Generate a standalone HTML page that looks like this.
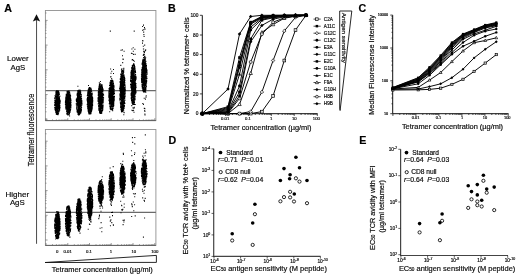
<!DOCTYPE html>
<html><head><meta charset="utf-8"><title>Figure</title>
<style>html,body{margin:0;padding:0;background:#fff;overflow:hidden}svg{display:block}text{font-family:"Liberation Sans",Arial,sans-serif;stroke:#000;stroke-width:0.18px}</style>
</head><body>
<svg width="520" height="278" viewBox="0 0 520 278">
<rect width="520" height="278" fill="#fff"/>
<text x="4.3" y="11.8" font-size="10.7" text-anchor="start" fill="#000" font-weight="bold" >A</text>
<text x="168.0" y="11.7" font-size="10.7" text-anchor="start" fill="#000" font-weight="bold" >B</text>
<text x="358.6" y="11.8" font-size="10.7" text-anchor="start" fill="#000" font-weight="bold" >C</text>
<text x="168.6" y="143.7" font-size="10.7" text-anchor="start" fill="#000" font-weight="bold" >D</text>
<text x="359.2" y="143.8" font-size="10.7" text-anchor="start" fill="#000" font-weight="bold" >E</text>
<rect x="45.4" y="10.5" width="110.5" height="110.1" fill="none" stroke="#909090" stroke-width="0.9"/>
<path d="M45.4 119.2h2.2M45.4 111.8h1.1M45.4 107.5h1.1M45.4 104.4h1.1M45.4 102.0h1.1M45.4 100.1h1.1M45.4 98.4h1.1M45.4 97.0h1.1M45.4 95.7h1.1M45.4 94.5h2.2M45.4 87.1h1.1M45.4 82.8h1.1M45.4 79.7h1.1M45.4 77.3h1.1M45.4 75.4h1.1M45.4 73.7h1.1M45.4 72.3h1.1M45.4 71.0h1.1M45.4 69.8h2.2M45.4 62.4h1.1M45.4 58.1h1.1M45.4 55.0h1.1M45.4 52.6h1.1M45.4 50.7h1.1M45.4 49.0h1.1M45.4 47.6h1.1M45.4 46.3h1.1M45.4 45.1h2.2M45.4 37.7h1.1M45.4 33.4h1.1M45.4 30.3h1.1M45.4 27.9h1.1M45.4 26.0h1.1M45.4 24.3h1.1M45.4 22.9h1.1M45.4 21.6h1.1M45.4 20.4h2.2M45.4 13.0h1.1M46.0 120.6v-2.4M52.5 120.6v-1.2M56.4 120.6v-1.2M59.1 120.6v-1.2M61.2 120.6v-1.2M62.9 120.6v-1.2M64.4 120.6v-1.2M65.6 120.6v-1.2M66.8 120.6v-1.2M67.8 120.6v-2.4M74.3 120.6v-1.2M78.1 120.6v-1.2M80.8 120.6v-1.2M83.0 120.6v-1.2M84.7 120.6v-1.2M86.1 120.6v-1.2M87.4 120.6v-1.2M88.5 120.6v-1.2M89.5 120.6v-2.4M96.0 120.6v-1.2M99.9 120.6v-1.2M102.6 120.6v-1.2M104.7 120.6v-1.2M106.4 120.6v-1.2M107.9 120.6v-1.2M109.1 120.6v-1.2M110.3 120.6v-1.2M111.2 120.6v-2.4M117.8 120.6v-1.2M121.6 120.6v-1.2M124.3 120.6v-1.2M126.5 120.6v-1.2M128.2 120.6v-1.2M129.6 120.6v-1.2M130.9 120.6v-1.2M132.0 120.6v-1.2M133.0 120.6v-2.4M139.5 120.6v-1.2M143.4 120.6v-1.2M146.1 120.6v-1.2M148.2 120.6v-1.2M149.9 120.6v-1.2M151.4 120.6v-1.2M152.6 120.6v-1.2M153.8 120.6v-1.2M154.8 120.6v-2.4" stroke="#555" stroke-width="0.6" fill="none"/>
<path d="M45.4 120.6H155.9" stroke="#5a5a5a" stroke-width="0.9"/>
<path d="M45.4 90.7H155.9" stroke="#6a6a6a" stroke-width="1.2"/>
<ellipse cx="57.4" cy="102.7" rx="1.6" ry="9.6" fill="#000"/>
<ellipse cx="68.2" cy="103.0" rx="1.6" ry="9.6" fill="#000"/>
<ellipse cx="79.1" cy="102.5" rx="1.6" ry="10.0" fill="#000"/>
<ellipse cx="89.9" cy="100.8" rx="1.6" ry="10.6" fill="#000"/>
<ellipse cx="100.8" cy="98.5" rx="1.6" ry="12.0" fill="#000"/>
<ellipse cx="111.7" cy="95.0" rx="1.6" ry="12.0" fill="#000"/>
<ellipse cx="122.5" cy="91.2" rx="1.6" ry="16.6" fill="#000"/>
<ellipse cx="133.3" cy="84.5" rx="1.6" ry="16.0" fill="#000"/>
<ellipse cx="144.2" cy="75.2" rx="1.6" ry="13.4" fill="#000"/>
<path d="M56.3 99.0h1.1M57.8 92.7h1.1M54.2 104.2h1.1M56.2 91.7h1.1M55.3 97.0h1.1M56.5 110.0h1.1M55.1 105.2h1.1M55.6 104.0h1.1M58.1 92.0h1.1M58.5 101.2h1.1M54.8 103.7h1.1M58.8 104.1h1.1M55.4 93.3h1.1M58.4 104.9h1.1M58.1 108.7h1.1M56.0 99.9h1.1M57.7 106.8h1.1M59.4 103.0h1.1M54.2 98.2h1.1M57.5 102.8h1.1M55.7 94.8h1.1M57.0 113.6h1.1M58.0 99.4h1.1M55.4 104.1h1.1M56.0 113.1h1.1M58.0 92.4h1.1M58.0 98.1h1.1M56.3 91.3h1.1M55.3 104.8h1.1M56.4 108.5h1.1M59.5 100.7h1.1M57.7 92.9h1.1M58.5 111.5h1.1M59.5 107.0h1.1M56.6 113.4h1.1M55.3 94.8h1.1M58.7 102.4h1.1M57.4 98.0h1.1M55.8 104.7h1.1M55.3 106.6h1.1M59.4 101.9h1.1M58.1 100.7h1.1M56.6 105.3h1.1M56.3 114.2h1.1M56.6 99.4h1.1M58.5 103.8h1.1M56.6 104.8h1.1M57.4 104.8h1.1M57.8 113.4h1.1M58.6 94.0h1.1M55.8 102.4h1.1M57.6 93.5h1.1M54.8 102.3h1.1M59.2 96.1h1.1M55.6 94.6h1.1M55.9 108.2h1.1M57.7 106.7h1.1M56.1 112.1h1.1M59.2 103.2h1.1M55.0 105.3h1.1M54.8 109.4h1.1M55.5 96.0h1.1M57.6 114.3h1.1M58.7 97.5h1.1M59.5 101.7h1.1M56.2 113.4h1.1M57.9 93.5h1.1M55.2 96.1h1.1M54.9 102.3h1.1M57.2 110.2h1.1M58.8 108.8h1.1M57.8 111.6h1.1M58.6 93.1h1.1M54.6 102.1h1.1M56.3 107.4h1.1M57.6 91.5h1.1M57.3 109.5h1.1M55.7 105.8h1.1M55.9 91.3h1.1M59.5 103.1h1.1M56.6 114.2h1.1M56.5 91.5h1.1M57.8 108.4h1.1M57.1 110.2h1.1M58.2 111.8h1.1M54.8 110.0h1.1M55.2 103.2h1.1M55.2 111.2h1.1M56.4 108.7h1.1M54.7 102.2h1.1M58.4 99.1h1.1M56.5 108.9h1.1M56.0 97.2h1.1M55.1 102.7h1.1M55.0 101.7h1.1M58.2 106.6h1.1M57.7 102.7h1.1M55.3 112.5h1.1M56.4 110.3h1.1M55.8 100.6h1.1M57.6 101.4h1.1M54.6 108.9h1.1M57.9 113.0h1.1M58.8 94.5h1.1M59.2 96.5h1.1M56.4 111.5h1.1M57.9 95.0h1.1M57.5 99.4h1.1M57.6 93.2h1.1M55.4 103.6h1.1M58.5 100.4h1.1M56.6 102.8h1.1M57.0 113.8h1.1M54.4 97.8h1.1M57.3 97.8h1.1M58.4 110.6h1.1M58.5 100.9h1.1M56.5 106.8h1.1M56.3 109.3h1.1M56.8 97.7h1.1M56.6 109.3h1.1M58.3 92.5h1.1M57.8 91.0h1.1M56.3 112.6h1.1M55.8 91.9h1.1M56.4 113.8h1.1M57.7 96.1h1.1M57.6 103.1h1.1M57.5 102.7h1.1M54.5 109.4h1.1M56.0 91.1h1.1M57.7 102.8h1.1M58.5 93.6h1.1M58.5 105.8h1.1M56.4 113.8h1.1M56.4 114.1h1.1M55.7 100.9h1.1M56.9 110.2h1.1M57.1 101.4h1.1M58.3 111.1h1.1M54.8 104.5h1.1M57.4 102.0h1.1M57.2 90.8h1.1M56.1 113.9h1.1M55.7 91.6h1.1M56.9 99.8h1.1M56.2 93.0h1.1M54.8 97.2h1.1M57.2 97.6h1.1M58.1 104.2h1.1M56.1 98.6h1.1M58.9 105.8h1.1M58.8 108.4h1.1M55.2 94.7h1.1M58.1 91.9h1.1M54.7 107.6h1.1M55.4 112.2h1.1M55.4 110.0h1.1M57.0 93.0h1.1M57.5 113.5h1.1M54.9 103.7h1.1M56.8 102.5h1.1M55.4 108.0h1.1M57.1 105.9h1.1M57.1 97.3h1.1M54.9 96.9h1.1M59.4 107.8h1.1M57.1 110.5h1.1M55.2 108.5h1.1M57.2 92.8h1.1M54.8 105.7h1.1M56.9 91.0h1.1M56.7 113.8h1.1M57.8 106.2h1.1M55.4 102.1h1.1M57.4 114.4h1.1M55.8 114.0h1.1M57.1 98.2h1.1M56.4 114.4h1.1M57.1 92.7h1.1M57.1 113.3h1.1M55.4 111.5h1.1M59.4 102.6h1.1M56.9 91.4h1.1M55.6 106.4h1.1M55.6 101.1h1.1M56.9 110.3h1.1M56.5 110.3h1.1M59.3 107.1h1.1M57.1 97.3h1.1M57.4 114.6h1.1M55.5 112.6h1.1M57.1 98.0h1.1M57.4 105.3h1.1M57.9 101.5h1.1M55.7 108.9h1.1M55.3 109.6h1.1M57.1 107.3h1.1M59.1 101.8h1.1M54.2 102.4h1.1M57.9 95.3h1.1M58.9 98.4h1.1M57.7 100.9h1.1M55.6 103.6h1.1M57.2 105.5h1.1M58.3 103.5h1.1M56.4 114.5h1.1M56.0 103.5h1.1M56.5 99.5h1.1M54.5 100.1h1.1M58.4 111.6h1.1M54.7 100.4h1.1M55.7 100.3h1.1M58.6 102.6h1.1M55.7 94.1h1.1M58.5 93.2h1.1M58.3 100.8h1.1M54.9 110.5h1.1M57.8 94.1h1.1M56.2 113.7h1.1M59.5 100.6h1.1M56.5 113.8h1.1M56.3 96.6h1.1M58.0 113.0h1.1M55.4 93.0h1.1M56.1 108.8h1.1M55.8 105.5h1.1M58.5 105.1h1.1M56.4 106.8h1.1M54.3 98.5h1.1M56.1 100.5h1.1M57.2 91.0h1.1M55.9 98.0h1.1M56.0 102.3h1.1M57.4 91.5h1.1M57.2 92.2h1.1M57.4 92.9h1.1M56.4 112.6h1.1M58.9 106.7h1.1M57.5 106.4h1.1M55.4 107.8h1.1M56.1 102.6h1.1M57.5 96.8h1.1M55.5 93.6h1.1M55.8 111.8h1.1M57.1 113.2h1.1M56.8 92.2h1.1M54.7 101.1h1.1M59.4 100.6h1.1M54.2 107.6h1.1M57.5 99.2h1.1M57.8 91.6h1.1M59.1 110.3h1.1M56.9 95.2h1.1M56.0 92.9h1.1M59.1 103.7h1.1M59.2 99.8h1.1M55.5 93.1h1.1M54.2 100.2h1.1M59.0 99.0h1.1M57.4 91.5h1.1M56.8 91.8h1.1M56.6 109.4h1.1M59.2 108.0h1.1M55.8 100.0h1.1M58.8 97.6h1.1M56.2 112.5h1.1M57.2 91.4h1.1M58.2 107.2h1.1M59.1 109.0h1.1M55.7 94.3h1.1M55.0 109.4h1.1M57.9 104.7h1.1M54.5 102.0h1.1M55.6 102.8h1.1M56.6 97.2h1.1M55.2 102.4h1.1M55.8 114.1h1.1M56.5 97.6h1.1M59.7 101.2h1.1M57.3 95.3h1.1M54.8 105.0h1.1M57.7 108.8h1.1M58.1 103.8h1.1M56.1 96.0h1.1M56.0 96.9h1.1M55.6 99.1h1.1M56.0 102.7h1.1M54.1 105.7h1.1M56.0 90.8h1.1M54.8 110.3h1.1M56.3 111.3h1.1M54.5 95.7h1.1M56.1 112.7h1.1M55.9 101.8h1.1M58.1 93.6h1.1M55.8 96.5h1.1M55.4 91.9h1.1M54.9 104.5h1.1M58.8 109.7h1.1M57.5 106.3h1.1M56.9 92.8h1.1M56.6 103.5h1.1M55.1 109.2h1.1M56.5 105.4h1.1M57.8 100.7h1.1M55.5 106.1h1.1M58.5 98.8h1.1M56.9 101.1h1.1M58.1 105.5h1.1M56.8 96.1h1.1M59.2 101.3h1.1M55.6 104.1h1.1M56.7 94.2h1.1M54.3 105.4h1.1M54.2 104.0h1.1M56.1 94.6h1.1M57.1 112.6h1.1M54.8 108.1h1.1M54.5 98.5h1.1M56.2 113.9h1.1M54.9 104.7h1.1M55.6 112.0h1.1M59.3 105.4h1.1M57.6 104.8h1.1M57.5 95.6h1.1M57.2 112.9h1.1M56.2 94.0h1.1M56.0 91.8h1.1M57.9 106.1h1.1M69.4 104.9h1.1M66.7 106.0h1.1M69.7 101.7h1.1M67.0 103.0h1.1M66.2 105.3h1.1M69.6 102.1h1.1M69.6 110.6h1.1M68.0 93.9h1.1M65.4 100.3h1.1M67.9 92.1h1.1M66.3 109.1h1.1M65.4 108.5h1.1M67.6 91.7h1.1M70.0 96.2h1.1M65.5 98.5h1.1M65.6 106.9h1.1M68.4 92.8h1.1M69.7 95.3h1.1M68.7 112.4h1.1M65.0 103.0h1.1M65.8 104.7h1.1M67.5 99.3h1.1M69.6 101.2h1.1M65.2 106.7h1.1M66.9 109.5h1.1M68.9 105.7h1.1M65.9 104.0h1.1M69.2 97.6h1.1M68.8 108.1h1.1M68.3 114.7h1.1M67.4 99.5h1.1M65.9 95.7h1.1M69.2 98.7h1.1M70.4 105.8h1.1M65.7 108.0h1.1M69.1 95.0h1.1M66.5 101.5h1.1M67.1 94.6h1.1M67.7 91.6h1.1M66.1 98.9h1.1M66.7 101.4h1.1M69.3 96.4h1.1M67.6 95.3h1.1M66.3 107.4h1.1M70.2 105.7h1.1M66.8 101.2h1.1M69.0 92.5h1.1M69.5 104.8h1.1M65.3 97.6h1.1M67.6 92.7h1.1M67.5 97.3h1.1M67.1 91.3h1.1M68.2 94.8h1.1M68.2 110.0h1.1M68.8 92.7h1.1M67.7 107.6h1.1M69.0 108.3h1.1M70.0 95.7h1.1M67.9 97.1h1.1M69.5 112.1h1.1M68.6 107.5h1.1M70.2 106.8h1.1M65.2 98.7h1.1M66.7 93.3h1.1M66.9 97.8h1.1M68.9 113.5h1.1M66.6 96.1h1.1M70.1 100.7h1.1M66.0 102.6h1.1M66.6 111.2h1.1M66.7 104.3h1.1M65.9 100.9h1.1M67.6 94.9h1.1M67.1 105.4h1.1M67.6 107.2h1.1M65.9 107.0h1.1M68.0 108.1h1.1M65.4 96.3h1.1M69.3 111.7h1.1M67.2 93.9h1.1M66.5 91.9h1.1M69.3 110.3h1.1M67.2 102.7h1.1M68.8 98.7h1.1M68.1 91.6h1.1M68.9 92.3h1.1M69.3 108.9h1.1M66.2 111.0h1.1M67.6 109.4h1.1M65.6 99.9h1.1M70.0 107.5h1.1M67.7 95.6h1.1M65.6 98.5h1.1M68.2 91.1h1.1M70.0 107.1h1.1M70.4 104.7h1.1M67.1 104.4h1.1M67.2 113.3h1.1M66.4 94.0h1.1M64.9 102.9h1.1M68.9 105.5h1.1M66.2 113.0h1.1M69.7 101.6h1.1M66.9 96.5h1.1M65.2 100.7h1.1M67.4 113.5h1.1M66.6 100.0h1.1M68.8 111.4h1.1M68.8 95.5h1.1M68.2 104.4h1.1M65.7 105.8h1.1M65.6 98.0h1.1M70.3 107.7h1.1M66.6 104.9h1.1M67.0 99.5h1.1M66.1 95.4h1.1M70.5 100.8h1.1M66.4 108.0h1.1M69.5 94.0h1.1M66.6 96.5h1.1M68.6 91.3h1.1M69.2 107.0h1.1M68.2 102.4h1.1M68.0 91.2h1.1M69.4 107.2h1.1M66.1 110.9h1.1M69.6 106.7h1.1M66.8 101.8h1.1M68.3 112.1h1.1M69.5 107.5h1.1M66.5 110.9h1.1M66.4 105.4h1.1M66.9 112.1h1.1M66.2 100.9h1.1M66.9 92.0h1.1M65.2 107.6h1.1M68.1 103.3h1.1M65.6 103.7h1.1M70.1 105.8h1.1M65.0 101.3h1.1M67.5 114.7h1.1M66.0 107.9h1.1M66.6 97.7h1.1M68.2 91.4h1.1M69.7 105.5h1.1M68.4 94.0h1.1M66.8 113.4h1.1M68.6 114.8h1.1M67.3 96.6h1.1M69.3 109.9h1.1M65.6 105.8h1.1M69.6 100.1h1.1M66.7 102.5h1.1M66.4 109.2h1.1M68.8 98.0h1.1M68.5 114.5h1.1M68.4 91.1h1.1M69.6 100.2h1.1M66.3 102.7h1.1M68.9 106.2h1.1M67.9 111.1h1.1M68.2 109.3h1.1M67.6 105.6h1.1M68.0 96.6h1.1M67.3 97.6h1.1M68.2 111.1h1.1M68.3 99.9h1.1M67.2 109.5h1.1M70.2 106.4h1.1M65.9 96.3h1.1M66.4 108.2h1.1M66.8 103.9h1.1M66.5 110.4h1.1M70.3 102.8h1.1M67.1 97.5h1.1M68.6 95.3h1.1M70.1 106.4h1.1M64.9 101.7h1.1M66.7 95.8h1.1M67.8 91.6h1.1M68.0 109.9h1.1M65.1 102.8h1.1M66.5 96.7h1.1M70.1 99.7h1.1M65.5 99.8h1.1M68.8 98.4h1.1M70.1 103.9h1.1M69.2 100.1h1.1M68.6 103.0h1.1M66.9 114.3h1.1M68.7 99.6h1.1M65.7 94.4h1.1M67.9 109.3h1.1M67.9 103.8h1.1M67.8 93.9h1.1M69.7 105.1h1.1M65.8 105.3h1.1M69.4 96.6h1.1M67.1 105.4h1.1M66.7 111.5h1.1M69.0 112.7h1.1M68.1 111.5h1.1M68.6 104.1h1.1M67.6 95.9h1.1M65.8 101.8h1.1M66.1 103.0h1.1M68.9 109.0h1.1M67.8 102.1h1.1M64.9 104.8h1.1M66.4 102.6h1.1M66.8 93.3h1.1M66.3 105.5h1.1M67.2 106.8h1.1M68.1 96.8h1.1M66.9 91.5h1.1M65.5 102.2h1.1M65.5 100.4h1.1M68.0 107.9h1.1M70.4 102.4h1.1M67.6 112.6h1.1M67.7 91.3h1.1M66.7 100.9h1.1M66.5 113.8h1.1M70.3 99.2h1.1M67.1 102.5h1.1M69.6 100.3h1.1M70.0 102.7h1.1M68.9 113.5h1.1M67.9 98.6h1.1M66.1 111.5h1.1M69.2 110.5h1.1M64.9 104.6h1.1M65.7 100.6h1.1M66.9 109.9h1.1M66.8 99.3h1.1M65.3 104.6h1.1M67.2 98.5h1.1M70.0 98.2h1.1M68.0 99.9h1.1M67.1 109.6h1.1M67.9 99.0h1.1M68.4 102.4h1.1M67.8 104.6h1.1M68.1 102.3h1.1M68.4 109.0h1.1M68.8 111.9h1.1M67.0 103.1h1.1M68.3 96.1h1.1M69.4 100.3h1.1M65.5 109.2h1.1M69.1 92.2h1.1M68.6 111.4h1.1M67.2 109.3h1.1M66.1 99.9h1.1M68.2 93.6h1.1M68.5 104.6h1.1M65.0 101.7h1.1M67.5 97.7h1.1M67.3 114.9h1.1M68.6 92.4h1.1M65.2 102.8h1.1M66.2 111.3h1.1M68.0 107.3h1.1M69.6 104.1h1.1M69.7 95.9h1.1M66.4 114.1h1.1M69.9 95.6h1.1M66.8 92.6h1.1M67.9 110.6h1.1M67.4 92.5h1.1M68.8 113.3h1.1M66.3 104.7h1.1M68.9 102.5h1.1M66.6 94.4h1.1M65.3 102.0h1.1M65.1 102.5h1.1M65.8 95.2h1.1M66.3 113.2h1.1M70.1 109.1h1.1M69.2 110.8h1.1M67.2 114.2h1.1M65.8 102.7h1.1M65.6 99.6h1.1M66.1 107.5h1.1M68.3 101.9h1.1M68.3 101.4h1.1M66.7 104.3h1.1M68.1 97.9h1.1M67.4 112.4h1.1M65.4 105.6h1.1M65.3 104.0h1.1M68.4 97.8h1.1M66.8 101.8h1.1M67.9 113.0h1.1M68.3 101.4h1.1M69.2 94.9h1.1M66.7 109.8h1.1M70.0 102.0h1.1M68.9 96.0h1.1M66.2 96.8h1.1M66.4 110.8h1.1M67.0 107.5h1.1M69.8 110.4h1.1M67.1 108.7h1.1M65.6 105.2h1.1M67.0 104.5h1.1M66.2 107.0h1.1M68.9 103.3h1.1M69.7 110.8h1.1M68.6 93.5h1.1M66.2 94.6h1.1M69.7 96.0h1.1M66.7 92.0h1.1M65.1 100.1h1.1M69.2 94.3h1.1M65.5 109.1h1.1M68.1 98.6h1.1M67.6 102.1h1.1M66.6 91.6h1.1M68.3 105.3h1.1M65.5 97.6h1.1M66.7 91.5h1.1M69.9 97.9h1.1M65.6 103.3h1.1M67.3 100.0h1.1M67.9 92.2h1.1M65.5 104.6h1.1M66.8 94.3h1.1M66.9 103.7h1.1M69.1 95.0h1.1M69.1 116.0h1M79.3 113.2h1.1M76.7 104.4h1.1M81.2 100.4h1.1M79.4 99.1h1.1M80.8 107.2h1.1M76.5 109.8h1.1M79.1 98.8h1.1M77.3 96.8h1.1M76.9 99.7h1.1M77.9 98.7h1.1M79.7 96.2h1.1M76.2 108.8h1.1M76.4 109.7h1.1M79.4 91.0h1.1M77.4 112.7h1.1M77.7 105.0h1.1M81.3 101.3h1.1M77.7 93.2h1.1M79.9 93.4h1.1M77.4 92.4h1.1M80.2 101.4h1.1M79.7 112.6h1.1M78.9 96.7h1.1M77.1 110.5h1.1M79.3 105.6h1.1M80.3 101.8h1.1M77.5 102.0h1.1M79.2 99.0h1.1M79.1 114.1h1.1M80.7 94.5h1.1M80.1 103.5h1.1M78.0 111.6h1.1M78.0 108.7h1.1M77.4 104.6h1.1M81.0 102.8h1.1M78.2 107.8h1.1M77.9 114.7h1.1M76.5 100.9h1.1M80.4 106.2h1.1M79.9 110.0h1.1M76.8 97.3h1.1M79.0 100.8h1.1M80.2 108.5h1.1M75.8 100.5h1.1M76.3 100.9h1.1M80.0 100.1h1.1M79.6 97.8h1.1M80.3 100.3h1.1M78.6 105.6h1.1M79.6 100.1h1.1M79.7 109.5h1.1M78.9 104.1h1.1M76.2 98.7h1.1M78.9 113.8h1.1M76.7 111.9h1.1M79.4 91.4h1.1M80.1 98.1h1.1M81.4 103.2h1.1M79.7 100.3h1.1M78.5 101.7h1.1M78.9 102.9h1.1M76.6 102.5h1.1M80.5 111.6h1.1M80.8 100.6h1.1M76.4 106.6h1.1M77.7 94.8h1.1M77.2 110.1h1.1M79.5 105.8h1.1M80.9 110.0h1.1M76.9 105.2h1.1M77.9 102.6h1.1M77.6 91.7h1.1M75.8 99.4h1.1M78.5 106.7h1.1M76.6 98.3h1.1M77.7 112.6h1.1M76.5 104.2h1.1M80.4 94.9h1.1M76.7 111.4h1.1M77.2 103.9h1.1M77.3 94.1h1.1M78.7 90.8h1.1M77.0 110.1h1.1M80.6 105.6h1.1M79.2 94.0h1.1M77.8 94.7h1.1M76.5 111.0h1.1M80.0 99.3h1.1M78.9 90.6h1.1M81.3 104.1h1.1M78.1 91.6h1.1M77.2 91.3h1.1M81.0 98.5h1.1M80.3 98.2h1.1M78.7 114.4h1.1M80.3 106.2h1.1M81.0 98.4h1.1M77.5 90.6h1.1M77.6 94.8h1.1M79.4 90.2h1.1M79.0 103.6h1.1M76.6 99.0h1.1M75.9 101.0h1.1M80.0 100.2h1.1M78.4 96.5h1.1M78.0 99.2h1.1M77.9 92.6h1.1M77.1 103.5h1.1M79.5 94.5h1.1M75.9 100.0h1.1M77.1 98.1h1.1M77.3 96.3h1.1M80.1 113.3h1.1M77.3 104.2h1.1M77.0 100.6h1.1M78.2 111.4h1.1M79.5 103.2h1.1M77.6 90.8h1.1M77.3 98.4h1.1M76.4 106.7h1.1M76.6 98.7h1.1M80.1 91.9h1.1M76.8 95.4h1.1M79.0 96.3h1.1M79.8 97.7h1.1M76.3 108.8h1.1M78.9 113.2h1.1M80.5 106.4h1.1M78.6 112.1h1.1M80.8 96.8h1.1M78.8 112.3h1.1M76.7 93.3h1.1M78.4 107.2h1.1M79.9 104.7h1.1M80.3 94.4h1.1M75.9 105.1h1.1M80.7 103.8h1.1M79.8 112.9h1.1M78.8 113.2h1.1M76.9 112.2h1.1M77.7 114.3h1.1M79.2 109.2h1.1M78.9 108.1h1.1M78.0 114.9h1.1M78.9 97.7h1.1M79.7 101.5h1.1M76.5 102.6h1.1M76.9 101.2h1.1M79.2 102.4h1.1M78.1 94.9h1.1M77.7 103.3h1.1M77.6 94.7h1.1M77.7 95.6h1.1M80.0 106.5h1.1M79.3 96.6h1.1M80.0 93.7h1.1M77.0 93.8h1.1M80.9 99.0h1.1M78.0 108.4h1.1M80.0 104.4h1.1M78.9 110.3h1.1M78.0 90.4h1.1M78.0 91.7h1.1M77.8 93.1h1.1M79.7 94.5h1.1M76.9 97.9h1.1M79.5 90.3h1.1M79.9 92.4h1.1M79.6 93.1h1.1M80.9 102.3h1.1M79.4 90.2h1.1M81.2 105.1h1.1M78.2 105.7h1.1M78.0 90.7h1.1M77.9 98.0h1.1M80.0 92.9h1.1M77.6 107.9h1.1M77.4 105.6h1.1M80.2 99.8h1.1M77.8 110.5h1.1M79.4 91.2h1.1M80.3 112.3h1.1M80.7 101.0h1.1M76.7 104.5h1.1M79.1 106.6h1.1M77.3 105.3h1.1M77.4 110.8h1.1M78.6 107.4h1.1M78.3 94.0h1.1M79.9 102.7h1.1M78.5 91.8h1.1M79.0 112.3h1.1M79.3 90.1h1.1M80.0 103.7h1.1M77.2 102.8h1.1M77.4 114.3h1.1M78.8 109.7h1.1M79.6 104.7h1.1M77.8 113.7h1.1M77.5 98.1h1.1M79.2 110.7h1.1M79.1 106.6h1.1M81.3 103.5h1.1M80.3 103.0h1.1M77.8 97.2h1.1M79.0 103.3h1.1M79.2 105.6h1.1M79.3 107.1h1.1M77.0 96.3h1.1M76.1 107.8h1.1M80.1 110.8h1.1M77.4 93.8h1.1M75.9 105.1h1.1M76.5 101.8h1.1M78.9 114.1h1.1M78.1 108.8h1.1M78.3 100.6h1.1M77.9 90.4h1.1M78.1 101.8h1.1M76.0 101.1h1.1M81.2 103.7h1.1M80.3 94.7h1.1M76.7 109.6h1.1M78.9 110.1h1.1M80.2 102.7h1.1M78.7 107.4h1.1M77.4 92.8h1.1M77.3 91.0h1.1M79.2 97.0h1.1M79.7 90.6h1.1M78.5 93.2h1.1M78.0 92.1h1.1M79.5 103.5h1.1M80.0 110.4h1.1M80.6 103.2h1.1M78.6 113.5h1.1M79.0 114.8h1.1M76.8 111.4h1.1M79.7 92.1h1.1M80.7 110.6h1.1M76.0 100.4h1.1M80.2 99.6h1.1M77.3 112.0h1.1M80.6 95.9h1.1M80.0 98.9h1.1M79.6 98.5h1.1M78.7 99.0h1.1M77.2 111.5h1.1M79.1 107.5h1.1M80.0 97.5h1.1M76.8 99.5h1.1M78.5 114.8h1.1M76.9 111.4h1.1M77.6 99.7h1.1M76.6 111.4h1.1M80.7 98.2h1.1M80.5 102.6h1.1M80.1 111.4h1.1M79.2 91.7h1.1M80.2 111.7h1.1M80.2 112.0h1.1M79.1 94.2h1.1M79.8 100.6h1.1M77.5 113.0h1.1M79.5 98.2h1.1M78.1 92.1h1.1M79.6 104.1h1.1M79.0 114.6h1.1M81.0 107.4h1.1M79.2 98.6h1.1M80.8 103.3h1.1M78.5 96.5h1.1M79.3 100.5h1.1M77.1 111.2h1.1M78.3 96.7h1.1M78.9 104.5h1.1M78.6 107.3h1.1M81.1 103.1h1.1M79.0 112.8h1.1M78.6 111.3h1.1M80.6 100.7h1.1M76.5 94.9h1.1M79.7 92.5h1.1M79.0 114.7h1.1M78.6 111.4h1.1M75.7 103.7h1.1M80.7 100.9h1.1M78.5 94.4h1.1M76.8 94.0h1.1M79.7 99.6h1.1M76.7 103.2h1.1M80.3 105.8h1.1M80.2 96.3h1.1M80.6 108.5h1.1M80.2 105.7h1.1M79.7 103.6h1.1M78.6 93.7h1.1M80.1 92.8h1.1M80.0 94.2h1.1M78.2 108.3h1.1M78.1 105.0h1.1M79.2 103.5h1.1M76.2 107.8h1.1M77.4 103.0h1.1M76.1 101.4h1.1M79.7 105.3h1.1M77.5 101.8h1.1M77.1 93.0h1.1M80.8 109.6h1.1M79.5 91.7h1.1M77.7 112.4h1.1M78.6 90.9h1.1M79.6 96.7h1.1M80.3 108.4h1.1M77.4 111.6h1.1M81.2 102.1h1.1M78.8 113.7h1.1M79.6 97.7h1.1M79.2 111.4h1.1M80.3 106.4h1.1M78.4 95.9h1.1M76.9 110.8h1.1M76.4 108.9h1.1M79.1 101.3h1.1M76.3 106.5h1.1M78.6 114.3h1.1M76.9 94.2h1.1M79.9 108.2h1.1M79.3 92.6h1.1M76.6 111.7h1.1M77.4 86.3h1M89.3 103.5h1.1M90.2 100.8h1.1M87.3 105.3h1.1M89.0 113.7h1.1M88.3 91.1h1.1M89.4 101.2h1.1M88.9 105.0h1.1M86.9 101.3h1.1M88.7 97.4h1.1M88.5 106.2h1.1M89.1 88.0h1.1M89.6 93.3h1.1M88.4 95.2h1.1M91.0 104.1h1.1M92.1 105.1h1.1M90.5 98.7h1.1M90.0 98.3h1.1M87.7 110.5h1.1M90.8 94.5h1.1M87.3 105.2h1.1M87.8 108.8h1.1M87.6 109.3h1.1M91.1 98.8h1.1M88.3 101.7h1.1M91.4 100.3h1.1M91.2 100.9h1.1M91.1 94.3h1.1M89.7 97.6h1.1M91.4 103.1h1.1M88.0 89.7h1.1M90.8 111.7h1.1M90.4 111.3h1.1M87.9 101.1h1.1M89.5 114.0h1.1M91.1 101.2h1.1M90.0 94.5h1.1M87.2 92.8h1.1M90.5 96.7h1.1M89.8 91.2h1.1M90.6 98.1h1.1M89.8 99.9h1.1M88.1 95.9h1.1M87.9 99.8h1.1M88.9 107.0h1.1M87.8 97.9h1.1M91.0 103.4h1.1M87.8 94.9h1.1M89.1 102.1h1.1M91.0 96.3h1.1M90.2 94.9h1.1M88.1 90.2h1.1M90.6 93.4h1.1M88.2 103.3h1.1M88.2 105.8h1.1M90.3 105.7h1.1M91.3 99.4h1.1M88.2 97.5h1.1M89.8 111.7h1.1M89.0 89.4h1.1M90.3 89.9h1.1M87.8 101.2h1.1M90.6 90.7h1.1M90.7 105.4h1.1M89.6 92.7h1.1M87.8 100.6h1.1M91.5 104.6h1.1M92.1 101.5h1.1M91.7 101.8h1.1M88.8 91.0h1.1M89.5 102.2h1.1M90.8 90.2h1.1M90.5 89.2h1.1M89.6 100.5h1.1M89.8 109.4h1.1M87.3 108.6h1.1M88.7 96.7h1.1M90.8 93.0h1.1M90.2 90.1h1.1M91.0 101.8h1.1M88.4 104.9h1.1M91.1 110.0h1.1M88.9 96.3h1.1M90.6 101.4h1.1M87.3 104.2h1.1M87.1 97.8h1.1M87.3 99.9h1.1M89.4 106.2h1.1M91.1 98.9h1.1M89.8 88.6h1.1M91.4 95.9h1.1M87.2 98.8h1.1M89.6 110.4h1.1M89.0 109.8h1.1M89.6 109.9h1.1M87.2 92.8h1.1M91.4 100.7h1.1M88.0 108.2h1.1M87.4 91.8h1.1M87.9 101.0h1.1M91.8 107.7h1.1M91.5 94.1h1.1M88.8 105.0h1.1M89.1 111.7h1.1M88.6 109.1h1.1M87.7 110.3h1.1M88.5 96.4h1.1M87.6 92.0h1.1M89.6 98.5h1.1M88.6 92.1h1.1M88.9 93.3h1.1M87.4 99.4h1.1M88.8 88.7h1.1M88.5 113.9h1.1M90.5 95.9h1.1M87.6 110.7h1.1M86.9 100.5h1.1M88.1 93.4h1.1M88.4 102.3h1.1M88.9 113.0h1.1M89.6 104.2h1.1M90.9 97.4h1.1M90.0 106.5h1.1M91.2 108.4h1.1M88.3 90.4h1.1M87.9 102.7h1.1M90.3 88.7h1.1M89.9 104.0h1.1M88.1 89.8h1.1M87.4 97.7h1.1M91.8 97.0h1.1M88.5 96.2h1.1M89.7 110.4h1.1M91.0 95.3h1.1M88.8 100.2h1.1M88.2 100.8h1.1M87.8 95.7h1.1M88.0 111.2h1.1M89.3 110.7h1.1M87.1 100.6h1.1M88.6 105.1h1.1M88.7 92.1h1.1M87.5 99.2h1.1M87.0 95.9h1.1M88.6 104.4h1.1M87.1 102.7h1.1M89.7 108.7h1.1M89.3 113.5h1.1M90.3 108.5h1.1M90.1 102.6h1.1M90.1 112.2h1.1M88.4 88.5h1.1M87.5 106.3h1.1M87.5 108.0h1.1M90.1 93.3h1.1M89.1 105.6h1.1M90.7 107.9h1.1M88.3 101.2h1.1M87.7 106.8h1.1M89.6 110.0h1.1M89.7 107.7h1.1M91.7 102.4h1.1M87.3 104.7h1.1M91.3 95.0h1.1M87.9 111.1h1.1M91.8 99.5h1.1M87.7 106.7h1.1M90.7 89.6h1.1M87.2 106.7h1.1M88.2 93.3h1.1M88.1 110.3h1.1M91.7 98.5h1.1M88.3 108.8h1.1M91.2 94.2h1.1M91.9 104.4h1.1M89.4 107.9h1.1M92.1 102.9h1.1M91.2 99.1h1.1M88.1 91.8h1.1M87.0 97.5h1.1M89.7 95.9h1.1M91.5 93.0h1.1M87.1 104.3h1.1M91.1 93.8h1.1M89.9 108.8h1.1M88.9 97.0h1.1M91.7 94.1h1.1M88.4 96.4h1.1M91.5 109.7h1.1M89.4 101.2h1.1M90.0 90.6h1.1M91.3 106.4h1.1M91.1 91.5h1.1M89.7 104.5h1.1M92.1 99.7h1.1M91.4 96.3h1.1M88.1 112.1h1.1M90.4 111.2h1.1M89.3 105.1h1.1M88.0 101.8h1.1M87.3 106.1h1.1M88.6 112.4h1.1M88.1 112.6h1.1M87.2 93.0h1.1M89.6 113.9h1.1M88.6 103.5h1.1M86.6 99.2h1.1M91.1 108.3h1.1M92.2 100.7h1.1M88.5 105.1h1.1M88.2 109.1h1.1M88.4 107.9h1.1M87.4 93.4h1.1M87.7 92.3h1.1M91.9 104.9h1.1M90.4 113.1h1.1M89.7 112.9h1.1M90.4 110.7h1.1M90.2 111.8h1.1M90.5 97.7h1.1M90.1 95.2h1.1M88.1 100.8h1.1M88.5 107.5h1.1M91.0 95.6h1.1M90.3 106.8h1.1M90.6 105.8h1.1M89.8 109.6h1.1M89.6 107.3h1.1M92.0 97.5h1.1M88.4 113.4h1.1M91.2 106.8h1.1M91.1 109.1h1.1M88.9 92.4h1.1M90.5 107.4h1.1M91.0 98.7h1.1M88.7 97.4h1.1M91.0 101.3h1.1M88.6 91.5h1.1M89.2 111.7h1.1M90.9 109.6h1.1M91.2 98.8h1.1M87.6 107.7h1.1M87.8 92.0h1.1M86.8 100.8h1.1M91.6 106.5h1.1M89.8 110.4h1.1M88.5 103.1h1.1M91.0 107.3h1.1M92.0 103.0h1.1M88.1 90.3h1.1M87.4 97.7h1.1M87.4 91.1h1.1M88.8 87.6h1.1M91.0 99.7h1.1M87.6 102.6h1.1M88.2 88.7h1.1M90.4 100.5h1.1M88.6 112.9h1.1M87.4 93.9h1.1M86.8 95.6h1.1M90.0 94.0h1.1M89.7 99.2h1.1M91.1 106.0h1.1M92.1 98.4h1.1M87.2 94.1h1.1M91.7 108.2h1.1M90.3 104.3h1.1M90.8 102.3h1.1M87.8 93.1h1.1M88.4 98.7h1.1M87.8 89.8h1.1M88.7 99.6h1.1M90.0 107.4h1.1M86.9 106.7h1.1M89.0 89.4h1.1M90.9 109.1h1.1M91.3 101.9h1.1M89.1 113.7h1.1M91.3 106.4h1.1M91.0 111.0h1.1M88.4 107.3h1.1M91.9 97.8h1.1M90.3 113.7h1.1M87.0 100.4h1.1M90.7 109.5h1.1M90.2 100.9h1.1M86.8 104.2h1.1M91.9 105.6h1.1M87.5 107.4h1.1M87.4 108.4h1.1M89.7 91.6h1.1M88.4 88.3h1.1M89.2 100.1h1.1M90.3 109.8h1.1M87.5 100.5h1.1M89.6 87.7h1.1M89.0 98.2h1.1M90.2 112.3h1.1M87.8 107.0h1.1M88.9 109.9h1.1M90.8 105.8h1.1M89.9 103.0h1.1M89.1 102.8h1.1M87.2 108.1h1.1M87.1 98.5h1.1M87.2 103.7h1.1M87.1 94.6h1.1M89.3 108.2h1.1M86.7 98.7h1.1M89.6 107.4h1.1M88.9 95.1h1.1M86.7 100.4h1.1M87.4 93.0h1.1M90.5 103.2h1.1M89.4 111.5h1.1M87.0 101.8h1.1M91.3 105.5h1.1M87.4 100.0h1.1M90.4 88.2h1.1M87.6 93.6h1.1M86.7 104.6h1.1M88.2 101.6h1.1M88.9 90.1h1.1M90.0 90.2h1.1M89.9 107.1h1.1M89.4 107.2h1.1M88.4 88.8h1.1M90.9 101.1h1.1M88.3 111.7h1.1M88.0 111.5h1.1M87.8 111.4h1.1M88.0 85.5h1M98.7 110.5h1.1M102.5 89.5h1.1M100.7 91.9h1.1M100.4 108.3h1.1M101.2 86.7h1.1M102.4 105.6h1.1M101.1 92.5h1.1M101.4 99.3h1.1M99.6 110.8h1.1M98.6 109.8h1.1M101.9 87.1h1.1M99.1 96.8h1.1M97.5 99.3h1.1M100.0 90.5h1.1M99.5 111.4h1.1M99.5 102.2h1.1M99.0 104.2h1.1M100.5 113.1h1.1M100.9 101.2h1.1M101.0 105.4h1.1M100.1 112.1h1.1M98.4 102.0h1.1M102.0 102.4h1.1M100.0 93.4h1.1M99.9 99.2h1.1M100.6 88.3h1.1M101.8 102.2h1.1M99.4 110.8h1.1M99.1 91.9h1.1M98.1 97.3h1.1M101.4 108.8h1.1M100.1 107.9h1.1M100.8 87.1h1.1M99.3 102.9h1.1M100.0 108.3h1.1M101.8 88.8h1.1M99.6 102.6h1.1M97.8 98.2h1.1M98.3 95.7h1.1M100.8 85.6h1.1M100.6 108.5h1.1M98.1 95.1h1.1M102.4 95.3h1.1M98.6 95.2h1.1M98.3 109.2h1.1M99.1 92.8h1.1M99.6 90.9h1.1M98.0 105.7h1.1M98.8 102.0h1.1M101.3 85.2h1.1M100.4 91.3h1.1M100.7 98.3h1.1M100.6 86.7h1.1M101.8 110.9h1.1M99.8 97.2h1.1M98.9 92.2h1.1M99.3 111.3h1.1M98.7 98.7h1.1M102.8 99.9h1.1M98.4 87.2h1.1M100.8 91.4h1.1M100.5 90.6h1.1M97.5 97.9h1.1M101.1 86.0h1.1M100.9 86.8h1.1M101.5 85.8h1.1M99.6 98.2h1.1M97.9 101.6h1.1M98.2 102.1h1.1M101.1 99.3h1.1M100.8 102.7h1.1M102.0 88.4h1.1M102.5 105.0h1.1M98.3 102.4h1.1M99.7 84.0h1.1M102.7 97.4h1.1M99.7 97.2h1.1M99.2 93.4h1.1M99.5 111.4h1.1M99.3 83.9h1.1M101.0 85.7h1.1M99.5 102.9h1.1M101.5 89.9h1.1M99.8 113.5h1.1M99.3 112.6h1.1M99.1 96.3h1.1M98.0 100.0h1.1M100.3 107.7h1.1M101.7 101.0h1.1M99.6 88.1h1.1M99.0 92.5h1.1M100.4 113.4h1.1M100.1 109.7h1.1M100.6 96.8h1.1M99.5 106.5h1.1M102.3 108.8h1.1M99.3 112.4h1.1M98.9 85.3h1.1M99.1 112.4h1.1M97.7 92.9h1.1M101.9 96.7h1.1M98.6 107.1h1.1M101.8 97.3h1.1M98.4 110.1h1.1M102.1 97.1h1.1M100.9 100.1h1.1M101.6 102.1h1.1M100.0 103.1h1.1M101.7 101.5h1.1M100.3 106.8h1.1M98.1 94.5h1.1M99.2 97.8h1.1M100.1 112.8h1.1M98.9 99.4h1.1M100.8 110.1h1.1M101.8 95.6h1.1M99.7 87.8h1.1M99.9 109.4h1.1M98.9 109.6h1.1M101.7 97.9h1.1M101.4 100.2h1.1M98.0 93.7h1.1M102.5 103.0h1.1M103.0 95.3h1.1M98.7 108.0h1.1M97.7 103.9h1.1M102.7 95.3h1.1M100.5 89.0h1.1M98.3 108.4h1.1M100.3 90.1h1.1M99.4 104.5h1.1M98.2 106.8h1.1M100.2 103.6h1.1M98.1 89.3h1.1M100.1 84.2h1.1M100.5 112.5h1.1M100.9 86.0h1.1M101.8 96.6h1.1M102.8 94.3h1.1M100.0 89.0h1.1M101.1 103.6h1.1M98.7 94.5h1.1M97.5 101.0h1.1M102.5 105.3h1.1M98.1 95.7h1.1M100.5 93.6h1.1M99.1 86.7h1.1M101.5 106.6h1.1M99.5 106.6h1.1M101.5 107.6h1.1M99.7 88.2h1.1M98.9 87.2h1.1M101.7 105.3h1.1M100.1 104.5h1.1M101.1 90.8h1.1M97.7 101.3h1.1M101.3 113.0h1.1M100.4 87.9h1.1M102.4 105.9h1.1M101.9 96.0h1.1M99.2 85.4h1.1M99.2 93.1h1.1M98.2 88.6h1.1M99.5 97.7h1.1M102.1 106.4h1.1M101.7 103.3h1.1M99.9 106.1h1.1M98.9 101.5h1.1M98.4 91.8h1.1M102.7 97.4h1.1M101.3 105.9h1.1M102.1 106.2h1.1M100.7 101.4h1.1M98.6 86.5h1.1M98.9 84.8h1.1M99.1 85.7h1.1M100.5 93.3h1.1M100.6 97.1h1.1M98.2 103.7h1.1M99.1 84.6h1.1M102.4 99.1h1.1M101.6 89.0h1.1M100.8 89.2h1.1M99.1 104.0h1.1M98.5 97.6h1.1M102.3 92.0h1.1M103.0 98.0h1.1M99.1 105.5h1.1M99.8 104.8h1.1M101.2 110.6h1.1M100.4 106.9h1.1M102.0 107.3h1.1M102.3 93.7h1.1M98.3 103.2h1.1M102.3 107.5h1.1M99.5 83.9h1.1M102.1 110.1h1.1M101.2 91.0h1.1M100.8 111.8h1.1M99.3 96.0h1.1M99.5 83.9h1.1M98.6 107.4h1.1M99.5 113.2h1.1M101.0 107.3h1.1M97.8 95.6h1.1M98.3 91.4h1.1M102.6 94.6h1.1M99.9 109.4h1.1M102.4 106.6h1.1M101.1 111.7h1.1M98.1 106.3h1.1M99.1 104.6h1.1M99.5 86.9h1.1M100.3 110.2h1.1M100.1 85.9h1.1M101.5 90.1h1.1M101.7 93.6h1.1M102.1 93.6h1.1M101.3 93.8h1.1M99.2 104.9h1.1M97.4 100.9h1.1M98.9 98.2h1.1M101.3 90.4h1.1M99.1 111.0h1.1M102.0 102.4h1.1M98.9 100.6h1.1M100.6 96.9h1.1M102.2 107.5h1.1M98.7 86.9h1.1M102.5 90.8h1.1M98.7 88.8h1.1M100.7 111.1h1.1M99.7 113.2h1.1M98.0 98.4h1.1M100.8 102.8h1.1M99.7 113.5h1.1M98.1 89.6h1.1M99.4 109.1h1.1M100.1 90.4h1.1M97.6 98.7h1.1M98.8 88.3h1.1M102.1 96.8h1.1M99.4 101.0h1.1M98.8 98.7h1.1M98.2 106.0h1.1M101.0 105.2h1.1M98.1 91.2h1.1M97.7 100.9h1.1M99.4 112.7h1.1M98.3 105.2h1.1M98.0 92.4h1.1M100.2 98.3h1.1M102.2 109.1h1.1M99.1 88.3h1.1M99.9 113.4h1.1M100.5 113.4h1.1M101.6 94.9h1.1M99.6 88.9h1.1M98.9 88.3h1.1M100.9 98.6h1.1M102.0 108.1h1.1M99.3 98.0h1.1M98.6 98.0h1.1M101.3 91.2h1.1M100.8 112.4h1.1M101.3 104.8h1.1M98.8 102.1h1.1M101.4 84.9h1.1M102.1 94.9h1.1M99.3 111.9h1.1M98.2 99.7h1.1M100.5 111.8h1.1M101.5 103.1h1.1M102.3 100.6h1.1M100.7 106.9h1.1M99.3 102.3h1.1M98.7 110.0h1.1M102.6 101.3h1.1M99.0 98.4h1.1M101.9 94.7h1.1M101.7 101.9h1.1M101.9 91.9h1.1M99.4 84.1h1.1M97.7 95.1h1.1M101.3 92.5h1.1M98.6 88.9h1.1M99.8 86.1h1.1M99.6 88.4h1.1M99.8 97.1h1.1M99.3 111.7h1.1M99.8 106.0h1.1M101.0 84.9h1.1M98.3 96.7h1.1M97.5 100.8h1.1M99.9 86.4h1.1M99.4 84.2h1.1M99.8 87.3h1.1M99.2 90.1h1.1M103.0 95.0h1.1M101.5 94.0h1.1M97.8 91.2h1.1M102.3 89.1h1.1M102.2 101.6h1.1M98.2 99.1h1.1M98.8 106.3h1.1M102.8 97.5h1.1M98.7 102.6h1.1M98.3 108.8h1.1M98.2 98.5h1.1M100.2 103.5h1.1M99.3 108.3h1.1M102.4 100.1h1.1M98.8 94.3h1.1M101.4 93.8h1.1M100.0 113.3h1.1M100.9 113.2h1.1M101.9 102.0h1.1M102.2 88.8h1.1M99.0 111.9h1.1M97.8 98.4h1.1M102.0 88.5h1.1M101.4 110.3h1.1M100.2 103.9h1.1M99.6 87.0h1.1M101.6 101.0h1.1M101.1 86.3h1.1M101.3 86.8h1.1M102.0 90.6h1.1M100.9 106.3h1.1M102.1 105.8h1.1M102.8 97.6h1.1M98.3 103.2h1.1M101.5 85.1h1.1M98.7 85.3h1.1M97.8 94.8h1.1M101.7 92.0h1.1M99.9 98.1h1.1M98.7 90.7h1.1M99.2 104.6h1.1M99.3 112.0h1.1M102.6 102.1h1.1M99.7 94.3h1.1M102.6 98.0h1.1M100.0 92.0h1.1M99.0 110.3h1.1M101.9 101.7h1.1M101.4 90.6h1.1M102.0 107.0h1.1M98.9 91.2h1.1M99.9 110.9h1.1M99.9 81.5h1M98.8 82.8h1M112.7 94.4h1.1M111.5 96.4h1.1M109.5 102.1h1.1M111.5 91.0h1.1M109.7 108.6h1.1M112.1 95.0h1.1M112.8 92.2h1.1M112.0 102.4h1.1M111.8 84.2h1.1M113.8 96.4h1.1M108.4 94.6h1.1M108.6 95.9h1.1M112.9 91.5h1.1M109.1 89.6h1.1M110.3 93.2h1.1M109.7 86.8h1.1M110.3 101.9h1.1M108.6 99.8h1.1M109.1 99.6h1.1M108.5 88.8h1.1M110.6 108.9h1.1M109.9 95.3h1.1M110.8 80.4h1.1M110.6 106.8h1.1M111.6 107.7h1.1M109.9 99.5h1.1M112.5 82.3h1.1M112.6 83.7h1.1M109.7 95.3h1.1M112.5 108.4h1.1M109.2 98.0h1.1M109.9 91.9h1.1M113.6 91.5h1.1M110.5 95.9h1.1M109.7 85.0h1.1M109.9 85.4h1.1M109.8 96.3h1.1M110.3 101.1h1.1M109.1 87.8h1.1M110.3 106.5h1.1M112.5 104.5h1.1M108.9 90.8h1.1M109.9 109.2h1.1M109.5 94.0h1.1M110.4 97.5h1.1M109.0 88.5h1.1M111.4 90.9h1.1M112.5 82.5h1.1M111.6 88.1h1.1M108.4 93.5h1.1M109.8 100.4h1.1M109.5 97.0h1.1M113.0 103.9h1.1M110.0 95.1h1.1M108.9 95.4h1.1M110.5 95.2h1.1M109.1 93.5h1.1M109.8 87.9h1.1M111.5 99.1h1.1M112.4 83.0h1.1M112.0 90.8h1.1M112.2 87.4h1.1M110.9 82.4h1.1M108.3 95.9h1.1M113.1 92.2h1.1M112.8 86.5h1.1M109.7 96.4h1.1M112.5 107.7h1.1M111.3 84.3h1.1M109.6 84.3h1.1M108.3 96.8h1.1M109.1 103.0h1.1M110.3 83.8h1.1M113.5 87.3h1.1M113.1 91.2h1.1M108.7 92.8h1.1M110.5 109.2h1.1M112.3 84.5h1.1M109.7 105.4h1.1M110.2 99.0h1.1M110.2 83.9h1.1M111.2 80.1h1.1M111.8 82.9h1.1M112.8 104.8h1.1M110.2 108.9h1.1M111.8 90.1h1.1M110.2 84.3h1.1M109.1 97.9h1.1M109.7 95.1h1.1M110.6 81.5h1.1M113.0 102.4h1.1M112.0 95.3h1.1M110.1 95.9h1.1M109.8 103.9h1.1M113.4 101.1h1.1M111.5 94.1h1.1M110.4 101.2h1.1M111.6 109.4h1.1M113.1 98.3h1.1M112.2 96.0h1.1M112.3 81.1h1.1M111.8 103.5h1.1M108.9 94.5h1.1M112.3 94.8h1.1M111.0 106.5h1.1M112.8 106.5h1.1M110.6 89.4h1.1M110.8 109.1h1.1M110.8 91.3h1.1M108.7 90.7h1.1M111.8 93.4h1.1M111.5 95.2h1.1M112.4 93.7h1.1M110.6 109.5h1.1M111.2 92.1h1.1M110.3 83.9h1.1M109.3 99.6h1.1M109.6 86.9h1.1M110.4 89.6h1.1M112.7 87.7h1.1M109.8 84.1h1.1M110.6 95.2h1.1M113.9 93.7h1.1M111.4 80.5h1.1M111.4 109.5h1.1M112.7 88.0h1.1M112.7 98.3h1.1M113.2 88.8h1.1M111.2 94.4h1.1M109.3 94.2h1.1M113.2 102.6h1.1M113.3 85.4h1.1M109.1 102.0h1.1M108.7 90.1h1.1M109.6 82.3h1.1M112.5 91.8h1.1M113.1 89.4h1.1M111.3 109.4h1.1M110.4 83.9h1.1M112.2 87.3h1.1M112.8 97.4h1.1M111.4 89.3h1.1M112.0 104.7h1.1M109.6 84.6h1.1M112.4 90.9h1.1M111.1 87.4h1.1M112.5 99.2h1.1M111.7 88.5h1.1M109.0 85.5h1.1M111.4 81.0h1.1M113.0 99.7h1.1M108.7 96.0h1.1M110.7 82.3h1.1M109.3 88.5h1.1M113.2 100.3h1.1M112.7 89.5h1.1M111.5 101.2h1.1M109.2 90.0h1.1M113.2 99.4h1.1M113.3 96.5h1.1M109.4 94.9h1.1M109.5 104.0h1.1M109.9 82.8h1.1M108.8 88.8h1.1M109.3 106.8h1.1M112.1 80.5h1.1M112.6 83.0h1.1M108.6 95.7h1.1M109.3 90.2h1.1M110.2 84.4h1.1M110.2 80.8h1.1M111.9 85.4h1.1M109.0 89.8h1.1M113.2 105.6h1.1M108.4 97.4h1.1M109.3 103.7h1.1M113.7 90.0h1.1M108.6 97.7h1.1M112.8 92.1h1.1M109.8 102.9h1.1M111.5 107.9h1.1M108.9 101.6h1.1M110.3 84.5h1.1M111.8 87.4h1.1M112.3 94.2h1.1M112.1 80.9h1.1M111.7 92.7h1.1M112.9 101.2h1.1M112.9 85.3h1.1M110.2 107.2h1.1M110.5 102.9h1.1M108.8 91.3h1.1M110.0 88.7h1.1M109.9 94.7h1.1M113.4 90.2h1.1M108.9 88.4h1.1M110.5 100.3h1.1M112.9 102.9h1.1M113.1 93.6h1.1M111.4 86.3h1.1M113.2 85.8h1.1M113.3 87.3h1.1M110.7 89.1h1.1M109.7 85.4h1.1M109.5 93.7h1.1M110.1 80.6h1.1M108.5 93.8h1.1M111.9 95.8h1.1M109.3 98.2h1.1M112.3 98.7h1.1M108.8 103.6h1.1M110.6 100.0h1.1M110.1 82.0h1.1M111.7 86.6h1.1M111.4 88.3h1.1M111.1 86.1h1.1M111.8 87.4h1.1M110.5 83.9h1.1M112.7 83.9h1.1M108.9 100.1h1.1M111.2 87.0h1.1M113.8 93.0h1.1M112.3 87.4h1.1M112.8 99.5h1.1M113.3 89.0h1.1M110.9 87.0h1.1M109.3 94.2h1.1M110.6 109.8h1.1M111.8 82.7h1.1M111.1 109.3h1.1M113.5 98.2h1.1M113.2 103.9h1.1M109.1 100.6h1.1M110.1 84.8h1.1M111.2 99.0h1.1M109.6 100.8h1.1M110.6 90.9h1.1M113.3 89.4h1.1M109.3 103.2h1.1M109.6 83.9h1.1M111.4 109.8h1.1M112.9 100.4h1.1M111.4 106.4h1.1M113.7 89.8h1.1M112.9 83.6h1.1M111.6 108.9h1.1M113.3 92.5h1.1M112.5 104.4h1.1M108.7 88.6h1.1M113.4 93.7h1.1M109.3 91.6h1.1M108.4 93.3h1.1M111.0 84.2h1.1M111.8 81.2h1.1M110.2 107.0h1.1M112.7 83.5h1.1M109.1 89.8h1.1M112.1 103.7h1.1M111.0 83.0h1.1M108.8 98.4h1.1M111.4 97.5h1.1M112.2 104.0h1.1M110.0 97.0h1.1M113.9 96.4h1.1M110.9 89.9h1.1M110.9 83.4h1.1M113.2 97.0h1.1M112.0 99.6h1.1M111.7 80.7h1.1M110.2 89.7h1.1M112.2 83.2h1.1M111.5 87.6h1.1M112.2 100.8h1.1M110.1 107.1h1.1M112.0 109.7h1.1M109.8 108.2h1.1M109.8 84.6h1.1M109.7 103.6h1.1M113.0 88.5h1.1M109.4 88.5h1.1M110.5 92.6h1.1M108.9 89.8h1.1M113.1 94.5h1.1M111.4 81.5h1.1M112.5 92.4h1.1M112.8 99.2h1.1M112.8 92.7h1.1M113.4 86.3h1.1M110.6 109.7h1.1M109.1 87.9h1.1M113.1 104.4h1.1M112.1 106.3h1.1M109.9 90.1h1.1M109.5 104.8h1.1M109.5 83.0h1.1M108.6 94.6h1.1M112.4 84.8h1.1M110.7 109.0h1.1M109.9 88.8h1.1M111.5 108.3h1.1M112.0 80.4h1.1M110.8 102.9h1.1M110.3 92.7h1.1M109.7 94.2h1.1M110.2 88.1h1.1M108.3 91.9h1.1M112.7 102.2h1.1M108.7 96.1h1.1M112.1 106.4h1.1M111.8 92.6h1.1M113.7 97.3h1.1M112.2 96.5h1.1M111.3 95.1h1.1M113.6 100.4h1.1M113.7 99.1h1.1M112.6 93.9h1.1M109.8 107.3h1.1M110.4 103.6h1.1M111.7 87.0h1.1M112.0 86.3h1.1M110.9 94.7h1.1M111.3 103.8h1.1M110.2 82.6h1.1M109.5 106.1h1.1M108.6 93.0h1.1M111.9 97.0h1.1M109.8 98.2h1.1M112.7 98.6h1.1M112.2 81.3h1.1M110.1 86.7h1.1M112.1 80.9h1.1M112.3 105.2h1.1M112.2 108.8h1.1M111.2 96.8h1.1M109.8 98.1h1.1M109.4 95.0h1.1M109.8 94.9h1.1M109.7 95.0h1.1M112.4 83.9h1.1M112.4 81.6h1.1M111.1 99.3h1.1M111.7 106.4h1.1M110.1 92.1h1.1M112.7 90.7h1.1M110.0 107.1h1.1M108.5 93.4h1.1M109.6 98.0h1.1M108.5 100.4h1.1M109.5 85.0h1.1M110.3 102.2h1.1M110.1 69.0h1M110.1 76.9h1M111.3 71.2h1M110.5 73.2h1M113.0 73.5h1M113.0 69.5h1M111.2 78.5h1M110.5 76.8h1M109.8 31.1h1M112.2 110.7h1M109.2 111.8h1M120.5 82.8h1.1M123.9 78.1h1.1M120.3 104.4h1.1M122.2 85.1h1.1M121.2 76.7h1.1M122.4 93.8h1.1M121.4 91.4h1.1M124.3 80.5h1.1M122.0 81.0h1.1M123.5 75.1h1.1M124.3 95.8h1.1M121.7 110.9h1.1M120.0 84.6h1.1M123.3 105.0h1.1M120.4 103.0h1.1M120.1 76.8h1.1M120.1 81.6h1.1M121.1 79.8h1.1M122.3 84.3h1.1M120.7 108.2h1.1M122.3 89.5h1.1M121.5 106.4h1.1M122.0 108.8h1.1M121.4 74.4h1.1M122.9 106.1h1.1M121.0 76.0h1.1M124.0 81.6h1.1M120.5 102.1h1.1M122.2 106.2h1.1M119.9 83.3h1.1M120.5 89.3h1.1M123.4 105.7h1.1M120.2 84.2h1.1M122.8 109.1h1.1M122.6 105.6h1.1M121.1 87.8h1.1M121.3 91.5h1.1M123.2 90.8h1.1M121.5 87.1h1.1M123.2 108.4h1.1M122.4 88.4h1.1M123.4 89.6h1.1M120.1 95.0h1.1M120.8 108.3h1.1M119.1 88.5h1.1M123.5 83.0h1.1M119.6 87.0h1.1M122.1 89.0h1.1M120.0 99.7h1.1M120.2 74.7h1.1M122.6 84.4h1.1M124.5 93.6h1.1M120.8 95.8h1.1M121.0 80.9h1.1M123.4 93.9h1.1M120.2 96.9h1.1M123.7 81.5h1.1M123.2 85.2h1.1M122.1 99.8h1.1M121.2 93.2h1.1M122.2 103.4h1.1M119.7 102.0h1.1M123.0 91.2h1.1M121.8 92.2h1.1M121.3 78.5h1.1M124.6 87.2h1.1M122.5 86.5h1.1M121.2 96.6h1.1M122.6 74.2h1.1M122.9 95.5h1.1M122.3 111.3h1.1M123.9 78.9h1.1M120.6 109.4h1.1M123.9 94.4h1.1M122.2 101.1h1.1M121.1 110.8h1.1M122.3 96.0h1.1M123.8 87.4h1.1M122.5 71.1h1.1M123.8 102.0h1.1M120.2 91.2h1.1M124.0 84.0h1.1M123.5 93.1h1.1M124.3 103.5h1.1M120.4 74.4h1.1M124.0 94.1h1.1M120.5 91.2h1.1M121.8 91.0h1.1M124.2 85.1h1.1M120.0 83.7h1.1M120.6 95.9h1.1M120.5 83.4h1.1M122.6 99.7h1.1M122.1 87.9h1.1M119.8 86.0h1.1M120.2 78.5h1.1M120.2 87.0h1.1M124.1 84.2h1.1M124.3 82.8h1.1M123.8 101.2h1.1M119.5 82.1h1.1M121.2 80.7h1.1M122.7 102.7h1.1M123.0 71.6h1.1M123.5 83.3h1.1M122.9 76.9h1.1M123.5 85.7h1.1M123.6 81.9h1.1M120.7 91.2h1.1M124.5 85.8h1.1M123.5 93.1h1.1M122.5 107.9h1.1M121.6 94.8h1.1M121.8 106.7h1.1M123.5 76.6h1.1M120.4 86.1h1.1M123.5 79.4h1.1M120.4 91.7h1.1M122.1 98.9h1.1M120.5 86.0h1.1M121.0 109.8h1.1M121.6 105.5h1.1M120.8 93.9h1.1M122.6 108.8h1.1M120.0 80.0h1.1M120.8 110.4h1.1M120.6 79.7h1.1M120.6 98.0h1.1M121.6 94.5h1.1M123.5 75.3h1.1M121.6 86.5h1.1M122.1 100.6h1.1M123.2 103.0h1.1M121.1 103.3h1.1M121.4 79.2h1.1M123.5 105.4h1.1M120.1 79.2h1.1M121.8 109.9h1.1M122.0 94.7h1.1M123.8 89.4h1.1M122.1 83.0h1.1M122.9 92.0h1.1M121.3 111.8h1.1M122.1 81.6h1.1M121.0 76.6h1.1M119.9 89.3h1.1M120.1 91.2h1.1M122.5 88.2h1.1M123.8 78.6h1.1M122.4 102.9h1.1M121.6 83.1h1.1M120.0 90.1h1.1M120.8 106.8h1.1M121.7 111.5h1.1M121.4 74.8h1.1M121.0 76.3h1.1M121.0 74.9h1.1M121.0 101.0h1.1M123.5 77.2h1.1M122.5 101.7h1.1M122.7 92.9h1.1M121.8 111.0h1.1M122.4 89.5h1.1M119.7 96.4h1.1M123.2 108.3h1.1M123.5 94.1h1.1M122.4 93.5h1.1M121.7 95.6h1.1M123.1 93.1h1.1M122.6 77.4h1.1M121.8 110.7h1.1M122.4 85.0h1.1M123.8 89.7h1.1M121.1 72.3h1.1M123.9 106.1h1.1M120.5 105.9h1.1M121.4 107.7h1.1M124.4 89.7h1.1M121.5 89.6h1.1M124.1 102.7h1.1M123.2 75.9h1.1M123.7 108.0h1.1M122.2 99.8h1.1M120.5 97.1h1.1M123.2 75.2h1.1M120.4 88.3h1.1M120.5 94.0h1.1M123.0 93.5h1.1M124.4 95.0h1.1M121.0 110.4h1.1M120.2 85.1h1.1M119.5 81.9h1.1M120.8 96.0h1.1M120.9 89.7h1.1M121.1 78.4h1.1M123.0 107.3h1.1M123.3 107.9h1.1M122.5 102.0h1.1M121.2 98.5h1.1M120.5 94.0h1.1M122.5 99.5h1.1M123.4 88.1h1.1M121.0 77.7h1.1M124.6 88.9h1.1M124.1 78.7h1.1M123.1 97.7h1.1M122.4 103.9h1.1M121.2 111.9h1.1M123.4 76.9h1.1M122.6 70.6h1.1M119.7 79.1h1.1M124.0 80.2h1.1M122.8 85.1h1.1M120.1 103.9h1.1M119.5 98.4h1.1M122.1 93.5h1.1M122.2 105.7h1.1M123.2 79.4h1.1M124.4 89.9h1.1M119.7 82.2h1.1M124.2 87.9h1.1M124.0 98.9h1.1M121.1 83.3h1.1M119.9 81.2h1.1M120.8 95.0h1.1M123.1 96.6h1.1M122.5 81.8h1.1M119.9 78.8h1.1M122.1 92.8h1.1M123.5 91.6h1.1M120.9 107.0h1.1M122.3 86.9h1.1M121.8 104.4h1.1M122.4 102.0h1.1M119.9 103.7h1.1M122.5 91.4h1.1M123.6 96.4h1.1M121.5 84.8h1.1M122.6 89.6h1.1M120.3 87.4h1.1M119.6 88.1h1.1M123.8 92.0h1.1M120.0 105.7h1.1M120.1 93.3h1.1M122.7 106.2h1.1M121.8 71.4h1.1M124.2 98.7h1.1M122.5 84.7h1.1M123.1 98.2h1.1M124.5 96.5h1.1M124.3 90.1h1.1M119.9 84.2h1.1M124.3 100.4h1.1M123.5 99.0h1.1M123.5 101.0h1.1M121.4 89.8h1.1M121.1 102.8h1.1M123.8 98.2h1.1M123.1 72.4h1.1M123.6 92.9h1.1M120.9 107.9h1.1M121.7 108.2h1.1M121.2 109.8h1.1M121.8 108.7h1.1M119.9 99.5h1.1M119.4 87.1h1.1M123.2 77.8h1.1M120.9 110.5h1.1M123.1 110.1h1.1M124.0 84.2h1.1M122.0 108.4h1.1M123.4 106.5h1.1M123.3 76.5h1.1M122.0 110.1h1.1M120.2 92.8h1.1M124.0 85.6h1.1M124.7 87.0h1.1M121.7 72.6h1.1M121.1 74.7h1.1M120.6 82.4h1.1M123.6 89.6h1.1M123.6 93.8h1.1M119.5 90.9h1.1M121.7 103.9h1.1M124.1 91.5h1.1M120.7 108.2h1.1M121.6 110.0h1.1M123.2 85.7h1.1M122.8 73.2h1.1M123.4 108.2h1.1M120.9 94.4h1.1M123.4 90.5h1.1M122.3 88.0h1.1M119.9 79.1h1.1M123.8 105.2h1.1M122.6 105.8h1.1M119.4 100.1h1.1M123.7 85.2h1.1M124.2 87.5h1.1M124.0 85.3h1.1M120.2 77.1h1.1M119.6 94.1h1.1M124.8 90.2h1.1M120.9 111.2h1.1M122.2 70.6h1.1M124.7 92.2h1.1M122.3 92.2h1.1M120.1 98.3h1.1M124.6 93.7h1.1M121.3 106.2h1.1M122.1 85.9h1.1M120.8 82.1h1.1M123.8 81.3h1.1M120.2 75.0h1.1M121.1 92.1h1.1M122.2 77.2h1.1M121.1 89.8h1.1M122.9 108.5h1.1M122.6 109.0h1.1M124.3 97.2h1.1M120.2 95.2h1.1M120.2 74.5h1.1M124.0 77.3h1.1M123.2 85.8h1.1M121.9 89.1h1.1M120.6 103.9h1.1M119.8 82.1h1.1M119.3 99.1h1.1M120.8 94.5h1.1M121.4 73.3h1.1M119.2 94.1h1.1M120.8 108.8h1.1M122.5 75.5h1.1M122.4 93.9h1.1M120.5 84.7h1.1M120.7 102.6h1.1M119.7 85.0h1.1M119.9 92.2h1.1M119.3 89.9h1.1M122.5 74.0h1.1M122.2 105.1h1.1M120.4 90.5h1.1M120.6 94.9h1.1M121.4 108.7h1.1M120.0 107.1h1.1M121.2 85.2h1.1M123.8 81.8h1.1M120.4 91.3h1.1M122.9 79.9h1.1M122.5 73.6h1.1M123.2 78.8h1.1M121.9 70.6h1.1M121.3 91.8h1.1M124.1 79.8h1.1M121.2 85.1h1.1M121.0 92.4h1.1M120.4 109.2h1.1M121.5 72.2h1.1M123.1 71.7h1.1M120.9 100.4h1.1M123.3 108.1h1.1M122.1 77.1h1.1M122.8 84.5h1.1M122.4 71.4h1.1M121.1 71.4h1.1M120.4 107.4h1.1M124.4 91.9h1.1M120.0 103.2h1.1M120.8 82.7h1.1M122.7 87.8h1.1M124.0 94.8h1.1M119.3 98.2h1.1M121.1 111.4h1.1M120.6 74.4h1.1M124.2 78.6h1.1M122.0 111.5h1.1M123.5 97.1h1.1M121.1 79.7h1.1M122.9 101.3h1.1M120.7 80.0h1.1M124.3 84.4h1.1M123.3 93.5h1.1M122.2 74.1h1.1M120.4 92.4h1.1M120.2 99.8h1.1M121.7 72.2h1.1M120.6 95.3h1.1M122.5 82.7h1.1M119.3 95.7h1.1M124.7 89.7h1.1M121.4 73.3h1.1M124.6 90.8h1.1M119.8 96.4h1.1M120.3 74.0h1.1M121.5 104.8h1.1M122.2 70.8h1.1M123.2 103.6h1.1M119.6 97.9h1.1M123.1 88.5h1.1M123.2 77.3h1.1M122.0 55.7h1M120.9 70.0h1M121.8 49.9h1M123.3 68.4h1M120.5 50.3h1M122.2 62.6h1M121.3 69.4h1M122.7 59.4h1M122.5 59.1h1M120.3 65.4h1M123.4 70.0h1M123.6 51.3h1M123.1 69.7h1M121.4 68.8h1M123.4 112.3h1M123.3 114.8h1M123.7 112.8h1M134.4 75.9h1.1M131.7 74.8h1.1M131.1 82.2h1.1M132.1 70.6h1.1M130.3 85.1h1.1M130.1 84.4h1.1M132.3 75.1h1.1M134.9 83.7h1.1M132.5 89.7h1.1M131.3 67.4h1.1M132.6 65.7h1.1M133.6 69.3h1.1M133.9 85.3h1.1M131.1 86.4h1.1M131.3 94.3h1.1M131.8 103.2h1.1M131.8 71.9h1.1M131.3 82.4h1.1M134.2 84.3h1.1M135.4 92.5h1.1M133.6 95.6h1.1M133.0 91.3h1.1M132.9 79.8h1.1M134.7 71.8h1.1M131.8 69.3h1.1M133.8 99.2h1.1M133.8 84.0h1.1M132.3 80.9h1.1M133.1 88.6h1.1M133.9 76.8h1.1M131.5 78.4h1.1M134.9 71.2h1.1M131.8 74.4h1.1M132.2 102.9h1.1M131.0 89.2h1.1M132.6 78.9h1.1M131.0 85.4h1.1M133.5 100.0h1.1M133.8 89.2h1.1M131.4 73.5h1.1M133.6 74.3h1.1M131.2 93.2h1.1M135.3 83.7h1.1M134.9 84.6h1.1M132.4 95.3h1.1M135.1 79.8h1.1M134.4 68.1h1.1M133.3 75.8h1.1M131.0 70.2h1.1M130.3 86.7h1.1M132.0 74.4h1.1M132.2 69.4h1.1M130.9 84.7h1.1M131.9 102.4h1.1M131.1 75.5h1.1M134.6 89.3h1.1M132.8 70.5h1.1M134.4 92.2h1.1M130.3 76.9h1.1M131.1 101.0h1.1M132.0 74.7h1.1M130.8 75.8h1.1M131.6 70.7h1.1M131.8 99.5h1.1M133.8 78.1h1.1M133.4 95.0h1.1M133.5 102.4h1.1M134.3 68.8h1.1M132.6 104.3h1.1M132.6 74.6h1.1M135.0 89.6h1.1M131.4 68.9h1.1M133.2 85.6h1.1M133.1 97.2h1.1M132.4 91.1h1.1M132.0 79.0h1.1M131.7 103.1h1.1M135.1 88.6h1.1M133.2 102.5h1.1M132.3 69.8h1.1M132.6 64.7h1.1M132.6 102.6h1.1M132.0 76.0h1.1M132.1 68.8h1.1M130.9 86.3h1.1M133.4 72.6h1.1M131.4 94.4h1.1M132.4 69.1h1.1M133.1 68.1h1.1M133.9 92.8h1.1M130.1 79.8h1.1M132.0 67.7h1.1M134.2 80.2h1.1M132.1 103.9h1.1M134.1 66.9h1.1M133.0 65.1h1.1M134.6 78.1h1.1M132.6 100.5h1.1M131.3 75.7h1.1M130.4 80.8h1.1M133.7 79.7h1.1M131.0 100.1h1.1M131.1 77.9h1.1M133.9 65.7h1.1M134.2 79.0h1.1M131.8 71.7h1.1M131.1 90.7h1.1M131.7 69.8h1.1M134.7 77.6h1.1M133.8 101.1h1.1M134.4 83.7h1.1M132.9 65.9h1.1M131.7 81.1h1.1M132.9 68.4h1.1M131.9 79.8h1.1M132.9 68.5h1.1M130.8 87.5h1.1M132.1 66.1h1.1M132.6 87.7h1.1M132.5 90.6h1.1M130.8 73.1h1.1M135.3 76.3h1.1M133.3 79.2h1.1M132.9 64.8h1.1M133.1 98.9h1.1M131.9 72.6h1.1M131.4 99.9h1.1M131.3 100.2h1.1M134.3 95.0h1.1M131.9 101.6h1.1M130.3 78.4h1.1M133.9 84.3h1.1M134.2 91.9h1.1M132.2 100.8h1.1M133.6 71.7h1.1M133.1 89.8h1.1M133.1 84.0h1.1M132.5 69.3h1.1M131.1 98.6h1.1M133.7 104.5h1.1M130.8 84.1h1.1M133.7 67.8h1.1M133.2 77.2h1.1M131.5 84.3h1.1M134.0 90.5h1.1M133.6 104.3h1.1M134.8 71.6h1.1M132.4 82.7h1.1M135.0 87.8h1.1M130.6 77.3h1.1M134.0 75.7h1.1M135.1 86.1h1.1M134.5 84.3h1.1M132.1 67.7h1.1M134.4 85.4h1.1M130.9 97.4h1.1M135.4 79.1h1.1M131.3 76.6h1.1M132.1 69.0h1.1M133.9 102.5h1.1M131.5 102.4h1.1M131.1 92.3h1.1M131.2 67.6h1.1M134.2 81.0h1.1M135.3 85.2h1.1M130.8 73.9h1.1M133.5 84.3h1.1M130.0 84.5h1.1M131.2 73.2h1.1M131.3 78.3h1.1M134.6 70.4h1.1M134.7 96.7h1.1M131.2 92.1h1.1M133.0 98.5h1.1M134.5 98.2h1.1M131.1 84.0h1.1M132.2 67.3h1.1M133.4 86.9h1.1M132.5 80.1h1.1M134.2 88.8h1.1M134.2 96.4h1.1M132.6 104.5h1.1M131.6 95.6h1.1M130.2 81.6h1.1M133.5 103.5h1.1M133.2 84.5h1.1M134.2 82.6h1.1M130.7 95.7h1.1M132.4 102.4h1.1M130.5 94.8h1.1M133.0 92.3h1.1M135.0 72.6h1.1M131.4 74.0h1.1M134.7 76.8h1.1M131.7 89.0h1.1M134.5 83.3h1.1M133.8 82.1h1.1M132.3 71.1h1.1M131.2 99.4h1.1M132.3 100.3h1.1M134.0 97.1h1.1M133.0 68.3h1.1M134.7 82.4h1.1M135.1 93.1h1.1M132.1 102.0h1.1M134.3 68.5h1.1M135.5 78.0h1.1M131.8 65.5h1.1M134.3 91.0h1.1M131.6 102.8h1.1M132.7 97.3h1.1M133.8 73.0h1.1M134.7 88.2h1.1M134.1 70.7h1.1M133.2 76.5h1.1M135.3 86.7h1.1M131.2 96.8h1.1M132.2 96.9h1.1M131.7 86.1h1.1M130.7 71.5h1.1M131.2 80.5h1.1M132.1 95.7h1.1M133.0 66.0h1.1M134.4 79.8h1.1M132.1 101.8h1.1M131.2 82.1h1.1M134.9 80.9h1.1M134.2 66.5h1.1M132.7 101.3h1.1M132.3 85.6h1.1M133.3 104.0h1.1M132.6 65.5h1.1M132.1 104.1h1.1M133.8 65.1h1.1M130.7 98.6h1.1M131.6 97.1h1.1M134.5 70.0h1.1M131.0 74.2h1.1M131.3 81.0h1.1M135.3 91.9h1.1M133.0 83.7h1.1M131.2 99.7h1.1M130.4 76.0h1.1M132.2 102.2h1.1M135.1 90.6h1.1M133.4 101.4h1.1M131.2 89.7h1.1M132.8 66.0h1.1M131.2 87.8h1.1M131.2 68.5h1.1M133.6 68.7h1.1M132.9 95.2h1.1M133.6 102.2h1.1M131.5 83.5h1.1M131.6 94.7h1.1M131.6 85.7h1.1M131.2 88.0h1.1M131.3 80.0h1.1M130.3 84.0h1.1M131.2 73.7h1.1M133.8 83.0h1.1M131.5 81.1h1.1M133.8 99.0h1.1M134.8 79.9h1.1M133.5 94.4h1.1M131.2 77.0h1.1M132.6 73.7h1.1M130.2 79.7h1.1M133.0 84.9h1.1M133.5 100.8h1.1M130.4 72.9h1.1M132.5 97.1h1.1M133.2 89.4h1.1M130.7 77.9h1.1M131.6 100.4h1.1M132.5 81.8h1.1M133.6 67.3h1.1M131.9 103.5h1.1M133.6 94.1h1.1M132.5 76.1h1.1M130.8 72.0h1.1M133.5 65.0h1.1M131.7 100.5h1.1M132.7 73.4h1.1M131.0 71.7h1.1M133.5 91.3h1.1M133.7 68.3h1.1M132.4 82.9h1.1M130.7 72.1h1.1M131.2 86.4h1.1M132.4 74.1h1.1M132.7 78.9h1.1M134.4 94.2h1.1M134.4 68.5h1.1M133.6 88.8h1.1M135.5 87.4h1.1M132.0 70.8h1.1M134.6 71.2h1.1M133.8 92.1h1.1M131.1 84.8h1.1M133.0 104.3h1.1M133.4 84.2h1.1M132.0 99.7h1.1M131.9 92.9h1.1M131.8 103.2h1.1M135.4 91.6h1.1M133.8 90.3h1.1M131.4 67.8h1.1M134.8 77.7h1.1M133.0 99.2h1.1M130.7 75.4h1.1M135.4 83.6h1.1M135.0 86.7h1.1M131.2 88.3h1.1M132.0 102.3h1.1M131.2 97.6h1.1M131.0 84.7h1.1M133.4 100.7h1.1M131.5 73.6h1.1M131.4 76.9h1.1M133.9 66.0h1.1M133.5 98.6h1.1M134.2 80.3h1.1M132.4 90.7h1.1M131.6 92.5h1.1M132.1 96.6h1.1M130.9 93.7h1.1M132.6 92.5h1.1M134.9 87.0h1.1M135.0 74.6h1.1M132.3 86.4h1.1M132.6 100.7h1.1M134.2 69.8h1.1M133.1 99.5h1.1M131.2 93.6h1.1M134.1 88.3h1.1M135.5 77.2h1.1M130.7 97.9h1.1M130.5 72.6h1.1M133.9 77.1h1.1M133.1 90.4h1.1M134.1 99.1h1.1M133.3 78.6h1.1M131.9 76.8h1.1M131.2 89.0h1.1M133.1 100.8h1.1M133.7 65.3h1.1M132.5 104.2h1.1M132.2 97.5h1.1M130.4 87.7h1.1M131.5 96.6h1.1M131.2 70.7h1.1M131.3 87.6h1.1M133.8 89.5h1.1M132.9 68.2h1.1M130.5 74.3h1.1M131.4 87.1h1.1M133.7 93.5h1.1M131.5 74.7h1.1M130.0 80.9h1.1M131.4 67.3h1.1M134.3 87.3h1.1M131.3 76.6h1.1M131.5 83.3h1.1M131.4 73.8h1.1M134.4 83.4h1.1M131.7 99.1h1.1M133.2 90.7h1.1M131.8 81.7h1.1M131.8 84.3h1.1M133.9 92.9h1.1M134.3 71.6h1.1M133.2 85.1h1.1M134.2 91.2h1.1M134.0 82.7h1.1M134.6 99.7h1.1M131.8 72.3h1.1M132.2 67.1h1.1M134.3 90.1h1.1M131.9 74.5h1.1M132.7 78.6h1.1M135.1 93.7h1.1M133.4 100.0h1.1M130.7 71.1h1.1M133.0 85.9h1.1M131.4 98.5h1.1M130.9 88.3h1.1M130.6 93.4h1.1M132.1 72.5h1.1M131.1 97.7h1.1M132.3 72.9h1.1M130.2 77.0h1.1M133.1 90.1h1.1M134.3 69.0h1.1M131.8 95.5h1.1M132.0 66.2h1.1M130.5 84.6h1.1M130.8 80.5h1.1M131.1 71.4h1.1M130.6 87.3h1.1M133.7 31.1h1M131.6 53.5h1M133.4 63.9h1M130.9 53.2h1M134.4 49.2h1M132.9 60.5h1M134.6 54.4h1M132.9 54.4h1M132.8 51.2h1M133.0 63.9h1M132.2 59.5h1M131.7 59.9h1M133.8 61.2h1M132.7 47.7h1M131.4 49.0h1M133.8 107.2h1M132.4 110.6h1M134.7 104.5h1M133.5 108.3h1M131.3 105.6h1M132.5 107.9h1M133.5 112.2h1M133.1 110.2h1M131.4 110.2h1M143.1 91.9h1.1M144.0 65.6h1.1M145.3 89.4h1.1M141.1 79.1h1.1M143.9 69.4h1.1M144.0 76.0h1.1M143.3 81.9h1.1M142.4 88.1h1.1M145.8 79.0h1.1M141.3 75.8h1.1M144.8 66.6h1.1M144.6 89.6h1.1M141.7 73.4h1.1M143.5 61.5h1.1M141.9 63.5h1.1M144.2 91.7h1.1M143.5 75.8h1.1M143.1 65.6h1.1M144.6 62.0h1.1M141.7 84.5h1.1M142.5 61.5h1.1M144.0 83.8h1.1M143.1 89.5h1.1M144.5 78.0h1.1M142.0 69.4h1.1M144.0 76.8h1.1M144.0 63.4h1.1M145.5 85.0h1.1M142.5 60.7h1.1M143.6 78.4h1.1M143.2 90.5h1.1M142.6 59.3h1.1M142.9 62.3h1.1M142.9 89.7h1.1M144.7 59.8h1.1M143.2 83.7h1.1M144.1 59.0h1.1M142.2 65.2h1.1M145.8 67.8h1.1M142.2 90.0h1.1M142.1 67.2h1.1M144.6 89.2h1.1M146.2 76.8h1.1M143.7 75.1h1.1M145.8 66.1h1.1M144.8 79.0h1.1M144.2 82.3h1.1M142.0 73.2h1.1M141.9 75.8h1.1M144.8 90.1h1.1M146.0 83.2h1.1M142.0 80.9h1.1M141.7 77.5h1.1M145.9 65.2h1.1M146.0 81.6h1.1M142.6 60.8h1.1M144.5 77.6h1.1M143.6 89.2h1.1M142.3 75.0h1.1M144.9 81.0h1.1M146.4 70.6h1.1M143.0 80.8h1.1M145.0 84.4h1.1M144.7 91.1h1.1M143.7 66.8h1.1M145.0 62.9h1.1M144.0 76.6h1.1M143.0 75.6h1.1M144.6 73.7h1.1M143.8 91.9h1.1M144.6 83.9h1.1M144.0 59.2h1.1M142.6 80.4h1.1M141.2 80.2h1.1M143.8 84.8h1.1M144.3 73.3h1.1M141.7 67.5h1.1M144.0 62.1h1.1M143.9 59.4h1.1M142.9 66.2h1.1M142.2 69.5h1.1M142.6 75.9h1.1M142.8 60.4h1.1M143.0 78.4h1.1M142.1 86.0h1.1M145.5 77.3h1.1M144.6 70.9h1.1M142.1 60.9h1.1M141.0 79.8h1.1M142.0 82.7h1.1M145.0 64.2h1.1M143.2 74.1h1.1M144.5 68.2h1.1M145.8 78.4h1.1M141.7 67.9h1.1M145.9 71.3h1.1M141.6 69.3h1.1M144.2 66.0h1.1M142.7 83.7h1.1M142.6 81.7h1.1M144.2 75.1h1.1M141.7 79.5h1.1M142.6 75.8h1.1M142.1 83.1h1.1M141.2 72.5h1.1M141.6 63.8h1.1M142.0 76.6h1.1M144.3 90.8h1.1M142.4 59.9h1.1M145.4 72.6h1.1M141.2 76.1h1.1M141.1 80.5h1.1M144.0 64.3h1.1M145.1 89.0h1.1M143.2 60.6h1.1M141.6 70.1h1.1M144.7 81.7h1.1M141.6 72.1h1.1M145.3 71.7h1.1M145.9 72.1h1.1M145.5 72.4h1.1M141.5 64.3h1.1M142.4 82.1h1.1M141.9 68.3h1.1M144.3 69.1h1.1M143.9 70.0h1.1M143.3 89.8h1.1M144.6 75.0h1.1M145.2 80.7h1.1M144.0 78.6h1.1M144.7 76.1h1.1M141.2 71.1h1.1M145.5 75.1h1.1M144.8 85.5h1.1M141.0 81.8h1.1M145.5 67.0h1.1M144.2 60.6h1.1M143.4 74.7h1.1M146.3 71.8h1.1M143.1 63.4h1.1M141.2 75.3h1.1M143.7 80.3h1.1M144.1 69.7h1.1M142.3 67.1h1.1M141.7 73.2h1.1M143.1 74.6h1.1M143.3 87.7h1.1M141.5 64.2h1.1M143.9 83.2h1.1M144.5 59.4h1.1M142.7 70.0h1.1M144.3 91.9h1.1M144.4 77.5h1.1M144.4 71.5h1.1M142.2 77.6h1.1M143.1 91.3h1.1M145.0 72.6h1.1M141.8 83.0h1.1M145.3 88.9h1.1M144.6 65.2h1.1M143.6 71.2h1.1M141.1 69.7h1.1M141.5 81.3h1.1M145.6 80.2h1.1M144.1 84.6h1.1M144.2 83.0h1.1M145.2 75.2h1.1M146.1 80.4h1.1M145.9 70.6h1.1M141.3 80.5h1.1M141.8 88.2h1.1M144.8 72.0h1.1M144.9 88.0h1.1M143.5 89.3h1.1M143.0 91.9h1.1M142.4 82.9h1.1M142.2 65.8h1.1M144.4 81.8h1.1M146.4 74.4h1.1M144.8 84.7h1.1M140.9 78.7h1.1M143.8 67.3h1.1M145.6 69.4h1.1M141.7 85.9h1.1M143.6 68.7h1.1M145.6 75.8h1.1M144.9 75.0h1.1M145.9 82.0h1.1M144.5 84.8h1.1M143.1 64.3h1.1M143.9 65.3h1.1M143.9 89.7h1.1M145.2 88.3h1.1M144.8 63.2h1.1M141.8 82.2h1.1M145.5 83.1h1.1M145.0 65.4h1.1M145.4 81.8h1.1M144.0 89.8h1.1M142.1 65.8h1.1M145.4 76.5h1.1M144.6 58.8h1.1M144.5 71.1h1.1M143.6 77.8h1.1M141.9 73.0h1.1M142.9 74.8h1.1M143.5 67.7h1.1M142.6 69.5h1.1M143.4 74.1h1.1M142.5 79.1h1.1M144.9 69.1h1.1M143.2 81.9h1.1M144.7 70.1h1.1M142.4 89.2h1.1M141.5 72.7h1.1M141.8 87.1h1.1M145.1 88.6h1.1M145.2 77.4h1.1M144.5 91.6h1.1M144.8 87.9h1.1M145.0 70.9h1.1M143.4 88.3h1.1M142.9 79.4h1.1M141.4 77.2h1.1M141.7 78.6h1.1M141.7 79.3h1.1M145.4 74.9h1.1M144.9 90.3h1.1M142.2 72.4h1.1M145.4 82.0h1.1M142.8 62.0h1.1M145.5 83.3h1.1M144.3 77.3h1.1M145.5 84.6h1.1M142.7 75.2h1.1M142.5 90.9h1.1M142.5 75.1h1.1M142.3 90.0h1.1M143.9 62.9h1.1M142.3 82.9h1.1M142.9 87.2h1.1M141.3 74.1h1.1M142.9 85.2h1.1M141.9 76.3h1.1M143.0 67.0h1.1M143.3 61.9h1.1M141.9 82.4h1.1M145.3 61.4h1.1M143.5 66.6h1.1M145.8 86.6h1.1M142.2 74.2h1.1M145.3 86.7h1.1M143.5 62.0h1.1M145.8 86.2h1.1M144.0 84.8h1.1M141.0 78.6h1.1M145.5 63.8h1.1M142.3 90.5h1.1M145.3 88.1h1.1M142.9 59.8h1.1M142.8 72.0h1.1M142.2 67.9h1.1M142.5 69.7h1.1M142.3 80.8h1.1M142.8 82.6h1.1M146.4 73.2h1.1M145.6 77.8h1.1M142.3 61.4h1.1M145.9 68.9h1.1M144.4 63.0h1.1M145.1 89.9h1.1M144.1 76.6h1.1M143.8 79.6h1.1M143.0 83.2h1.1M142.6 72.6h1.1M142.5 69.9h1.1M144.3 91.8h1.1M144.7 59.3h1.1M142.9 87.9h1.1M143.2 90.9h1.1M141.4 79.4h1.1M141.3 78.7h1.1M141.5 75.9h1.1M141.3 69.9h1.1M146.2 69.6h1.1M145.5 72.9h1.1M144.2 89.7h1.1M140.9 77.0h1.1M142.1 82.8h1.1M143.7 89.0h1.1M145.0 62.9h1.1M143.7 64.5h1.1M145.4 86.0h1.1M143.2 75.3h1.1M141.4 76.8h1.1M144.8 81.7h1.1M144.2 80.6h1.1M146.1 74.7h1.1M144.0 81.0h1.1M143.2 72.9h1.1M142.5 64.7h1.1M145.3 76.4h1.1M142.9 82.0h1.1M142.4 64.1h1.1M145.3 65.9h1.1M144.3 78.4h1.1M141.2 72.5h1.1M142.6 84.9h1.1M145.3 77.6h1.1M144.6 91.6h1.1M144.9 81.5h1.1M143.8 60.5h1.1M144.3 83.1h1.1M144.3 63.8h1.1M141.4 75.7h1.1M141.5 86.3h1.1M145.7 77.6h1.1M141.7 63.4h1.1M145.9 78.2h1.1M145.4 72.8h1.1M144.4 63.0h1.1M144.8 73.1h1.1M144.3 80.9h1.1M142.9 84.4h1.1M141.8 71.0h1.1M141.9 71.6h1.1M141.2 75.9h1.1M144.7 87.2h1.1M145.6 83.0h1.1M142.0 86.9h1.1M141.2 82.7h1.1M144.2 82.2h1.1M141.6 82.3h1.1M144.7 91.0h1.1M144.7 68.0h1.1M142.5 84.7h1.1M142.2 66.5h1.1M143.4 91.8h1.1M144.6 60.3h1.1M141.3 72.5h1.1M140.9 74.7h1.1M142.5 76.5h1.1M144.9 77.8h1.1M141.9 87.2h1.1M146.4 72.6h1.1M144.7 68.7h1.1M141.9 62.3h1.1M145.0 77.7h1.1M146.4 78.4h1.1M141.5 73.9h1.1M144.2 90.1h1.1M145.6 65.7h1.1M142.2 61.6h1.1M141.8 73.5h1.1M142.3 64.2h1.1M145.2 87.5h1.1M143.0 74.5h1.1M142.5 68.9h1.1M142.8 83.2h1.1M143.0 60.6h1.1M142.5 67.1h1.1M143.0 71.5h1.1M142.2 61.0h1.1M141.4 84.8h1.1M145.5 72.9h1.1M142.8 84.7h1.1M145.0 87.4h1.1M142.6 72.3h1.1M144.0 88.7h1.1M145.7 80.2h1.1M145.1 75.4h1.1M143.9 74.7h1.1M144.4 65.5h1.1M146.1 81.5h1.1M142.6 80.4h1.1M145.6 67.9h1.1M141.2 73.9h1.1M144.2 59.4h1.1M142.0 87.5h1.1M145.3 69.6h1.1M145.2 57.8h1M144.0 56.7h1M143.2 54.4h1M142.9 49.0h1M144.4 56.4h1M142.0 43.1h1M142.1 26.5h1M142.8 55.4h1M143.7 52.1h1M142.1 30.2h1M144.2 45.1h1M143.1 54.7h1M145.2 49.7h1M143.6 36.5h1M143.1 57.6h1M143.4 34.6h1M144.3 51.3h1M144.3 57.9h1M142.2 40.6h1M145.1 50.5h1M143.8 54.6h1M143.9 52.6h1M143.1 51.3h1M144.5 29.1h1M143.0 25.1h1M143.2 49.0h1M143.2 32.1h1M142.4 40.9h1M142.8 46.3h1M143.2 29.7h1M144.0 27.6h1M143.9 52.7h1M144.5 115.0h1M144.0 110.7h1M142.3 103.5h1M144.3 111.0h1M142.9 104.4h1M143.8 108.4h1M145.7 95.8h1M144.4 108.8h1M144.5 111.3h1M145.5 97.1h1M144.4 114.0h1M143.7 98.3h1M145.3 92.1h1M144.1 111.0h1M144.9 99.1h1M143.3 92.0h1" stroke="#000" stroke-width="1.1" fill="none"/>
<rect x="45.4" y="129.5" width="110.5" height="115.9" fill="none" stroke="#909090" stroke-width="0.9"/>
<path d="M45.4 240.0h2.2M45.4 232.6h1.1M45.4 228.3h1.1M45.4 225.2h1.1M45.4 222.8h1.1M45.4 220.9h1.1M45.4 219.2h1.1M45.4 217.8h1.1M45.4 216.5h1.1M45.4 215.3h2.2M45.4 207.9h1.1M45.4 203.6h1.1M45.4 200.5h1.1M45.4 198.1h1.1M45.4 196.2h1.1M45.4 194.5h1.1M45.4 193.1h1.1M45.4 191.8h1.1M45.4 190.6h2.2M45.4 183.2h1.1M45.4 178.9h1.1M45.4 175.8h1.1M45.4 173.4h1.1M45.4 171.5h1.1M45.4 169.8h1.1M45.4 168.4h1.1M45.4 167.1h1.1M45.4 165.9h2.2M45.4 158.5h1.1M45.4 154.2h1.1M45.4 151.1h1.1M45.4 148.7h1.1M45.4 146.8h1.1M45.4 145.1h1.1M45.4 143.7h1.1M45.4 142.4h1.1M45.4 141.2h2.2M45.4 133.8h1.1M46.0 245.4v-2.4M52.5 245.4v-1.2M56.4 245.4v-1.2M59.1 245.4v-1.2M61.2 245.4v-1.2M62.9 245.4v-1.2M64.4 245.4v-1.2M65.6 245.4v-1.2M66.8 245.4v-1.2M67.8 245.4v-2.4M74.3 245.4v-1.2M78.1 245.4v-1.2M80.8 245.4v-1.2M83.0 245.4v-1.2M84.7 245.4v-1.2M86.1 245.4v-1.2M87.4 245.4v-1.2M88.5 245.4v-1.2M89.5 245.4v-2.4M96.0 245.4v-1.2M99.9 245.4v-1.2M102.6 245.4v-1.2M104.7 245.4v-1.2M106.4 245.4v-1.2M107.9 245.4v-1.2M109.1 245.4v-1.2M110.3 245.4v-1.2M111.2 245.4v-2.4M117.8 245.4v-1.2M121.6 245.4v-1.2M124.3 245.4v-1.2M126.5 245.4v-1.2M128.2 245.4v-1.2M129.6 245.4v-1.2M130.9 245.4v-1.2M132.0 245.4v-1.2M133.0 245.4v-2.4M139.5 245.4v-1.2M143.4 245.4v-1.2M146.1 245.4v-1.2M148.2 245.4v-1.2M149.9 245.4v-1.2M151.4 245.4v-1.2M152.6 245.4v-1.2M153.8 245.4v-1.2M154.8 245.4v-2.4" stroke="#555" stroke-width="0.6" fill="none"/>
<path d="M45.4 245.4H155.9" stroke="#5a5a5a" stroke-width="0.9"/>
<path d="M45.4 212.4H155.9" stroke="#6a6a6a" stroke-width="1.2"/>
<ellipse cx="57.4" cy="225.1" rx="1.6" ry="10.8" fill="#000"/>
<ellipse cx="68.2" cy="220.8" rx="1.6" ry="12.1" fill="#000"/>
<ellipse cx="79.1" cy="214.4" rx="1.6" ry="12.6" fill="#000"/>
<ellipse cx="89.9" cy="202.8" rx="1.6" ry="12.6" fill="#000"/>
<ellipse cx="100.8" cy="192.0" rx="1.6" ry="9.2" fill="#000"/>
<ellipse cx="111.7" cy="185.7" rx="1.6" ry="11.3" fill="#000"/>
<ellipse cx="122.5" cy="180.1" rx="1.6" ry="11.3" fill="#000"/>
<ellipse cx="133.3" cy="175.0" rx="1.6" ry="9.4" fill="#000"/>
<ellipse cx="144.2" cy="172.5" rx="1.6" ry="9.8" fill="#000"/>
<path d="M58.5 219.0h1.1M58.8 220.2h1.1M56.4 223.2h1.1M58.4 224.0h1.1M54.3 220.1h1.1M59.1 224.7h1.1M55.4 220.9h1.1M55.9 231.0h1.1M57.0 238.1h1.1M55.6 231.0h1.1M57.0 217.9h1.1M54.8 219.7h1.1M56.7 232.5h1.1M58.3 234.1h1.1M56.6 214.8h1.1M58.4 221.7h1.1M54.3 227.1h1.1M55.3 233.6h1.1M57.9 216.8h1.1M58.0 215.5h1.1M56.8 221.1h1.1M58.3 216.5h1.1M56.4 230.4h1.1M54.6 231.1h1.1M55.6 234.3h1.1M58.8 229.8h1.1M55.0 233.3h1.1M54.7 224.5h1.1M55.7 230.7h1.1M57.2 215.9h1.1M55.6 218.7h1.1M54.9 229.8h1.1M56.7 215.6h1.1M57.5 215.8h1.1M55.5 236.5h1.1M56.6 220.1h1.1M59.5 224.2h1.1M58.0 212.9h1.1M56.3 238.2h1.1M57.5 228.4h1.1M57.4 236.8h1.1M57.2 237.7h1.1M58.8 223.4h1.1M57.7 230.5h1.1M59.6 221.9h1.1M59.0 233.3h1.1M56.9 216.3h1.1M54.1 225.5h1.1M57.7 229.3h1.1M59.2 218.6h1.1M55.9 231.2h1.1M56.4 238.4h1.1M55.9 227.3h1.1M58.0 232.9h1.1M57.3 231.4h1.1M56.7 238.0h1.1M57.9 228.4h1.1M59.3 223.4h1.1M58.5 230.5h1.1M57.7 217.3h1.1M56.9 221.0h1.1M55.3 225.5h1.1M56.6 213.6h1.1M58.2 230.6h1.1M58.0 237.6h1.1M58.5 223.4h1.1M55.5 231.7h1.1M58.3 231.1h1.1M57.3 237.0h1.1M55.2 236.6h1.1M55.0 230.5h1.1M57.6 231.5h1.1M55.3 219.8h1.1M56.5 212.2h1.1M54.6 220.6h1.1M56.3 230.9h1.1M58.8 216.8h1.1M59.1 223.0h1.1M57.5 229.5h1.1M54.9 227.4h1.1M56.1 231.7h1.1M57.6 237.7h1.1M58.7 217.9h1.1M55.1 214.7h1.1M59.0 230.2h1.1M59.5 223.7h1.1M55.2 224.9h1.1M56.3 224.9h1.1M57.8 212.4h1.1M58.2 227.5h1.1M55.5 219.2h1.1M57.2 215.8h1.1M57.8 222.1h1.1M55.2 222.2h1.1M58.2 213.7h1.1M54.7 233.1h1.1M57.5 217.3h1.1M58.5 228.5h1.1M57.0 218.3h1.1M56.3 223.3h1.1M58.8 217.1h1.1M56.7 236.2h1.1M55.5 220.9h1.1M58.1 226.3h1.1M57.3 223.2h1.1M56.3 223.7h1.1M57.7 221.5h1.1M57.0 231.9h1.1M55.4 223.4h1.1M55.3 216.6h1.1M54.4 219.9h1.1M57.3 234.5h1.1M55.4 219.4h1.1M57.6 217.9h1.1M58.7 216.7h1.1M57.4 223.4h1.1M57.2 229.6h1.1M57.6 219.5h1.1M56.1 236.0h1.1M55.5 237.3h1.1M55.1 220.5h1.1M56.4 238.2h1.1M58.3 230.2h1.1M58.2 235.1h1.1M58.6 215.0h1.1M58.2 233.4h1.1M55.2 232.0h1.1M59.0 230.1h1.1M56.9 222.2h1.1M55.5 227.6h1.1M55.5 225.1h1.1M57.5 229.3h1.1M55.6 215.6h1.1M57.8 235.0h1.1M58.3 216.0h1.1M54.2 227.2h1.1M57.9 230.3h1.1M58.6 228.3h1.1M58.8 219.9h1.1M59.3 219.9h1.1M57.0 224.5h1.1M58.8 229.8h1.1M57.2 228.1h1.1M56.6 230.7h1.1M57.6 215.0h1.1M56.6 234.6h1.1M55.4 228.0h1.1M54.2 220.6h1.1M56.9 235.6h1.1M59.3 230.4h1.1M55.2 218.9h1.1M54.7 219.6h1.1M57.3 238.3h1.1M57.7 236.1h1.1M58.0 219.5h1.1M54.5 219.3h1.1M55.8 226.5h1.1M58.7 225.8h1.1M58.2 237.3h1.1M59.4 226.7h1.1M57.8 229.1h1.1M56.5 219.9h1.1M58.3 214.6h1.1M57.6 220.7h1.1M54.5 225.9h1.1M55.7 217.0h1.1M58.7 224.5h1.1M54.7 218.0h1.1M59.1 233.0h1.1M58.5 222.1h1.1M56.5 231.4h1.1M54.3 220.8h1.1M56.5 238.3h1.1M55.8 237.7h1.1M57.5 231.8h1.1M55.1 221.1h1.1M57.6 237.7h1.1M57.8 232.6h1.1M58.8 229.2h1.1M57.7 213.7h1.1M56.5 218.5h1.1M57.6 216.7h1.1M57.8 213.5h1.1M58.6 225.5h1.1M57.4 211.9h1.1M55.5 214.4h1.1M56.2 214.2h1.1M56.5 225.9h1.1M58.3 218.7h1.1M58.2 227.8h1.1M57.3 229.2h1.1M55.9 215.7h1.1M58.8 222.0h1.1M57.5 215.1h1.1M57.5 213.1h1.1M54.9 220.8h1.1M56.4 237.8h1.1M57.8 218.3h1.1M56.3 227.7h1.1M57.5 214.5h1.1M56.5 222.9h1.1M54.6 230.4h1.1M55.3 232.8h1.1M57.0 219.9h1.1M58.7 230.8h1.1M57.2 218.0h1.1M54.2 224.3h1.1M58.9 226.8h1.1M56.1 238.5h1.1M57.2 238.6h1.1M54.5 228.5h1.1M55.8 226.1h1.1M54.2 228.3h1.1M57.7 223.7h1.1M56.5 226.3h1.1M56.6 231.6h1.1M58.9 224.5h1.1M56.7 212.2h1.1M58.6 215.7h1.1M58.2 229.9h1.1M58.4 221.4h1.1M55.8 221.3h1.1M59.0 230.0h1.1M56.0 218.6h1.1M56.5 212.2h1.1M57.5 214.2h1.1M56.1 235.3h1.1M57.9 236.2h1.1M56.2 217.1h1.1M57.5 216.9h1.1M55.7 227.7h1.1M58.3 234.5h1.1M55.0 219.0h1.1M56.7 211.8h1.1M56.2 237.0h1.1M58.0 220.9h1.1M58.1 237.7h1.1M58.4 225.1h1.1M57.5 215.3h1.1M54.2 225.2h1.1M54.9 218.0h1.1M58.6 214.8h1.1M59.1 225.1h1.1M58.5 225.0h1.1M57.9 218.7h1.1M56.1 234.9h1.1M54.6 218.6h1.1M55.5 236.5h1.1M54.7 218.0h1.1M57.5 232.8h1.1M54.5 230.6h1.1M58.8 223.0h1.1M57.5 219.7h1.1M57.0 218.1h1.1M55.6 231.8h1.1M55.2 233.4h1.1M56.9 237.6h1.1M55.8 236.6h1.1M58.8 234.3h1.1M58.0 221.4h1.1M58.7 230.9h1.1M54.8 220.3h1.1M55.4 232.5h1.1M58.5 231.6h1.1M58.3 229.6h1.1M55.2 215.7h1.1M57.8 237.5h1.1M54.8 222.8h1.1M58.1 236.8h1.1M59.4 227.9h1.1M55.6 223.6h1.1M54.2 225.6h1.1M58.9 219.7h1.1M57.7 227.1h1.1M54.3 221.8h1.1M54.9 221.4h1.1M58.5 214.6h1.1M59.6 228.5h1.1M58.5 234.8h1.1M58.1 227.1h1.1M58.3 226.8h1.1M55.8 229.5h1.1M58.9 227.3h1.1M57.3 238.2h1.1M58.2 228.7h1.1M55.5 224.3h1.1M55.4 229.1h1.1M57.3 228.2h1.1M58.0 214.9h1.1M57.2 219.2h1.1M58.7 221.1h1.1M55.2 217.9h1.1M58.2 227.0h1.1M58.5 222.1h1.1M59.5 228.9h1.1M58.3 224.8h1.1M57.9 215.1h1.1M57.2 226.4h1.1M55.0 224.7h1.1M58.7 218.3h1.1M55.4 221.9h1.1M54.8 218.7h1.1M58.5 219.8h1.1M57.4 211.8h1.1M57.7 238.3h1.1M55.8 221.5h1.1M55.4 214.8h1.1M55.8 222.8h1.1M56.2 214.5h1.1M54.1 224.1h1.1M56.5 215.7h1.1M55.8 224.4h1.1M55.7 222.1h1.1M55.9 220.4h1.1M55.2 232.9h1.1M57.7 237.3h1.1M54.5 221.1h1.1M56.2 211.7h1.1M54.1 225.9h1.1M59.1 233.6h1.1M55.1 221.3h1.1M57.9 214.2h1.1M59.6 228.8h1.1M56.2 232.2h1.1M59.6 226.6h1.1M57.3 212.1h1.1M57.6 215.7h1.1M54.9 222.6h1.1M59.3 228.7h1.1M56.7 215.8h1.1M56.3 219.9h1.1M57.5 213.9h1.1M57.8 228.6h1.1M55.1 221.2h1.1M55.0 235.5h1.1M57.7 222.5h1.1M56.0 211.7h1.1M54.7 232.0h1.1M58.6 224.2h1.1M59.4 225.2h1.1M57.0 237.8h1.1M58.6 220.9h1.1M57.2 230.1h1.1M55.1 218.7h1.1M57.4 214.1h1.1M56.7 236.4h1.1M59.1 221.4h1.1M57.2 227.3h1.1M55.0 232.3h1.1M56.2 216.8h1.1M55.2 239.0h1M68.0 233.0h1.1M69.9 211.2h1.1M67.9 231.7h1.1M68.6 209.3h1.1M69.6 225.5h1.1M69.1 211.2h1.1M67.5 227.8h1.1M68.5 220.2h1.1M67.4 229.5h1.1M67.6 231.3h1.1M69.6 216.8h1.1M65.5 215.3h1.1M69.6 213.9h1.1M66.5 213.6h1.1M68.3 212.9h1.1M66.8 217.7h1.1M68.3 209.0h1.1M65.9 212.0h1.1M67.6 209.8h1.1M65.9 222.8h1.1M67.1 234.8h1.1M67.5 234.5h1.1M66.7 235.3h1.1M69.3 215.3h1.1M65.1 221.5h1.1M66.4 212.4h1.1M69.1 216.6h1.1M66.3 230.3h1.1M67.8 220.7h1.1M66.4 220.7h1.1M69.5 210.4h1.1M66.8 234.8h1.1M66.9 226.2h1.1M68.3 235.9h1.1M68.5 211.5h1.1M69.2 208.0h1.1M66.1 220.0h1.1M66.2 217.0h1.1M66.0 216.6h1.1M68.7 208.6h1.1M68.2 223.0h1.1M67.4 208.5h1.1M69.0 215.8h1.1M67.3 214.9h1.1M69.2 210.6h1.1M67.4 213.9h1.1M66.0 229.9h1.1M69.0 208.7h1.1M69.8 216.2h1.1M67.9 208.8h1.1M65.8 222.0h1.1M65.0 224.3h1.1M65.5 227.3h1.1M69.4 212.4h1.1M67.7 233.5h1.1M69.3 221.7h1.1M65.2 228.3h1.1M67.4 223.7h1.1M65.2 226.3h1.1M65.9 227.6h1.1M67.9 233.0h1.1M66.4 207.1h1.1M65.9 230.6h1.1M68.9 208.5h1.1M66.9 227.5h1.1M68.4 218.8h1.1M66.4 219.3h1.1M68.2 222.1h1.1M68.1 207.0h1.1M65.2 219.0h1.1M66.1 231.2h1.1M64.9 223.3h1.1M68.4 226.9h1.1M69.6 212.2h1.1M65.9 218.2h1.1M66.7 211.2h1.1M69.6 215.6h1.1M66.2 232.0h1.1M68.7 228.0h1.1M67.8 234.1h1.1M66.5 207.8h1.1M69.0 220.5h1.1M68.7 228.1h1.1M66.5 213.5h1.1M68.6 225.4h1.1M65.4 222.0h1.1M66.6 233.9h1.1M66.3 221.1h1.1M66.6 206.7h1.1M68.0 217.0h1.1M67.2 207.8h1.1M67.9 234.8h1.1M68.4 211.3h1.1M69.6 229.2h1.1M67.2 223.4h1.1M67.0 214.1h1.1M66.8 216.1h1.1M69.7 226.9h1.1M67.8 215.8h1.1M65.8 229.6h1.1M67.3 220.7h1.1M66.3 207.4h1.1M65.0 216.5h1.1M68.0 206.7h1.1M67.4 206.2h1.1M69.5 210.1h1.1M66.2 207.7h1.1M66.7 212.2h1.1M70.3 216.5h1.1M67.1 227.7h1.1M68.6 226.8h1.1M67.3 223.4h1.1M65.2 226.3h1.1M66.3 213.5h1.1M69.3 227.0h1.1M68.8 225.4h1.1M65.6 219.6h1.1M65.9 223.7h1.1M67.2 228.7h1.1M66.0 230.0h1.1M65.5 225.1h1.1M65.9 216.3h1.1M69.5 222.2h1.1M68.5 230.2h1.1M66.2 212.2h1.1M66.7 220.2h1.1M69.2 224.7h1.1M65.8 231.4h1.1M67.6 207.8h1.1M66.6 217.8h1.1M66.6 221.5h1.1M65.0 215.9h1.1M67.6 232.8h1.1M66.6 223.7h1.1M69.3 220.7h1.1M65.7 224.9h1.1M68.1 229.6h1.1M68.2 207.2h1.1M69.1 215.6h1.1M66.6 221.4h1.1M66.9 232.3h1.1M65.0 219.6h1.1M68.9 226.1h1.1M66.5 229.2h1.1M70.0 213.2h1.1M67.1 221.3h1.1M69.1 220.5h1.1M66.9 229.9h1.1M68.6 215.7h1.1M65.8 213.3h1.1M66.1 209.6h1.1M65.9 226.3h1.1M67.8 213.8h1.1M66.1 228.8h1.1M67.1 219.8h1.1M68.3 214.4h1.1M69.7 231.5h1.1M69.5 216.3h1.1M67.3 216.5h1.1M68.0 220.7h1.1M65.7 213.9h1.1M68.6 226.6h1.1M68.7 221.6h1.1M67.0 226.6h1.1M69.9 211.8h1.1M66.1 233.2h1.1M67.6 234.2h1.1M69.9 212.3h1.1M68.3 219.3h1.1M67.7 219.6h1.1M68.5 214.7h1.1M68.7 206.8h1.1M65.2 218.7h1.1M68.3 205.8h1.1M67.2 226.5h1.1M65.1 226.5h1.1M68.7 217.0h1.1M69.8 230.4h1.1M65.7 213.9h1.1M68.4 210.6h1.1M69.0 215.6h1.1M69.9 229.7h1.1M68.1 216.1h1.1M70.3 220.5h1.1M67.6 220.8h1.1M68.9 225.6h1.1M69.0 215.0h1.1M67.2 220.2h1.1M65.6 222.5h1.1M70.0 220.6h1.1M69.9 229.1h1.1M68.0 219.6h1.1M67.4 208.7h1.1M67.3 222.3h1.1M69.9 230.0h1.1M68.4 235.3h1.1M66.5 225.9h1.1M69.5 209.7h1.1M68.8 212.6h1.1M67.2 233.6h1.1M67.1 212.7h1.1M66.9 234.5h1.1M65.4 213.7h1.1M65.9 213.6h1.1M66.3 220.5h1.1M67.5 211.4h1.1M68.5 220.4h1.1M68.5 207.4h1.1M69.1 229.2h1.1M66.5 221.3h1.1M68.3 210.6h1.1M64.9 218.2h1.1M69.1 212.4h1.1M69.4 225.5h1.1M66.9 219.7h1.1M68.6 211.1h1.1M68.4 214.3h1.1M70.2 220.3h1.1M67.0 214.0h1.1M68.8 206.9h1.1M68.0 214.7h1.1M69.7 231.3h1.1M67.5 213.2h1.1M66.3 212.7h1.1M68.1 234.5h1.1M68.3 214.8h1.1M69.7 213.9h1.1M66.6 230.2h1.1M69.9 229.4h1.1M65.7 227.8h1.1M65.2 223.6h1.1M67.0 227.0h1.1M70.0 222.4h1.1M69.8 219.6h1.1M69.3 219.5h1.1M67.3 235.5h1.1M66.5 218.1h1.1M65.9 229.4h1.1M69.8 214.4h1.1M66.7 228.5h1.1M66.4 217.9h1.1M68.6 219.3h1.1M69.8 215.7h1.1M66.0 218.5h1.1M65.1 215.4h1.1M65.7 231.3h1.1M66.8 227.9h1.1M68.8 212.1h1.1M68.2 223.0h1.1M65.6 230.6h1.1M66.1 222.5h1.1M69.7 225.2h1.1M68.7 216.2h1.1M67.0 206.2h1.1M67.6 207.4h1.1M68.8 212.0h1.1M69.6 215.2h1.1M66.1 227.5h1.1M70.1 228.7h1.1M67.3 213.8h1.1M68.5 221.7h1.1M66.7 215.4h1.1M68.6 235.4h1.1M65.5 212.4h1.1M69.8 215.7h1.1M69.9 213.7h1.1M68.9 232.4h1.1M66.9 211.3h1.1M65.0 219.9h1.1M67.3 233.7h1.1M65.8 211.6h1.1M66.8 222.0h1.1M65.1 215.6h1.1M67.4 211.7h1.1M67.4 229.0h1.1M69.2 223.3h1.1M66.6 221.1h1.1M66.0 220.6h1.1M70.1 215.5h1.1M68.3 222.0h1.1M65.0 219.7h1.1M66.7 228.0h1.1M67.3 227.3h1.1M67.2 206.9h1.1M67.3 221.3h1.1M67.6 216.1h1.1M68.4 222.6h1.1M69.1 211.3h1.1M68.4 216.8h1.1M66.4 212.2h1.1M67.3 220.9h1.1M68.3 209.5h1.1M69.7 218.9h1.1M68.4 210.7h1.1M68.4 229.7h1.1M65.7 214.2h1.1M66.4 219.6h1.1M69.3 226.4h1.1M68.4 218.0h1.1M69.0 215.4h1.1M70.5 222.6h1.1M66.3 215.2h1.1M70.3 223.4h1.1M67.8 220.5h1.1M65.3 224.2h1.1M68.9 210.9h1.1M67.9 224.8h1.1M66.1 208.8h1.1M68.5 223.2h1.1M67.8 226.4h1.1M70.2 217.6h1.1M65.4 225.8h1.1M69.2 223.8h1.1M65.0 220.6h1.1M67.1 229.5h1.1M67.5 231.9h1.1M68.9 208.9h1.1M68.2 219.2h1.1M66.3 214.7h1.1M69.4 230.7h1.1M69.5 222.5h1.1M65.5 221.2h1.1M66.4 213.0h1.1M68.4 230.8h1.1M68.4 229.3h1.1M70.2 223.7h1.1M68.8 228.9h1.1M68.3 225.6h1.1M69.0 234.0h1.1M65.9 221.0h1.1M65.9 227.6h1.1M66.5 217.5h1.1M67.6 236.0h1.1M68.2 221.8h1.1M69.6 222.5h1.1M69.0 220.9h1.1M68.0 206.9h1.1M70.3 225.8h1.1M68.3 210.5h1.1M68.7 214.1h1.1M68.9 217.4h1.1M68.7 213.7h1.1M67.9 212.7h1.1M68.4 233.1h1.1M68.5 206.9h1.1M69.2 232.1h1.1M67.0 213.3h1.1M70.1 223.2h1.1M68.5 235.5h1.1M65.8 228.1h1.1M69.3 237.2h1M69.5 237.0h1M76.6 204.7h1.1M80.0 206.1h1.1M79.0 226.8h1.1M77.3 201.3h1.1M78.4 199.2h1.1M76.9 203.5h1.1M79.4 228.0h1.1M80.3 227.2h1.1M79.1 202.7h1.1M76.7 216.2h1.1M81.1 218.4h1.1M76.8 217.1h1.1M79.2 215.0h1.1M79.9 212.0h1.1M78.5 214.0h1.1M80.9 223.3h1.1M77.6 213.8h1.1M77.5 212.5h1.1M79.1 216.8h1.1M78.0 222.2h1.1M79.6 214.6h1.1M79.7 227.6h1.1M77.3 208.5h1.1M76.6 210.4h1.1M77.1 226.9h1.1M80.6 217.0h1.1M81.1 220.9h1.1M76.1 206.4h1.1M81.3 213.0h1.1M80.0 205.4h1.1M76.8 208.8h1.1M78.8 200.7h1.1M77.8 203.3h1.1M79.9 219.1h1.1M76.1 207.7h1.1M77.8 200.1h1.1M76.1 215.2h1.1M79.8 206.8h1.1M80.8 220.0h1.1M79.8 228.3h1.1M77.6 214.4h1.1M77.2 217.0h1.1M77.2 205.3h1.1M77.6 222.2h1.1M77.3 204.0h1.1M78.5 201.6h1.1M77.0 227.7h1.1M76.6 208.4h1.1M77.3 227.1h1.1M78.3 200.0h1.1M81.3 217.9h1.1M77.6 222.8h1.1M79.1 199.1h1.1M78.8 214.8h1.1M77.4 203.2h1.1M80.5 215.8h1.1M76.8 221.5h1.1M77.0 207.9h1.1M77.6 199.3h1.1M76.3 219.9h1.1M77.0 203.6h1.1M76.2 222.0h1.1M78.6 214.9h1.1M79.7 218.5h1.1M80.8 223.1h1.1M77.5 227.2h1.1M77.1 214.0h1.1M77.8 205.5h1.1M79.5 218.7h1.1M76.2 207.9h1.1M76.3 206.5h1.1M76.4 209.9h1.1M76.8 212.7h1.1M77.5 224.4h1.1M80.9 213.3h1.1M79.8 226.3h1.1M79.9 221.5h1.1M80.4 205.0h1.1M78.2 225.8h1.1M80.0 213.2h1.1M76.0 208.3h1.1M79.1 225.9h1.1M80.5 215.1h1.1M76.6 219.4h1.1M75.9 217.8h1.1M77.4 218.5h1.1M77.6 214.5h1.1M76.5 213.4h1.1M79.8 221.6h1.1M79.3 206.6h1.1M79.6 215.0h1.1M77.6 224.7h1.1M79.2 212.9h1.1M77.2 205.6h1.1M78.3 226.3h1.1M79.1 229.7h1.1M76.2 213.7h1.1M76.0 215.4h1.1M77.8 226.0h1.1M77.7 210.8h1.1M78.4 219.4h1.1M76.2 209.5h1.1M76.5 207.0h1.1M80.5 209.8h1.1M78.0 221.3h1.1M78.2 209.3h1.1M79.5 228.1h1.1M81.4 215.5h1.1M79.0 215.0h1.1M80.2 201.8h1.1M80.2 213.6h1.1M79.1 229.4h1.1M79.3 213.6h1.1M76.2 209.3h1.1M77.7 201.9h1.1M77.3 199.9h1.1M78.1 229.1h1.1M78.5 229.3h1.1M78.3 205.7h1.1M80.4 207.1h1.1M77.5 219.1h1.1M79.6 215.7h1.1M77.3 202.0h1.1M79.6 215.2h1.1M80.0 226.8h1.1M78.9 215.2h1.1M79.0 228.9h1.1M79.8 212.4h1.1M78.9 217.7h1.1M78.8 208.9h1.1M80.2 202.8h1.1M79.6 226.8h1.1M75.8 213.1h1.1M78.7 229.7h1.1M76.6 206.2h1.1M78.4 198.8h1.1M80.0 205.5h1.1M78.8 200.0h1.1M80.0 200.8h1.1M77.0 214.4h1.1M79.9 222.0h1.1M78.5 230.0h1.1M77.0 218.6h1.1M79.8 205.9h1.1M80.3 217.8h1.1M79.7 201.0h1.1M77.2 215.4h1.1M76.9 203.8h1.1M79.0 226.4h1.1M77.6 199.2h1.1M79.7 223.0h1.1M80.2 204.1h1.1M77.8 228.0h1.1M78.4 204.9h1.1M77.5 226.0h1.1M80.5 217.8h1.1M77.4 204.0h1.1M79.0 224.9h1.1M76.5 203.9h1.1M76.2 211.0h1.1M80.9 214.4h1.1M79.3 223.5h1.1M77.2 220.6h1.1M80.1 210.3h1.1M77.7 229.8h1.1M78.0 220.6h1.1M78.2 220.4h1.1M79.3 201.9h1.1M80.6 222.0h1.1M75.9 211.1h1.1M79.2 214.2h1.1M79.1 217.2h1.1M79.7 220.4h1.1M76.9 215.5h1.1M78.0 228.7h1.1M80.6 223.9h1.1M77.0 223.5h1.1M79.4 212.7h1.1M77.4 204.0h1.1M80.6 209.7h1.1M79.2 199.5h1.1M76.1 218.3h1.1M78.6 230.0h1.1M80.0 215.5h1.1M79.5 214.2h1.1M79.3 199.3h1.1M77.1 214.5h1.1M77.8 217.9h1.1M78.4 201.4h1.1M80.2 215.1h1.1M77.9 229.0h1.1M77.4 201.6h1.1M77.4 227.4h1.1M79.4 205.3h1.1M80.2 223.8h1.1M79.6 205.5h1.1M79.6 207.9h1.1M79.8 212.0h1.1M76.5 217.5h1.1M80.1 218.4h1.1M79.3 199.5h1.1M79.3 204.4h1.1M79.6 221.4h1.1M77.7 216.4h1.1M79.3 215.5h1.1M77.3 228.4h1.1M79.4 216.6h1.1M79.4 229.8h1.1M76.8 214.2h1.1M78.3 221.5h1.1M76.6 223.1h1.1M77.2 210.9h1.1M80.3 207.3h1.1M77.0 225.7h1.1M77.1 222.4h1.1M80.3 220.3h1.1M79.5 222.0h1.1M78.3 216.1h1.1M79.7 222.3h1.1M80.1 210.4h1.1M77.8 204.4h1.1M77.0 205.2h1.1M78.0 227.1h1.1M77.7 200.6h1.1M78.2 220.8h1.1M76.7 217.7h1.1M78.3 199.2h1.1M78.4 224.1h1.1M77.0 204.8h1.1M78.0 217.9h1.1M79.1 203.3h1.1M78.4 230.0h1.1M78.0 230.2h1.1M80.5 222.6h1.1M77.3 216.5h1.1M80.9 208.9h1.1M77.1 227.3h1.1M79.3 199.5h1.1M78.8 211.4h1.1M78.0 213.4h1.1M76.6 220.2h1.1M79.9 203.6h1.1M80.2 222.1h1.1M78.4 202.5h1.1M77.9 214.7h1.1M79.8 226.3h1.1M78.0 227.1h1.1M79.0 212.7h1.1M77.1 216.3h1.1M78.6 226.4h1.1M79.8 225.7h1.1M76.2 211.1h1.1M78.3 214.3h1.1M80.5 214.4h1.1M80.7 204.3h1.1M81.2 217.4h1.1M77.5 218.0h1.1M79.8 226.4h1.1M78.4 222.4h1.1M77.2 216.5h1.1M79.3 209.0h1.1M76.0 210.1h1.1M78.7 216.6h1.1M79.8 210.0h1.1M76.7 210.2h1.1M79.9 213.7h1.1M77.9 224.9h1.1M79.7 208.9h1.1M79.9 214.9h1.1M78.9 225.5h1.1M79.9 206.9h1.1M80.0 214.2h1.1M78.8 205.8h1.1M76.4 215.0h1.1M78.1 219.0h1.1M77.2 214.0h1.1M81.3 216.8h1.1M77.1 202.7h1.1M80.0 207.9h1.1M77.6 203.4h1.1M81.1 221.7h1.1M77.1 205.4h1.1M77.3 216.8h1.1M76.7 226.6h1.1M80.5 219.4h1.1M76.6 208.0h1.1M76.9 217.3h1.1M78.7 222.6h1.1M76.9 213.4h1.1M81.1 213.5h1.1M77.3 205.7h1.1M78.9 204.2h1.1M76.2 208.9h1.1M79.1 205.6h1.1M77.1 224.4h1.1M78.1 223.4h1.1M76.7 208.1h1.1M78.0 229.7h1.1M78.3 199.3h1.1M78.4 209.6h1.1M81.2 209.0h1.1M79.0 226.6h1.1M78.4 201.1h1.1M77.3 209.4h1.1M78.3 209.0h1.1M78.8 226.4h1.1M77.6 224.3h1.1M79.0 208.0h1.1M78.4 221.7h1.1M80.2 223.2h1.1M76.1 220.0h1.1M79.1 218.0h1.1M78.9 200.8h1.1M79.7 208.6h1.1M77.3 217.8h1.1M80.5 205.5h1.1M77.5 220.9h1.1M78.7 208.5h1.1M80.9 211.3h1.1M79.5 226.1h1.1M79.2 209.9h1.1M78.9 200.4h1.1M81.0 220.5h1.1M78.2 211.0h1.1M78.1 227.6h1.1M78.2 229.7h1.1M77.1 224.3h1.1M79.2 204.3h1.1M78.7 222.3h1.1M77.6 218.0h1.1M81.3 217.7h1.1M77.3 214.0h1.1M77.1 228.2h1.1M77.4 224.7h1.1M75.9 212.0h1.1M78.9 202.8h1.1M79.9 227.9h1.1M77.1 207.1h1.1M80.7 216.8h1.1M77.4 199.8h1.1M80.4 202.3h1.1M77.8 217.9h1.1M75.9 209.5h1.1M79.8 223.2h1.1M79.0 200.8h1.1M78.1 216.0h1.1M77.8 228.5h1.1M79.1 200.7h1.1M77.4 228.4h1.1M78.6 229.6h1.1M78.9 231.3h1M77.9 231.0h1M79.5 233.1h1M88.8 199.6h1.1M89.6 213.9h1.1M87.8 198.0h1.1M91.4 194.1h1.1M88.3 216.6h1.1M90.3 197.2h1.1M89.7 209.6h1.1M91.0 214.4h1.1M89.8 193.6h1.1M91.4 207.6h1.1M88.1 212.4h1.1M91.3 208.6h1.1M89.6 188.7h1.1M91.8 201.4h1.1M91.0 198.9h1.1M91.4 213.2h1.1M87.2 194.9h1.1M92.1 203.3h1.1M91.3 208.2h1.1M90.5 213.1h1.1M90.5 211.3h1.1M87.6 207.2h1.1M90.4 196.5h1.1M90.8 193.7h1.1M88.8 187.5h1.1M87.7 193.7h1.1M90.0 189.1h1.1M88.8 202.5h1.1M86.8 199.7h1.1M88.6 201.5h1.1M90.9 202.5h1.1M89.1 209.0h1.1M91.9 207.3h1.1M87.5 191.3h1.1M90.1 204.7h1.1M91.2 203.0h1.1M87.8 203.2h1.1M91.2 202.2h1.1M88.9 211.6h1.1M89.3 205.0h1.1M90.6 189.5h1.1M89.2 215.1h1.1M90.2 217.9h1.1M91.3 199.7h1.1M90.3 212.2h1.1M91.2 211.2h1.1M87.5 210.2h1.1M86.8 201.4h1.1M88.2 206.1h1.1M88.6 193.8h1.1M86.9 208.8h1.1M89.0 200.2h1.1M92.0 204.9h1.1M88.5 191.6h1.1M89.3 213.9h1.1M87.5 213.6h1.1M90.8 202.9h1.1M86.9 199.9h1.1M88.3 209.3h1.1M90.4 210.4h1.1M89.4 213.5h1.1M90.3 211.4h1.1M90.3 205.7h1.1M90.7 190.1h1.1M90.6 215.5h1.1M91.5 199.9h1.1M88.9 188.0h1.1M88.7 215.7h1.1M88.4 216.3h1.1M90.2 188.2h1.1M88.3 194.8h1.1M90.1 199.3h1.1M87.7 212.4h1.1M89.6 195.4h1.1M88.8 187.5h1.1M88.0 198.5h1.1M90.7 207.6h1.1M88.9 193.1h1.1M87.1 205.1h1.1M90.6 191.0h1.1M86.8 199.3h1.1M89.5 206.7h1.1M88.3 196.8h1.1M91.7 205.8h1.1M90.4 197.7h1.1M89.6 200.7h1.1M87.8 198.0h1.1M88.9 189.2h1.1M88.2 191.5h1.1M87.3 207.3h1.1M88.8 189.7h1.1M87.7 193.2h1.1M90.5 206.6h1.1M91.6 202.1h1.1M88.1 214.7h1.1M87.4 199.0h1.1M87.7 205.1h1.1M90.7 190.3h1.1M90.5 201.0h1.1M87.1 202.6h1.1M90.7 212.8h1.1M91.9 197.2h1.1M89.0 216.4h1.1M88.6 192.2h1.1M91.9 195.8h1.1M89.6 209.1h1.1M89.9 217.0h1.1M88.0 193.7h1.1M87.2 213.1h1.1M88.2 210.8h1.1M90.7 204.1h1.1M88.4 212.3h1.1M87.2 212.9h1.1M89.7 217.8h1.1M87.7 202.7h1.1M90.3 205.0h1.1M91.7 201.6h1.1M87.6 203.0h1.1M89.2 195.0h1.1M87.3 208.1h1.1M88.8 189.3h1.1M88.5 216.5h1.1M88.1 198.1h1.1M89.1 199.9h1.1M90.4 204.1h1.1M90.2 205.0h1.1M89.5 200.5h1.1M91.0 196.6h1.1M91.5 198.3h1.1M91.9 196.0h1.1M90.6 209.2h1.1M91.5 199.4h1.1M87.6 190.3h1.1M89.4 188.3h1.1M90.4 205.9h1.1M87.7 189.9h1.1M90.8 193.6h1.1M90.5 188.0h1.1M90.2 205.3h1.1M90.7 207.4h1.1M88.5 194.2h1.1M89.9 217.8h1.1M89.6 193.1h1.1M89.9 200.9h1.1M89.1 195.9h1.1M90.2 216.2h1.1M88.4 207.3h1.1M87.0 202.0h1.1M87.8 210.0h1.1M91.0 204.9h1.1M89.6 198.5h1.1M90.0 187.6h1.1M92.2 200.3h1.1M88.4 192.7h1.1M89.5 187.7h1.1M89.8 188.2h1.1M88.9 209.4h1.1M88.5 191.9h1.1M91.4 191.9h1.1M87.3 203.8h1.1M91.1 198.8h1.1M88.4 209.0h1.1M88.9 187.3h1.1M88.7 192.0h1.1M89.9 217.1h1.1M87.0 196.1h1.1M90.7 214.7h1.1M91.9 199.5h1.1M88.7 208.3h1.1M89.1 215.9h1.1M90.0 194.5h1.1M88.3 212.1h1.1M87.7 200.1h1.1M90.3 192.4h1.1M89.9 211.1h1.1M89.1 208.7h1.1M90.3 216.4h1.1M87.5 208.6h1.1M86.7 207.1h1.1M88.6 190.2h1.1M91.1 214.4h1.1M89.6 190.3h1.1M90.6 203.6h1.1M87.7 200.2h1.1M90.0 200.7h1.1M89.0 188.5h1.1M90.7 189.9h1.1M88.3 190.6h1.1M89.7 207.8h1.1M87.7 197.5h1.1M87.9 212.9h1.1M87.3 194.1h1.1M86.8 204.8h1.1M89.6 200.0h1.1M89.9 188.2h1.1M88.5 195.7h1.1M90.2 215.7h1.1M89.5 217.1h1.1M92.0 208.0h1.1M88.2 214.6h1.1M89.3 205.4h1.1M89.4 188.1h1.1M89.3 217.9h1.1M88.2 213.9h1.1M91.3 209.9h1.1M88.7 201.7h1.1M88.5 209.9h1.1M88.2 198.7h1.1M87.2 206.8h1.1M86.9 199.0h1.1M91.5 201.8h1.1M90.6 201.9h1.1M92.2 206.4h1.1M89.0 214.1h1.1M86.9 204.2h1.1M88.8 217.4h1.1M90.0 212.2h1.1M90.1 190.1h1.1M91.3 206.7h1.1M90.6 208.0h1.1M87.6 190.4h1.1M90.2 202.7h1.1M87.7 211.8h1.1M88.5 189.4h1.1M89.0 191.5h1.1M89.1 218.5h1.1M90.3 188.1h1.1M88.7 192.5h1.1M91.9 195.1h1.1M87.3 199.8h1.1M90.7 191.0h1.1M89.4 209.1h1.1M87.3 209.7h1.1M89.1 218.3h1.1M89.4 197.1h1.1M88.2 213.9h1.1M88.8 206.3h1.1M90.9 194.8h1.1M92.1 202.8h1.1M89.6 203.5h1.1M87.3 205.2h1.1M90.1 202.8h1.1M90.1 200.8h1.1M87.9 201.9h1.1M91.1 214.9h1.1M90.8 206.2h1.1M91.0 214.4h1.1M90.5 190.3h1.1M89.7 194.3h1.1M90.0 199.4h1.1M87.4 204.0h1.1M88.6 197.9h1.1M90.4 209.0h1.1M89.5 187.0h1.1M92.0 201.8h1.1M89.9 189.1h1.1M90.1 209.8h1.1M91.3 210.8h1.1M88.9 196.7h1.1M87.4 200.9h1.1M87.4 199.7h1.1M87.7 203.7h1.1M87.1 198.3h1.1M88.0 195.1h1.1M90.7 191.3h1.1M88.4 206.4h1.1M91.3 191.6h1.1M86.7 204.1h1.1M91.8 196.5h1.1M86.7 200.7h1.1M91.3 203.0h1.1M88.4 205.3h1.1M90.0 214.1h1.1M90.5 214.0h1.1M90.3 196.5h1.1M91.7 202.7h1.1M89.9 190.2h1.1M88.3 201.6h1.1M87.3 195.0h1.1M87.9 189.7h1.1M88.7 200.8h1.1M87.9 207.5h1.1M91.6 207.7h1.1M88.8 187.3h1.1M90.8 189.7h1.1M89.8 194.0h1.1M89.0 194.5h1.1M89.2 212.5h1.1M90.5 199.0h1.1M91.9 202.7h1.1M91.9 199.2h1.1M90.5 205.5h1.1M87.0 199.9h1.1M90.9 194.1h1.1M87.9 197.2h1.1M89.7 218.1h1.1M90.4 203.6h1.1M87.8 190.5h1.1M87.9 215.7h1.1M89.9 198.2h1.1M91.5 195.4h1.1M89.2 188.6h1.1M88.3 217.6h1.1M89.5 210.5h1.1M87.7 199.5h1.1M91.5 203.9h1.1M89.9 216.3h1.1M90.4 212.7h1.1M90.3 214.2h1.1M92.1 204.2h1.1M91.6 207.8h1.1M90.6 190.2h1.1M92.0 199.8h1.1M90.5 206.6h1.1M87.5 211.0h1.1M87.5 211.7h1.1M89.5 215.5h1.1M90.2 191.8h1.1M90.3 202.9h1.1M88.3 192.4h1.1M90.6 211.3h1.1M90.2 196.6h1.1M89.6 216.5h1.1M90.4 191.8h1.1M91.2 211.9h1.1M88.9 187.9h1.1M89.4 203.5h1.1M88.5 187.7h1.1M87.1 202.4h1.1M90.8 205.8h1.1M87.0 203.8h1.1M91.5 203.8h1.1M91.5 201.7h1.1M91.8 202.5h1.1M90.7 188.4h1.1M90.4 201.1h1.1M87.6 211.3h1.1M87.7 208.8h1.1M90.6 191.8h1.1M88.8 200.3h1.1M88.1 198.8h1.1M87.4 207.7h1.1M88.3 188.0h1.1M87.0 206.4h1.1M89.8 202.7h1.1M91.5 203.9h1.1M89.3 215.0h1.1M90.6 213.9h1.1M92.1 200.4h1.1M90.4 204.5h1.1M88.9 224.1h1M89.4 224.5h1M89.7 219.7h1M87.7 229.3h1M90.4 219.9h1M90.6 221.9h1M89.8 219.1h1M90.0 221.7h1M88.4 219.2h1M89.1 220.4h1M100.9 194.7h1.1M102.3 186.6h1.1M100.5 203.4h1.1M98.2 186.6h1.1M102.0 184.8h1.1M99.5 181.8h1.1M101.9 197.9h1.1M101.8 185.8h1.1M102.4 185.5h1.1M97.8 194.6h1.1M100.1 196.1h1.1M101.3 186.7h1.1M99.8 180.7h1.1M98.5 201.1h1.1M100.3 196.0h1.1M100.9 191.3h1.1M99.5 185.9h1.1M99.0 185.8h1.1M98.3 189.7h1.1M99.4 182.7h1.1M102.4 189.4h1.1M97.5 190.2h1.1M101.0 202.0h1.1M100.4 203.1h1.1M100.7 183.6h1.1M100.2 187.9h1.1M99.3 202.6h1.1M102.4 193.5h1.1M99.6 192.4h1.1M100.0 181.5h1.1M100.5 194.7h1.1M100.8 190.9h1.1M102.6 186.8h1.1M98.7 195.3h1.1M98.7 189.2h1.1M101.4 188.8h1.1M98.7 197.8h1.1M99.7 194.7h1.1M99.9 194.7h1.1M103.0 194.0h1.1M100.2 184.1h1.1M99.5 196.8h1.1M100.0 199.2h1.1M99.7 192.8h1.1M99.8 202.5h1.1M102.1 184.6h1.1M102.4 188.1h1.1M102.0 193.6h1.1M100.4 187.5h1.1M99.1 192.4h1.1M101.4 192.2h1.1M98.6 200.0h1.1M98.0 196.5h1.1M101.6 197.7h1.1M99.9 197.1h1.1M100.4 180.7h1.1M100.5 188.0h1.1M99.7 182.9h1.1M101.9 187.8h1.1M97.9 194.6h1.1M101.6 197.4h1.1M97.7 188.5h1.1M101.7 199.8h1.1M98.6 183.2h1.1M101.2 189.9h1.1M98.5 193.3h1.1M99.0 184.2h1.1M102.0 192.1h1.1M98.2 187.1h1.1M99.0 199.0h1.1M102.3 186.8h1.1M99.4 181.5h1.1M99.8 203.3h1.1M99.5 195.8h1.1M98.6 191.6h1.1M102.8 187.6h1.1M102.2 194.1h1.1M98.5 189.5h1.1M98.2 186.8h1.1M100.3 203.2h1.1M100.7 199.8h1.1M100.6 201.9h1.1M102.7 191.6h1.1M99.3 183.7h1.1M99.4 188.9h1.1M102.1 193.3h1.1M101.2 185.6h1.1M99.8 195.3h1.1M98.1 191.8h1.1M99.5 203.2h1.1M102.6 190.1h1.1M102.5 188.7h1.1M98.9 201.0h1.1M99.4 201.8h1.1M100.5 183.4h1.1M100.4 195.5h1.1M99.7 194.0h1.1M100.8 198.0h1.1M102.5 197.6h1.1M102.4 195.7h1.1M102.5 192.7h1.1M98.0 185.5h1.1M99.2 186.7h1.1M102.5 186.1h1.1M100.7 198.4h1.1M101.0 200.6h1.1M98.7 193.6h1.1M100.8 198.7h1.1M99.6 187.3h1.1M99.3 181.3h1.1M99.6 190.9h1.1M102.1 190.4h1.1M98.3 191.9h1.1M99.6 195.7h1.1M101.4 181.8h1.1M100.0 187.2h1.1M100.3 184.5h1.1M102.7 196.7h1.1M98.6 183.5h1.1M100.4 194.4h1.1M100.0 195.5h1.1M99.6 193.2h1.1M98.2 192.1h1.1M99.7 191.8h1.1M99.5 190.5h1.1M99.4 181.6h1.1M100.9 185.5h1.1M101.8 189.3h1.1M101.7 188.7h1.1M99.0 197.2h1.1M102.5 191.9h1.1M100.5 193.0h1.1M97.7 186.8h1.1M101.1 201.3h1.1M99.5 193.0h1.1M102.9 190.0h1.1M100.0 187.6h1.1M100.3 200.9h1.1M101.8 185.3h1.1M99.1 196.2h1.1M98.0 190.0h1.1M98.7 187.1h1.1M102.3 196.6h1.1M99.9 183.5h1.1M100.0 203.2h1.1M99.4 203.3h1.1M100.7 183.4h1.1M99.5 192.0h1.1M100.2 202.5h1.1M100.1 203.5h1.1M98.0 189.0h1.1M100.0 189.4h1.1M102.3 194.9h1.1M100.5 189.1h1.1M100.6 194.5h1.1M101.3 193.2h1.1M101.1 192.3h1.1M99.2 192.0h1.1M100.9 195.8h1.1M101.4 190.4h1.1M99.7 197.4h1.1M99.8 199.3h1.1M99.8 190.9h1.1M101.4 189.9h1.1M101.2 194.1h1.1M100.7 180.6h1.1M97.9 198.6h1.1M98.3 193.8h1.1M102.6 191.1h1.1M98.3 196.4h1.1M98.9 200.1h1.1M99.4 183.1h1.1M100.2 181.2h1.1M102.0 196.4h1.1M99.1 189.7h1.1M97.5 190.6h1.1M98.3 200.7h1.1M102.9 191.4h1.1M99.7 202.0h1.1M97.9 185.8h1.1M99.9 195.4h1.1M102.2 199.0h1.1M103.0 191.0h1.1M98.3 198.3h1.1M100.5 196.6h1.1M101.1 189.3h1.1M100.3 190.1h1.1M97.8 196.6h1.1M102.5 191.7h1.1M98.2 199.9h1.1M101.8 189.6h1.1M97.9 186.3h1.1M97.5 192.4h1.1M98.8 190.6h1.1M102.5 188.8h1.1M99.4 194.1h1.1M102.5 196.6h1.1M102.5 198.9h1.1M97.7 188.5h1.1M100.9 195.6h1.1M100.0 188.7h1.1M102.3 191.6h1.1M97.7 188.0h1.1M99.7 201.8h1.1M102.3 190.1h1.1M99.6 201.6h1.1M101.2 198.3h1.1M101.2 200.3h1.1M102.4 196.7h1.1M99.2 190.0h1.1M101.0 195.1h1.1M102.4 192.5h1.1M99.3 185.8h1.1M99.5 196.1h1.1M102.7 197.2h1.1M102.6 193.1h1.1M101.3 202.8h1.1M97.5 192.1h1.1M98.8 191.2h1.1M101.8 193.2h1.1M99.0 191.8h1.1M100.9 202.1h1.1M102.1 188.5h1.1M100.2 183.2h1.1M99.0 183.4h1.1M99.3 197.0h1.1M101.1 195.4h1.1M102.3 194.8h1.1M99.4 202.3h1.1M98.5 195.9h1.1M100.9 193.9h1.1M99.0 187.4h1.1M100.9 202.1h1.1M102.5 194.6h1.1M102.5 189.4h1.1M102.7 192.0h1.1M101.0 189.1h1.1M97.9 187.3h1.1M100.6 202.6h1.1M99.7 195.8h1.1M101.2 198.8h1.1M101.5 199.3h1.1M102.3 191.1h1.1M98.8 197.5h1.1M98.6 187.8h1.1M98.0 187.9h1.1M98.8 191.3h1.1M97.6 189.8h1.1M97.7 191.3h1.1M99.3 197.1h1.1M98.5 187.2h1.1M100.2 199.0h1.1M98.9 198.8h1.1M102.0 197.9h1.1M100.9 200.5h1.1M101.6 183.0h1.1M99.1 190.5h1.1M100.3 203.0h1.1M97.9 190.5h1.1M99.2 192.4h1.1M98.6 182.8h1.1M98.2 194.1h1.1M98.2 186.2h1.1M102.7 186.8h1.1M101.0 196.2h1.1M99.5 189.6h1.1M101.9 188.1h1.1M100.7 191.8h1.1M101.6 200.4h1.1M101.8 190.7h1.1M97.8 194.0h1.1M99.6 183.6h1.1M101.8 192.0h1.1M98.9 198.2h1.1M97.7 188.8h1.1M100.2 196.5h1.1M98.4 197.5h1.1M103.0 192.1h1.1M101.4 182.1h1.1M99.1 181.6h1.1M101.3 197.8h1.1M99.9 180.9h1.1M100.6 191.1h1.1M98.1 185.3h1.1M102.0 186.6h1.1M99.4 193.0h1.1M100.8 183.3h1.1M98.0 185.0h1.1M101.3 191.8h1.1M100.9 200.8h1.1M98.3 198.7h1.1M101.7 188.1h1.1M101.0 201.7h1.1M100.3 194.9h1.1M101.5 183.2h1.1M100.6 202.9h1.1M99.8 202.9h1.1M101.4 195.0h1.1M100.5 183.9h1.1M98.2 186.7h1.1M100.2 192.9h1.1M101.3 198.2h1.1M98.3 186.7h1.1M101.2 203.0h1.1M100.9 191.0h1.1M98.4 186.2h1.1M100.4 199.9h1.1M97.6 188.2h1.1M102.5 187.0h1.1M98.7 182.7h1.1M101.1 183.7h1.1M99.7 185.1h1.1M99.8 203.1h1.1M102.1 184.6h1.1M101.5 191.0h1.1M99.4 188.1h1.1M101.8 194.7h1.1M98.9 190.5h1.1M101.2 187.6h1.1M100.1 181.4h1.1M101.0 204.7h1M99.6 208.3h1M99.3 206.1h1M101.8 206.3h1M100.5 211.3h1M102.1 208.0h1M99.0 215.7h1M98.3 218.6h1M101.3 231.8h1M100.0 206.0h1M101.4 227.8h1M100.6 222.6h1M100.9 205.8h1M98.9 215.0h1M100.4 204.2h1M99.6 228.2h1M98.7 217.0h1M101.8 176.8h1M101.2 179.5h1M112.4 191.7h1.1M110.6 173.0h1.1M111.3 184.2h1.1M109.3 178.7h1.1M112.8 183.8h1.1M109.8 181.9h1.1M109.7 188.4h1.1M110.4 172.4h1.1M111.6 191.8h1.1M111.3 173.0h1.1M109.6 187.4h1.1M112.2 197.3h1.1M111.7 198.2h1.1M109.4 188.5h1.1M110.0 175.7h1.1M113.1 182.5h1.1M109.9 175.1h1.1M111.9 194.8h1.1M112.4 179.7h1.1M110.0 194.8h1.1M110.3 172.8h1.1M112.1 197.3h1.1M112.6 194.0h1.1M110.1 186.0h1.1M110.4 197.5h1.1M112.9 193.3h1.1M110.0 177.9h1.1M110.3 184.9h1.1M109.7 191.7h1.1M109.8 176.9h1.1M111.2 172.2h1.1M112.7 186.7h1.1M110.9 194.9h1.1M111.1 198.0h1.1M109.0 193.1h1.1M113.5 188.6h1.1M113.6 189.0h1.1M111.7 172.2h1.1M111.8 194.9h1.1M110.0 184.9h1.1M111.2 196.6h1.1M112.7 189.1h1.1M112.4 187.7h1.1M110.5 171.7h1.1M109.9 196.4h1.1M111.7 180.8h1.1M112.3 195.8h1.1M110.7 178.3h1.1M110.5 187.2h1.1M108.6 192.1h1.1M109.5 197.5h1.1M109.7 185.9h1.1M111.7 188.9h1.1M112.7 177.2h1.1M111.9 172.1h1.1M111.6 196.6h1.1M113.3 187.5h1.1M110.7 194.5h1.1M110.7 172.3h1.1M110.4 197.6h1.1M112.4 189.5h1.1M109.3 196.2h1.1M112.1 174.1h1.1M110.8 172.4h1.1M109.2 175.9h1.1M112.2 178.9h1.1M111.5 186.8h1.1M109.0 183.0h1.1M111.9 173.2h1.1M110.9 174.2h1.1M111.7 197.6h1.1M111.1 194.5h1.1M111.7 194.5h1.1M108.4 182.5h1.1M113.0 177.0h1.1M111.9 187.5h1.1M112.9 185.3h1.1M113.8 186.8h1.1M109.3 174.8h1.1M110.3 197.8h1.1M109.3 190.2h1.1M108.8 194.1h1.1M113.0 175.5h1.1M112.3 185.8h1.1M110.8 181.2h1.1M108.6 184.8h1.1M113.0 183.4h1.1M110.0 194.9h1.1M111.8 173.1h1.1M110.5 183.7h1.1M111.5 199.3h1.1M110.5 179.3h1.1M109.8 172.8h1.1M111.6 175.7h1.1M109.4 178.8h1.1M110.1 180.2h1.1M111.4 180.9h1.1M111.8 198.2h1.1M113.0 187.0h1.1M112.6 196.6h1.1M113.5 188.1h1.1M110.7 189.9h1.1M111.8 187.6h1.1M110.9 195.9h1.1M113.1 187.6h1.1M113.6 188.4h1.1M112.3 189.1h1.1M111.4 179.1h1.1M111.2 192.3h1.1M110.9 188.6h1.1M112.0 198.0h1.1M112.9 174.4h1.1M108.7 191.9h1.1M112.3 185.8h1.1M113.0 192.4h1.1M111.2 184.8h1.1M113.4 183.8h1.1M113.1 189.8h1.1M112.7 186.5h1.1M110.4 175.0h1.1M113.0 189.6h1.1M109.5 185.7h1.1M110.5 171.7h1.1M110.3 193.3h1.1M109.0 176.4h1.1M112.3 181.3h1.1M109.2 189.1h1.1M109.0 189.9h1.1M112.3 194.7h1.1M110.8 198.6h1.1M112.8 175.4h1.1M109.5 184.0h1.1M109.7 176.0h1.1M109.2 192.1h1.1M112.0 198.3h1.1M110.3 192.7h1.1M110.6 194.0h1.1M109.0 177.7h1.1M109.0 191.9h1.1M112.3 187.1h1.1M112.3 178.9h1.1M110.4 196.5h1.1M111.7 199.8h1.1M109.9 173.2h1.1M108.8 181.7h1.1M108.3 184.6h1.1M108.8 178.4h1.1M109.8 191.3h1.1M113.5 182.8h1.1M109.2 191.7h1.1M109.6 188.3h1.1M109.1 186.3h1.1M109.3 183.3h1.1M110.1 184.0h1.1M111.2 178.4h1.1M110.6 196.0h1.1M109.5 196.1h1.1M112.7 177.6h1.1M111.5 177.0h1.1M110.6 189.1h1.1M108.3 188.8h1.1M112.9 194.8h1.1M112.5 176.3h1.1M108.7 186.4h1.1M110.7 191.5h1.1M112.6 184.1h1.1M110.0 192.8h1.1M109.5 188.7h1.1M112.1 181.5h1.1M113.5 181.0h1.1M110.9 199.2h1.1M112.4 194.6h1.1M111.1 193.4h1.1M111.6 183.9h1.1M111.3 180.9h1.1M109.2 181.3h1.1M111.3 199.6h1.1M110.1 188.7h1.1M112.6 186.2h1.1M112.5 179.0h1.1M109.4 186.7h1.1M111.9 197.0h1.1M111.5 171.8h1.1M111.9 190.9h1.1M110.7 185.7h1.1M110.2 185.9h1.1M108.3 183.7h1.1M113.1 186.7h1.1M110.3 199.3h1.1M111.9 178.6h1.1M110.1 199.0h1.1M112.8 191.6h1.1M109.7 194.3h1.1M109.9 197.4h1.1M112.0 174.9h1.1M113.2 178.7h1.1M108.9 176.5h1.1M110.0 172.3h1.1M108.4 184.4h1.1M113.7 191.4h1.1M109.3 185.9h1.1M112.1 177.6h1.1M113.0 178.0h1.1M109.2 189.1h1.1M113.3 194.4h1.1M109.2 187.8h1.1M108.6 189.9h1.1M109.6 179.5h1.1M110.3 172.7h1.1M108.9 187.4h1.1M112.2 182.1h1.1M110.8 172.6h1.1M113.0 185.5h1.1M111.2 184.3h1.1M111.6 173.5h1.1M113.1 180.2h1.1M109.3 190.4h1.1M110.3 171.9h1.1M112.4 186.5h1.1M113.3 192.5h1.1M111.0 173.2h1.1M109.1 191.5h1.1M108.3 184.9h1.1M110.4 199.5h1.1M109.4 192.4h1.1M110.5 187.6h1.1M112.2 190.2h1.1M108.4 188.9h1.1M111.6 180.1h1.1M111.3 195.7h1.1M108.6 182.7h1.1M112.8 182.4h1.1M108.8 186.6h1.1M109.8 178.8h1.1M111.5 190.4h1.1M113.2 178.9h1.1M112.2 196.1h1.1M110.8 198.0h1.1M112.6 175.9h1.1M112.1 192.7h1.1M110.9 197.4h1.1M111.5 196.4h1.1M113.8 186.5h1.1M110.5 192.9h1.1M113.4 177.0h1.1M112.1 190.7h1.1M109.1 175.3h1.1M111.6 172.7h1.1M113.1 188.1h1.1M111.4 172.6h1.1M113.4 187.3h1.1M111.9 198.2h1.1M111.1 185.6h1.1M113.8 185.0h1.1M112.1 187.2h1.1M110.4 184.1h1.1M110.7 172.4h1.1M108.9 180.3h1.1M110.3 187.6h1.1M110.1 192.0h1.1M112.0 188.4h1.1M110.0 188.1h1.1M109.6 192.6h1.1M110.3 187.8h1.1M111.2 188.8h1.1M112.5 177.9h1.1M110.3 194.2h1.1M108.7 184.4h1.1M110.2 172.9h1.1M111.7 171.9h1.1M111.2 187.2h1.1M110.4 185.5h1.1M108.6 189.6h1.1M113.5 190.7h1.1M113.8 183.4h1.1M108.6 181.9h1.1M110.5 185.0h1.1M113.1 194.7h1.1M112.1 188.1h1.1M110.8 190.3h1.1M109.7 195.9h1.1M109.1 185.8h1.1M109.3 174.8h1.1M110.2 174.3h1.1M110.0 195.0h1.1M112.0 198.6h1.1M113.6 180.9h1.1M113.0 192.5h1.1M113.0 178.7h1.1M112.4 173.9h1.1M113.6 185.7h1.1M113.3 186.3h1.1M112.8 197.3h1.1M111.3 184.0h1.1M111.9 193.2h1.1M109.0 181.7h1.1M111.0 175.9h1.1M112.7 192.4h1.1M110.5 181.3h1.1M109.4 186.3h1.1M112.4 197.7h1.1M111.2 196.0h1.1M111.6 183.3h1.1M112.8 193.4h1.1M112.2 198.1h1.1M112.2 186.8h1.1M110.5 198.9h1.1M111.8 199.8h1.1M109.8 195.6h1.1M113.5 182.2h1.1M113.0 187.2h1.1M112.8 193.3h1.1M110.7 190.3h1.1M109.1 189.6h1.1M110.7 180.7h1.1M111.9 192.7h1.1M112.6 179.6h1.1M109.8 177.6h1.1M112.5 174.2h1.1M109.1 182.6h1.1M111.6 172.6h1.1M112.3 194.5h1.1M110.8 179.7h1.1M109.4 178.7h1.1M112.1 181.3h1.1M110.1 196.9h1.1M112.3 184.7h1.1M111.4 178.8h1.1M113.2 180.8h1.1M112.2 182.9h1.1M111.8 175.0h1.1M110.1 180.3h1.1M111.8 197.1h1.1M110.5 182.4h1.1M110.1 199.2h1.1M112.3 194.7h1.1M110.3 190.0h1.1M110.2 196.5h1.1M108.5 180.9h1.1M111.8 195.4h1.1M110.4 203.3h1M109.8 221.1h1M112.0 212.4h1M110.9 205.5h1M112.0 215.6h1M111.1 201.9h1M109.9 225.8h1M111.7 200.4h1M111.0 212.5h1M111.3 222.6h1M110.0 201.0h1M109.5 200.1h1M112.8 224.9h1M110.4 219.9h1M113.0 225.2h1M110.5 204.5h1M109.3 217.1h1M112.7 166.6h1M109.6 168.0h1M119.8 175.1h1.1M124.3 180.5h1.1M123.3 176.1h1.1M124.3 172.7h1.1M121.4 193.0h1.1M122.4 189.2h1.1M122.1 191.8h1.1M123.4 184.7h1.1M120.6 181.9h1.1M121.5 178.9h1.1M123.3 190.4h1.1M123.9 186.4h1.1M120.6 169.0h1.1M123.4 173.2h1.1M121.0 183.4h1.1M121.6 167.2h1.1M123.4 185.9h1.1M120.3 182.0h1.1M119.6 183.3h1.1M122.9 167.3h1.1M121.1 168.0h1.1M121.6 170.2h1.1M123.1 183.4h1.1M124.5 173.8h1.1M120.5 172.9h1.1M120.6 192.2h1.1M122.0 188.2h1.1M123.0 189.9h1.1M122.8 167.3h1.1M121.9 193.4h1.1M119.1 180.3h1.1M122.4 177.5h1.1M123.3 178.9h1.1M122.5 167.3h1.1M120.2 172.1h1.1M122.5 172.6h1.1M121.4 187.6h1.1M123.5 186.0h1.1M122.5 188.2h1.1M120.6 171.1h1.1M122.1 169.0h1.1M123.2 180.7h1.1M121.1 183.4h1.1M124.6 180.7h1.1M121.1 183.9h1.1M124.2 177.2h1.1M120.5 178.6h1.1M122.6 167.5h1.1M122.2 169.9h1.1M124.7 181.1h1.1M119.6 188.2h1.1M122.2 193.6h1.1M121.0 193.8h1.1M124.2 184.8h1.1M121.1 173.0h1.1M119.6 173.3h1.1M124.0 171.3h1.1M121.0 166.4h1.1M124.1 176.3h1.1M124.7 177.5h1.1M121.0 169.0h1.1M121.3 167.0h1.1M123.0 185.8h1.1M122.0 168.8h1.1M120.1 177.4h1.1M123.2 188.3h1.1M124.2 184.3h1.1M121.1 166.7h1.1M121.3 167.1h1.1M123.9 184.6h1.1M121.5 167.6h1.1M120.4 186.5h1.1M123.2 167.4h1.1M120.3 169.1h1.1M123.4 176.5h1.1M120.2 168.6h1.1M122.0 169.3h1.1M123.8 175.9h1.1M123.3 190.9h1.1M119.7 178.0h1.1M122.2 190.5h1.1M120.2 178.9h1.1M120.5 180.9h1.1M120.4 168.9h1.1M123.7 178.3h1.1M122.4 179.3h1.1M121.3 193.7h1.1M121.7 191.0h1.1M120.0 171.7h1.1M123.0 172.0h1.1M120.5 185.6h1.1M121.3 171.9h1.1M120.7 181.1h1.1M121.4 170.0h1.1M123.3 168.1h1.1M122.6 182.8h1.1M121.4 191.4h1.1M123.3 191.7h1.1M119.7 172.2h1.1M120.0 176.6h1.1M120.1 187.0h1.1M124.2 180.5h1.1M119.4 178.2h1.1M120.5 190.6h1.1M122.3 176.6h1.1M123.9 181.9h1.1M124.5 177.8h1.1M123.1 177.2h1.1M120.6 167.9h1.1M123.2 190.2h1.1M121.3 172.5h1.1M122.5 181.2h1.1M119.6 173.4h1.1M123.1 192.4h1.1M121.8 168.4h1.1M122.6 192.9h1.1M123.2 192.6h1.1M121.2 184.1h1.1M123.6 180.9h1.1M120.7 171.6h1.1M123.1 191.8h1.1M124.4 174.6h1.1M124.7 184.2h1.1M120.3 190.6h1.1M119.9 187.1h1.1M122.5 192.3h1.1M121.5 179.3h1.1M122.0 185.6h1.1M123.1 178.1h1.1M119.9 173.4h1.1M119.8 184.4h1.1M121.4 178.3h1.1M121.6 191.8h1.1M119.5 183.7h1.1M123.6 181.2h1.1M122.1 167.6h1.1M119.4 178.6h1.1M121.1 194.1h1.1M119.7 183.7h1.1M121.3 194.1h1.1M122.5 187.0h1.1M121.5 179.8h1.1M124.0 189.1h1.1M122.9 171.3h1.1M120.7 191.6h1.1M120.7 178.2h1.1M122.5 166.9h1.1M120.2 183.5h1.1M121.4 185.7h1.1M122.2 166.4h1.1M122.8 189.6h1.1M121.2 179.3h1.1M119.7 174.1h1.1M124.6 181.8h1.1M121.4 188.4h1.1M119.7 186.0h1.1M119.3 184.4h1.1M120.3 179.9h1.1M120.3 185.7h1.1M122.4 178.9h1.1M124.1 187.6h1.1M120.8 184.2h1.1M122.8 180.0h1.1M119.7 178.8h1.1M122.2 187.7h1.1M122.2 179.0h1.1M119.9 180.2h1.1M120.3 178.4h1.1M120.1 174.2h1.1M124.7 184.4h1.1M121.9 184.2h1.1M122.9 167.0h1.1M121.5 193.1h1.1M123.4 192.2h1.1M121.6 193.7h1.1M122.6 181.7h1.1M123.3 190.8h1.1M123.1 181.3h1.1M122.3 168.4h1.1M119.8 177.8h1.1M119.6 177.8h1.1M123.9 178.2h1.1M119.3 182.1h1.1M123.1 171.1h1.1M119.5 181.9h1.1M123.4 169.1h1.1M122.4 166.2h1.1M120.5 180.0h1.1M123.1 178.6h1.1M123.0 179.1h1.1M122.3 191.0h1.1M122.8 189.2h1.1M122.6 172.7h1.1M122.7 184.5h1.1M122.6 168.4h1.1M123.0 183.7h1.1M121.7 190.6h1.1M120.4 170.7h1.1M119.4 184.0h1.1M122.8 190.2h1.1M121.4 166.5h1.1M121.3 173.8h1.1M121.6 180.3h1.1M121.6 176.4h1.1M123.4 180.4h1.1M123.9 181.3h1.1M121.4 176.8h1.1M124.0 172.9h1.1M121.5 192.0h1.1M122.9 177.6h1.1M122.7 175.7h1.1M123.7 185.6h1.1M122.2 178.9h1.1M121.4 170.6h1.1M122.2 177.3h1.1M119.8 174.0h1.1M120.0 170.5h1.1M120.3 190.1h1.1M121.7 192.9h1.1M124.6 178.6h1.1M122.8 174.7h1.1M119.6 178.0h1.1M122.9 170.1h1.1M124.7 177.7h1.1M123.8 179.3h1.1M122.7 171.0h1.1M123.1 186.8h1.1M121.0 187.4h1.1M124.8 181.4h1.1M122.0 175.3h1.1M120.0 182.6h1.1M121.5 188.1h1.1M122.3 167.1h1.1M121.5 190.4h1.1M121.5 168.3h1.1M121.1 181.8h1.1M122.1 173.7h1.1M121.7 174.7h1.1M119.8 182.1h1.1M122.0 186.1h1.1M124.1 180.8h1.1M120.4 184.8h1.1M121.4 172.5h1.1M119.9 190.1h1.1M121.1 193.2h1.1M124.1 182.4h1.1M122.8 183.1h1.1M123.2 180.0h1.1M122.8 187.9h1.1M122.4 193.2h1.1M124.3 179.5h1.1M123.6 168.9h1.1M120.8 178.1h1.1M121.2 172.7h1.1M124.0 180.8h1.1M119.9 181.6h1.1M123.6 180.6h1.1M121.3 189.2h1.1M121.6 190.6h1.1M119.7 183.4h1.1M119.7 184.9h1.1M124.6 176.8h1.1M122.8 185.1h1.1M123.5 184.6h1.1M122.7 188.1h1.1M120.8 167.3h1.1M123.4 189.8h1.1M121.3 189.5h1.1M119.5 177.4h1.1M120.1 181.1h1.1M122.2 193.8h1.1M123.3 174.7h1.1M122.2 184.1h1.1M122.9 183.2h1.1M122.9 166.3h1.1M120.3 191.5h1.1M120.6 192.0h1.1M122.3 172.1h1.1M121.4 179.9h1.1M124.3 184.4h1.1M120.5 192.1h1.1M119.5 182.8h1.1M121.4 176.7h1.1M122.9 181.6h1.1M124.3 188.3h1.1M122.9 187.0h1.1M120.6 179.0h1.1M124.1 175.2h1.1M121.0 174.6h1.1M120.3 171.3h1.1M119.5 179.2h1.1M124.8 180.6h1.1M120.7 173.2h1.1M121.0 169.0h1.1M122.8 189.6h1.1M124.5 180.0h1.1M120.1 191.0h1.1M120.8 178.1h1.1M123.4 173.0h1.1M124.4 185.2h1.1M123.1 187.5h1.1M121.4 194.2h1.1M123.3 183.6h1.1M124.8 180.7h1.1M124.0 182.6h1.1M120.5 184.9h1.1M121.8 190.9h1.1M121.7 181.2h1.1M122.7 186.1h1.1M122.4 186.9h1.1M120.1 172.6h1.1M121.3 175.2h1.1M120.8 182.5h1.1M121.1 172.1h1.1M123.4 173.1h1.1M124.0 188.1h1.1M124.3 178.9h1.1M123.5 177.0h1.1M119.9 170.4h1.1M123.8 177.5h1.1M124.5 185.5h1.1M123.2 191.6h1.1M123.6 180.4h1.1M123.7 169.2h1.1M123.3 174.0h1.1M122.5 169.6h1.1M124.3 184.2h1.1M119.7 175.8h1.1M121.3 166.1h1.1M123.3 189.7h1.1M123.2 188.0h1.1M122.6 178.2h1.1M121.3 170.2h1.1M121.3 179.0h1.1M123.0 190.5h1.1M122.0 166.2h1.1M123.9 183.5h1.1M123.3 173.1h1.1M121.6 192.9h1.1M122.8 191.7h1.1M123.7 207.3h1M121.1 205.2h1M121.3 205.8h1M120.2 201.2h1M123.8 220.1h1M122.6 220.4h1M123.7 204.0h1M121.8 210.1h1M123.4 222.0h1M123.5 197.0h1M122.3 209.4h1M122.4 197.1h1M123.1 195.2h1M122.6 224.6h1M120.5 212.8h1M121.1 209.8h1M122.8 153.4h1M122.1 164.4h1M121.3 165.0h1M122.9 154.5h1M122.3 161.3h1M120.3 163.6h1M131.2 183.0h1.1M131.1 165.4h1.1M134.1 168.0h1.1M131.5 184.1h1.1M132.8 177.4h1.1M132.1 168.1h1.1M131.6 170.2h1.1M132.6 169.8h1.1M131.6 175.2h1.1M130.4 178.1h1.1M133.2 169.1h1.1M130.4 177.0h1.1M134.0 179.7h1.1M132.6 183.2h1.1M132.4 172.4h1.1M131.8 165.5h1.1M132.3 175.9h1.1M130.8 174.0h1.1M133.9 183.5h1.1M131.0 180.8h1.1M131.7 185.7h1.1M135.5 177.6h1.1M130.2 175.9h1.1M133.5 170.6h1.1M131.3 168.0h1.1M131.7 167.3h1.1M133.7 182.1h1.1M130.8 178.3h1.1M134.1 170.2h1.1M131.9 167.5h1.1M133.2 183.1h1.1M131.0 181.0h1.1M132.5 171.4h1.1M130.4 175.2h1.1M133.0 167.0h1.1M133.0 173.9h1.1M131.0 175.1h1.1M131.5 179.0h1.1M132.5 183.7h1.1M133.5 168.5h1.1M134.4 169.2h1.1M133.1 164.4h1.1M134.0 177.3h1.1M133.2 163.4h1.1M134.9 176.2h1.1M132.5 186.4h1.1M134.7 176.4h1.1M134.7 171.1h1.1M133.3 186.3h1.1M131.6 167.1h1.1M130.1 175.0h1.1M134.3 164.8h1.1M132.1 173.3h1.1M134.2 176.6h1.1M133.6 165.2h1.1M135.1 180.6h1.1M133.7 171.6h1.1M134.5 176.0h1.1M134.6 174.8h1.1M133.1 172.6h1.1M133.4 178.8h1.1M131.0 182.6h1.1M130.8 178.8h1.1M133.3 181.3h1.1M134.8 171.0h1.1M134.3 167.2h1.1M131.1 183.8h1.1M132.4 180.8h1.1M131.4 170.0h1.1M134.6 180.7h1.1M133.2 175.2h1.1M131.1 178.5h1.1M133.9 179.8h1.1M133.4 183.2h1.1M135.2 175.7h1.1M134.2 166.3h1.1M134.6 165.9h1.1M130.6 173.2h1.1M131.7 177.7h1.1M134.5 176.2h1.1M131.8 183.1h1.1M131.9 176.6h1.1M133.8 166.9h1.1M132.6 172.8h1.1M131.5 167.6h1.1M132.2 173.6h1.1M133.2 172.4h1.1M134.8 175.1h1.1M132.6 166.4h1.1M131.8 185.1h1.1M135.1 179.7h1.1M133.0 170.6h1.1M130.0 173.2h1.1M133.4 175.9h1.1M134.0 171.1h1.1M132.6 181.0h1.1M130.4 173.2h1.1M130.7 176.3h1.1M133.6 171.0h1.1M131.1 179.1h1.1M132.7 167.9h1.1M132.2 167.8h1.1M131.1 178.3h1.1M133.6 164.1h1.1M134.7 172.3h1.1M134.2 172.5h1.1M132.6 176.6h1.1M135.0 178.1h1.1M134.5 184.3h1.1M131.8 166.0h1.1M131.1 180.0h1.1M132.6 165.7h1.1M135.2 179.4h1.1M135.5 172.0h1.1M133.6 171.7h1.1M131.3 171.1h1.1M133.7 186.1h1.1M133.4 182.8h1.1M134.2 184.2h1.1M134.8 178.0h1.1M133.5 176.9h1.1M130.5 176.1h1.1M131.8 181.5h1.1M134.2 164.8h1.1M134.5 171.5h1.1M133.1 185.9h1.1M132.1 173.8h1.1M131.6 166.0h1.1M131.9 168.0h1.1M133.1 173.6h1.1M133.5 175.2h1.1M134.3 174.9h1.1M131.5 179.8h1.1M134.2 168.0h1.1M133.4 181.8h1.1M132.3 170.4h1.1M132.2 180.4h1.1M134.9 178.6h1.1M132.2 170.0h1.1M134.1 174.7h1.1M133.0 185.8h1.1M132.4 180.4h1.1M133.9 184.7h1.1M133.6 170.8h1.1M130.7 181.5h1.1M130.8 181.7h1.1M133.3 177.9h1.1M130.3 179.6h1.1M134.9 176.9h1.1M130.3 180.3h1.1M131.0 173.9h1.1M133.8 169.7h1.1M131.3 165.3h1.1M133.6 175.8h1.1M131.5 168.1h1.1M133.1 165.5h1.1M134.0 168.1h1.1M134.6 167.9h1.1M131.8 176.5h1.1M133.5 184.0h1.1M135.0 180.3h1.1M134.6 176.4h1.1M130.2 174.1h1.1M134.0 185.3h1.1M134.1 181.8h1.1M133.1 167.5h1.1M133.7 173.4h1.1M134.3 168.7h1.1M133.6 164.6h1.1M134.9 168.2h1.1M134.7 182.4h1.1M135.6 173.8h1.1M133.2 167.7h1.1M131.8 173.3h1.1M133.9 186.0h1.1M135.4 178.4h1.1M133.3 163.3h1.1M131.7 181.1h1.1M131.5 165.2h1.1M134.4 182.6h1.1M131.8 166.8h1.1M132.4 165.7h1.1M132.3 166.2h1.1M134.0 176.2h1.1M134.8 179.1h1.1M133.3 170.7h1.1M133.0 165.5h1.1M134.5 182.5h1.1M131.8 175.0h1.1M133.4 176.4h1.1M134.7 180.0h1.1M130.6 174.9h1.1M134.9 167.0h1.1M133.0 168.3h1.1M131.9 182.4h1.1M135.0 180.9h1.1M133.5 167.1h1.1M135.0 182.4h1.1M130.4 179.8h1.1M134.6 176.5h1.1M132.2 186.3h1.1M133.7 181.1h1.1M134.1 166.9h1.1M134.5 166.9h1.1M133.2 165.1h1.1M134.1 172.5h1.1M130.0 175.9h1.1M131.5 175.8h1.1M132.0 171.2h1.1M132.8 182.4h1.1M132.2 186.6h1.1M132.9 186.5h1.1M133.7 186.4h1.1M130.7 170.0h1.1M134.6 181.4h1.1M132.1 164.0h1.1M130.5 178.3h1.1M131.5 176.9h1.1M133.1 166.5h1.1M130.7 170.8h1.1M131.2 183.0h1.1M134.5 167.3h1.1M133.3 175.8h1.1M131.1 172.3h1.1M131.5 184.8h1.1M133.4 183.5h1.1M134.2 179.6h1.1M131.9 169.6h1.1M131.3 172.2h1.1M131.0 174.2h1.1M134.4 174.9h1.1M134.3 176.6h1.1M131.8 175.5h1.1M131.5 171.0h1.1M133.8 178.2h1.1M133.0 180.8h1.1M134.4 166.2h1.1M131.9 185.0h1.1M130.9 171.8h1.1M134.2 169.3h1.1M131.7 168.8h1.1M133.6 180.7h1.1M133.9 175.4h1.1M131.5 185.2h1.1M130.8 171.6h1.1M132.5 179.4h1.1M134.6 169.2h1.1M134.2 167.8h1.1M130.3 172.9h1.1M134.2 176.5h1.1M133.7 186.2h1.1M131.5 172.2h1.1M130.7 171.8h1.1M132.7 171.4h1.1M132.1 171.3h1.1M131.4 181.0h1.1M134.8 167.3h1.1M132.8 163.6h1.1M130.3 178.7h1.1M132.4 176.9h1.1M134.6 172.2h1.1M130.8 167.7h1.1M133.8 174.6h1.1M131.6 185.8h1.1M132.7 175.6h1.1M132.4 175.8h1.1M134.3 167.5h1.1M130.4 169.4h1.1M131.3 165.7h1.1M131.7 168.9h1.1M133.7 183.9h1.1M131.8 185.4h1.1M134.1 165.3h1.1M133.4 164.0h1.1M130.3 177.6h1.1M131.2 181.9h1.1M130.9 173.8h1.1M131.3 166.6h1.1M132.2 180.8h1.1M131.0 173.7h1.1M133.9 173.1h1.1M132.1 175.5h1.1M134.7 183.8h1.1M133.9 167.1h1.1M134.3 180.3h1.1M130.7 180.2h1.1M134.7 182.3h1.1M131.3 179.6h1.1M133.7 184.3h1.1M131.8 164.7h1.1M131.9 181.7h1.1M130.4 172.8h1.1M132.0 169.2h1.1M131.6 180.4h1.1M132.4 172.7h1.1M130.7 171.9h1.1M131.1 178.9h1.1M131.7 180.2h1.1M131.4 177.7h1.1M134.6 180.6h1.1M131.2 170.2h1.1M132.0 167.4h1.1M133.5 163.7h1.1M130.6 175.2h1.1M130.3 178.5h1.1M132.0 177.5h1.1M132.9 180.3h1.1M130.8 170.4h1.1M131.9 177.0h1.1M131.9 183.4h1.1M134.0 185.6h1.1M135.2 171.6h1.1M130.7 180.7h1.1M131.7 164.2h1.1M131.2 166.8h1.1M131.7 180.9h1.1M131.2 177.0h1.1M133.3 170.1h1.1M133.8 178.0h1.1M130.5 172.6h1.1M134.3 194.0h1M131.7 188.2h1M132.8 202.0h1M134.1 204.8h1M131.6 204.9h1M131.8 206.6h1M132.0 187.6h1M132.9 193.7h1M133.4 187.9h1M134.8 193.6h1M134.2 196.8h1M133.3 210.7h1M131.2 203.9h1M134.7 215.9h1M131.2 216.5h1M132.1 189.5h1M131.9 188.8h1M133.2 162.5h1M132.2 142.4h1M134.3 143.9h1M134.3 152.9h1M133.3 160.5h1M130.9 150.7h1M131.9 137.6h1M134.0 154.5h1M131.4 155.6h1M134.3 137.5h1M142.6 172.4h1.1M142.3 178.1h1.1M145.5 174.6h1.1M145.2 173.7h1.1M140.9 172.5h1.1M145.1 173.5h1.1M145.0 180.5h1.1M141.6 173.2h1.1M144.4 166.3h1.1M141.0 168.5h1.1M143.0 167.5h1.1M142.9 160.8h1.1M144.1 160.5h1.1M144.0 184.3h1.1M145.1 179.9h1.1M141.7 165.6h1.1M146.0 165.7h1.1M145.1 181.0h1.1M142.8 160.7h1.1M145.3 168.1h1.1M143.3 184.7h1.1M144.6 173.3h1.1M144.6 174.7h1.1M145.2 179.2h1.1M141.5 175.0h1.1M142.9 181.5h1.1M144.6 170.5h1.1M144.7 160.7h1.1M143.0 175.8h1.1M144.4 183.2h1.1M145.7 168.2h1.1M141.0 176.5h1.1M144.9 173.2h1.1M140.8 171.4h1.1M141.8 175.0h1.1M143.8 181.7h1.1M146.5 174.2h1.1M145.0 181.2h1.1M142.8 184.7h1.1M142.7 180.9h1.1M146.2 171.7h1.1M142.3 182.5h1.1M142.7 161.3h1.1M141.0 169.7h1.1M142.3 177.6h1.1M142.8 164.5h1.1M141.3 176.7h1.1M141.9 172.0h1.1M145.2 162.3h1.1M146.1 175.4h1.1M141.8 172.7h1.1M142.5 170.7h1.1M146.0 176.1h1.1M143.7 180.3h1.1M144.0 180.3h1.1M143.4 162.5h1.1M143.5 164.6h1.1M143.3 167.6h1.1M141.4 170.2h1.1M141.1 173.4h1.1M145.4 174.9h1.1M146.1 174.4h1.1M144.6 172.2h1.1M144.6 165.0h1.1M142.6 183.2h1.1M144.8 179.1h1.1M143.2 161.2h1.1M144.1 164.4h1.1M143.0 160.5h1.1M146.4 171.7h1.1M142.2 175.6h1.1M145.4 167.8h1.1M142.4 174.5h1.1M142.6 183.6h1.1M143.8 175.6h1.1M144.4 172.3h1.1M142.2 182.5h1.1M142.9 180.9h1.1M144.4 162.0h1.1M145.2 177.3h1.1M142.8 163.9h1.1M143.3 169.2h1.1M145.2 176.7h1.1M140.9 175.3h1.1M142.4 176.8h1.1M143.1 184.4h1.1M143.1 169.2h1.1M142.3 179.4h1.1M145.7 170.3h1.1M142.4 183.8h1.1M143.5 167.9h1.1M140.9 169.8h1.1M144.3 183.8h1.1M142.2 177.5h1.1M142.0 176.6h1.1M142.2 180.0h1.1M141.9 166.3h1.1M141.8 163.9h1.1M145.7 177.4h1.1M145.8 165.0h1.1M143.5 172.4h1.1M142.5 169.2h1.1M142.0 165.7h1.1M144.2 182.1h1.1M141.4 172.0h1.1M142.9 162.4h1.1M144.9 181.3h1.1M145.0 176.6h1.1M145.6 163.4h1.1M145.4 163.5h1.1M145.2 178.4h1.1M141.7 168.1h1.1M145.2 169.0h1.1M141.8 165.3h1.1M143.9 184.5h1.1M143.4 184.4h1.1M143.2 180.8h1.1M143.5 163.1h1.1M141.0 169.8h1.1M142.1 179.0h1.1M141.3 169.2h1.1M143.0 163.8h1.1M144.5 181.0h1.1M144.6 182.4h1.1M142.4 176.4h1.1M141.7 176.1h1.1M143.3 173.2h1.1M141.5 175.9h1.1M144.7 174.6h1.1M141.0 175.1h1.1M145.6 163.4h1.1M145.6 166.7h1.1M142.9 163.0h1.1M145.1 173.0h1.1M141.2 176.7h1.1M145.1 163.9h1.1M146.2 168.6h1.1M143.5 161.3h1.1M146.3 176.7h1.1M144.0 167.9h1.1M142.6 177.3h1.1M145.0 163.6h1.1M143.8 168.1h1.1M142.6 174.1h1.1M142.3 178.5h1.1M144.6 180.8h1.1M143.1 166.5h1.1M141.9 169.9h1.1M141.4 172.4h1.1M145.9 166.3h1.1M145.6 179.1h1.1M145.6 176.9h1.1M141.5 172.7h1.1M143.4 184.0h1.1M145.0 174.1h1.1M145.0 168.4h1.1M145.0 166.5h1.1M144.6 182.5h1.1M141.0 170.2h1.1M143.4 168.0h1.1M142.8 184.7h1.1M144.7 173.5h1.1M145.4 180.9h1.1M141.4 168.9h1.1M141.1 173.0h1.1M144.7 163.1h1.1M143.8 184.6h1.1M145.4 167.8h1.1M142.2 179.4h1.1M143.4 162.1h1.1M144.7 161.8h1.1M145.4 175.3h1.1M142.8 179.0h1.1M144.6 177.0h1.1M144.7 166.1h1.1M144.9 178.4h1.1M142.7 183.1h1.1M145.9 166.5h1.1M143.7 163.3h1.1M144.3 172.2h1.1M145.6 164.7h1.1M140.9 170.1h1.1M142.5 170.1h1.1M146.4 171.6h1.1M143.2 171.0h1.1M144.3 161.3h1.1M141.5 167.7h1.1M143.0 161.7h1.1M144.0 162.1h1.1M141.0 175.9h1.1M143.8 173.8h1.1M142.4 172.7h1.1M145.1 182.0h1.1M142.2 165.9h1.1M145.7 167.4h1.1M142.2 182.6h1.1M142.7 183.3h1.1M141.6 174.1h1.1M141.0 169.0h1.1M144.7 169.4h1.1M142.8 174.1h1.1M142.0 169.8h1.1M141.7 173.3h1.1M141.7 177.1h1.1M143.2 167.1h1.1M142.0 165.3h1.1M144.3 178.3h1.1M142.7 160.9h1.1M140.8 173.0h1.1M144.2 174.0h1.1M144.5 160.4h1.1M145.4 163.6h1.1M144.9 171.2h1.1M145.7 171.1h1.1M142.2 165.8h1.1M141.4 178.8h1.1M142.5 177.8h1.1M144.2 170.9h1.1M142.1 169.9h1.1M145.7 172.9h1.1M141.0 172.5h1.1M142.3 181.1h1.1M142.5 162.7h1.1M144.1 162.0h1.1M142.6 164.3h1.1M141.5 173.5h1.1M142.4 162.5h1.1M145.7 175.3h1.1M144.5 161.1h1.1M144.3 172.0h1.1M144.7 166.1h1.1M142.8 172.2h1.1M141.8 164.0h1.1M143.1 165.7h1.1M144.4 161.3h1.1M142.9 160.5h1.1M143.9 178.0h1.1M145.1 183.2h1.1M141.6 169.1h1.1M144.1 160.3h1.1M142.5 161.1h1.1M142.6 182.7h1.1M144.0 184.2h1.1M142.8 182.3h1.1M144.9 161.2h1.1M143.0 168.1h1.1M146.2 174.2h1.1M142.2 177.1h1.1M145.6 165.4h1.1M142.2 164.8h1.1M142.7 161.3h1.1M143.3 170.1h1.1M145.2 178.8h1.1M145.0 177.1h1.1M143.4 173.1h1.1M144.9 162.4h1.1M144.6 161.8h1.1M144.2 170.5h1.1M144.4 184.6h1.1M141.8 176.9h1.1M142.3 173.7h1.1M142.7 168.5h1.1M141.4 171.6h1.1M142.2 167.9h1.1M144.6 160.9h1.1M143.8 168.3h1.1M143.2 184.2h1.1M141.9 172.2h1.1M144.0 172.1h1.1M145.1 173.1h1.1M144.7 172.3h1.1M143.1 168.4h1.1M142.0 175.0h1.1M144.3 168.4h1.1M145.5 166.8h1.1M145.6 178.1h1.1M145.4 181.4h1.1M142.3 176.3h1.1M144.5 162.2h1.1M142.0 164.2h1.1M143.6 178.4h1.1M145.0 183.0h1.1M143.7 162.7h1.1M143.0 178.5h1.1M142.4 183.8h1.1M142.1 182.8h1.1M143.0 169.6h1.1M144.6 184.4h1.1M145.1 166.9h1.1M143.0 170.8h1.1M144.0 172.3h1.1M144.8 182.3h1.1M145.6 182.0h1.1M145.5 181.5h1.1M144.8 181.0h1.1M142.3 170.6h1.1M141.7 181.1h1.1M145.3 166.0h1.1M142.5 174.2h1.1M141.3 173.7h1.1M142.8 168.3h1.1M141.6 167.7h1.1M142.9 173.6h1.1M142.8 162.2h1.1M144.5 184.1h1.1M143.8 170.8h1.1M142.7 182.6h1.1M142.8 181.9h1.1M142.3 163.8h1.1M143.6 184.3h1.1M143.0 164.4h1.1M142.0 177.3h1.1M146.5 173.6h1.1M144.0 160.2h1.1M142.1 181.1h1.1M142.2 179.0h1.1M142.1 180.6h1.1M144.0 167.7h1.1M141.7 175.4h1.1M143.8 173.9h1.1M142.2 197.9h1M144.7 198.4h1M143.5 193.3h1M142.3 191.0h1M144.8 186.6h1M142.4 191.4h1M143.6 200.4h1M144.0 201.1h1M141.9 189.2h1M143.9 186.9h1M143.9 190.3h1M143.7 187.3h1M141.9 160.0h1M142.3 156.1h1M143.6 153.2h1M142.9 157.7h1M145.6 159.9h1M142.1 159.4h1M143.0 159.9h1M145.3 152.9h1M144.9 149.8h1M144.8 134.9h1M144.6 155.8h1M145.3 151.7h1M144.1 218.0h1M142.9 237.1h1" stroke="#000" stroke-width="1.1" fill="none"/>
<path d="M36.55 243.8V19" stroke="#4c4c4c" stroke-width="1"/>
<path d="M36.5 14.2L40.2 21.4L36.5 20L32.8 21.4Z" fill="#111"/>
<text x="17.9" y="61.2" font-size="7.9" text-anchor="middle" fill="#111" textLength="21.6" lengthAdjust="spacingAndGlyphs" >Lower</text>
<text x="17.9" y="70.3" font-size="7.9" text-anchor="middle" fill="#111" textLength="14.8" lengthAdjust="spacingAndGlyphs" >AgS</text>
<text x="17.3" y="196.5" font-size="7.9" text-anchor="middle" fill="#111" textLength="23.6" lengthAdjust="spacingAndGlyphs" >Higher</text>
<text x="17.3" y="205.3" font-size="7.9" text-anchor="middle" fill="#111" textLength="14.8" lengthAdjust="spacingAndGlyphs" >AgS</text>
<text x="34.0" y="130.0" font-size="8.2" text-anchor="middle" fill="#111" textLength="72.5" lengthAdjust="spacingAndGlyphs" transform="rotate(-90 34.0 130.0)" >Tetramer fluorescence</text>
<text x="57.3" y="252.8" font-size="4.3" text-anchor="middle" fill="#1a1a1a" >0</text>
<text x="67.7" y="252.8" font-size="4.3" text-anchor="middle" fill="#1a1a1a" >0.01</text>
<text x="89.0" y="252.8" font-size="4.3" text-anchor="middle" fill="#1a1a1a" >0.1</text>
<text x="111.0" y="252.8" font-size="4.3" text-anchor="middle" fill="#1a1a1a" >1</text>
<text x="133.8" y="252.8" font-size="4.3" text-anchor="middle" fill="#1a1a1a" >10</text>
<text x="154.8" y="252.8" font-size="4.3" text-anchor="middle" fill="#1a1a1a" >100</text>
<path d="M45.0 262.5L156.4 255.4V262.4Z" fill="#fff" stroke="#111" stroke-width="0.9" stroke-linejoin="miter"/>
<text x="51.8" y="271.5" font-size="7.4" text-anchor="start" fill="#111" textLength="101" lengthAdjust="spacingAndGlyphs" >Tetramer concentration (µg/ml)</text>
<path d="M202.3 15.3V113.7H317.6" fill="none" stroke="#111" stroke-width="1"/>
<path d="M199.9 113.6h2.4M199.9 93.9h2.4M199.9 74.3h2.4M199.9 54.6h2.4M199.9 35.0h2.4M199.9 15.3h2.4M202.6 113.7v2.2M209.5 113.7v1.2M213.5 113.7v1.2M216.4 113.7v1.2M218.6 113.7v1.2M220.4 113.7v1.2M222.0 113.7v1.2M223.3 113.7v1.2M224.5 113.7v1.2M225.5 113.7v2.2M232.4 113.7v1.2M236.4 113.7v1.2M239.3 113.7v1.2M241.5 113.7v1.2M243.3 113.7v1.2M244.9 113.7v1.2M246.2 113.7v1.2M247.4 113.7v1.2M248.4 113.7v2.2M255.3 113.7v1.2M259.3 113.7v1.2M262.2 113.7v1.2M264.4 113.7v1.2M266.2 113.7v1.2M267.8 113.7v1.2M269.1 113.7v1.2M270.3 113.7v1.2M271.3 113.7v2.2M278.2 113.7v1.2M282.2 113.7v1.2M285.1 113.7v1.2M287.3 113.7v1.2M289.1 113.7v1.2M290.7 113.7v1.2M292.0 113.7v1.2M293.2 113.7v1.2M294.2 113.7v2.2M301.1 113.7v1.2M305.1 113.7v1.2M308.0 113.7v1.2M310.2 113.7v1.2M312.0 113.7v1.2M313.6 113.7v1.2M314.9 113.7v1.2M316.1 113.7v1.2M317.3 113.7v2.2" stroke="#111" stroke-width="0.8" fill="none"/>
<text x="198.4" y="115.3" font-size="4.8" text-anchor="end" fill="#222" >0</text>
<text x="198.4" y="95.64" font-size="4.8" text-anchor="end" fill="#222" >20</text>
<text x="198.4" y="75.98" font-size="4.8" text-anchor="end" fill="#222" >40</text>
<text x="198.4" y="56.32" font-size="4.8" text-anchor="end" fill="#222" >60</text>
<text x="198.4" y="36.66" font-size="4.8" text-anchor="end" fill="#222" >80</text>
<text x="198.4" y="16.999999999999996" font-size="4.8" text-anchor="end" fill="#222" >100</text>
<text x="225.2" y="119.6" font-size="4.2" text-anchor="middle" fill="#222" >0.01</text>
<text x="248.0" y="119.6" font-size="4.2" text-anchor="middle" fill="#222" >0.1</text>
<text x="271.2" y="119.6" font-size="4.2" text-anchor="middle" fill="#222" >1</text>
<text x="294.3" y="119.6" font-size="4.2" text-anchor="middle" fill="#222" >10</text>
<text x="316.3" y="119.6" font-size="4.2" text-anchor="middle" fill="#222" >100</text>
<polyline points="202.3,113.6 228.0,113.6 239.5,113.6 250.7,113.6 261.9,111.6 273.1,95.9 284.3,60.5 295.5,30.0 306.0,15.3" fill="none" stroke="#000" stroke-width="0.95" stroke-linejoin="round"/>
<polyline points="202.3,113.6 228.0,106.7 239.5,57.6 250.7,22.2 261.9,16.3 273.1,15.3 284.3,15.3 295.5,15.3 306.0,15.3" fill="none" stroke="#000" stroke-width="0.95" stroke-linejoin="round"/>
<polyline points="202.3,113.6 228.0,113.6 239.5,113.6 250.7,111.6 261.9,92.0 273.1,60.5 284.3,31.0 295.5,17.3 306.0,15.3" fill="none" stroke="#000" stroke-width="0.95" stroke-linejoin="round"/>
<polyline points="202.3,113.6 228.0,107.7 239.5,62.5 250.7,22.7 261.9,16.8 273.1,15.8 284.3,15.3 295.5,15.3 306.0,15.3" fill="none" stroke="#000" stroke-width="0.95" stroke-linejoin="round"/>
<polyline points="202.3,113.6 228.0,108.7 239.5,65.4 250.7,23.2 261.9,17.3 273.1,16.3 284.3,15.3 295.5,15.3 306.0,15.3" fill="none" stroke="#000" stroke-width="0.95" stroke-linejoin="round"/>
<polyline points="202.3,113.6 228.0,109.7 239.5,67.4 250.7,24.1 261.9,17.8 273.1,16.3 284.3,15.3 295.5,15.3 306.0,15.3" fill="none" stroke="#000" stroke-width="0.95" stroke-linejoin="round"/>
<polyline points="202.3,113.6 228.0,112.1 239.5,92.0 250.7,38.9 261.9,20.2 273.1,17.8 284.3,16.3 295.5,15.3 306.0,15.3" fill="none" stroke="#000" stroke-width="0.95" stroke-linejoin="round"/>
<polyline points="202.3,113.6 228.0,111.6 239.5,86.1 250.7,30.0 261.9,19.2 273.1,17.3 284.3,16.3 295.5,15.3 306.0,15.3" fill="none" stroke="#000" stroke-width="0.95" stroke-linejoin="round"/>
<polyline points="202.3,113.6 228.0,110.7 239.5,74.3 250.7,27.1 261.9,18.2 273.1,16.8 284.3,15.8 295.5,15.3 306.0,15.3" fill="none" stroke="#000" stroke-width="0.95" stroke-linejoin="round"/>
<polyline points="202.3,113.6 228.0,113.6 239.5,104.4 250.7,73.3 261.9,32.4 273.1,24.5 284.3,18.2 295.5,16.3 306.0,15.3" fill="none" stroke="#000" stroke-width="0.95" stroke-linejoin="round"/>
<polyline points="202.3,113.6 228.0,112.6 239.5,95.9 250.7,41.8 261.9,25.4 273.1,19.2 284.3,16.8 295.5,15.3 306.0,15.3" fill="none" stroke="#000" stroke-width="0.95" stroke-linejoin="round"/>
<polyline points="202.3,113.6 228.0,113.1 239.5,98.4 250.7,62.0 261.9,34.2 273.1,22.2 284.3,17.8 295.5,15.8 306.0,15.3" fill="none" stroke="#000" stroke-width="0.95" stroke-linejoin="round"/>
<polyline points="202.3,113.6 228.0,89.0 239.5,34.0 250.7,16.5 261.9,15.3 273.1,15.3 284.3,15.3 295.5,15.3 306.0,15.3" fill="none" stroke="#000" stroke-width="0.95" stroke-linejoin="round"/>
<rect x="200.95" y="112.25" width="2.70" height="2.70" fill="#fff" stroke="#000" stroke-width="0.7"/><circle cx="202.30" cy="113.60" r="0.45" fill="#555"/>
<rect x="226.65" y="112.25" width="2.70" height="2.70" fill="#fff" stroke="#000" stroke-width="0.7"/><circle cx="228.00" cy="113.60" r="0.45" fill="#555"/>
<rect x="238.15" y="112.25" width="2.70" height="2.70" fill="#fff" stroke="#000" stroke-width="0.7"/><circle cx="239.50" cy="113.60" r="0.45" fill="#555"/>
<rect x="249.35" y="112.25" width="2.70" height="2.70" fill="#fff" stroke="#000" stroke-width="0.7"/><circle cx="250.70" cy="113.60" r="0.45" fill="#555"/>
<rect x="260.55" y="110.28" width="2.70" height="2.70" fill="#fff" stroke="#000" stroke-width="0.7"/><circle cx="261.90" cy="111.63" r="0.45" fill="#555"/>
<rect x="271.75" y="94.56" width="2.70" height="2.70" fill="#fff" stroke="#000" stroke-width="0.7"/><circle cx="273.10" cy="95.91" r="0.45" fill="#555"/>
<rect x="282.95" y="59.17" width="2.70" height="2.70" fill="#fff" stroke="#000" stroke-width="0.7"/><circle cx="284.30" cy="60.52" r="0.45" fill="#555"/>
<rect x="294.15" y="28.69" width="2.70" height="2.70" fill="#fff" stroke="#000" stroke-width="0.7"/><circle cx="295.50" cy="30.04" r="0.45" fill="#555"/>
<rect x="304.65" y="13.95" width="2.70" height="2.70" fill="#fff" stroke="#000" stroke-width="0.7"/><circle cx="306.00" cy="15.30" r="0.45" fill="#555"/>
<path d="M202.30 111.84l1.76 1.76l-1.76 1.76l-1.76 -1.76Z" fill="#fff" stroke="#000" stroke-width="0.7"/><circle cx="202.30" cy="113.60" r="0.4" fill="#555"/>
<path d="M228.00 111.84l1.76 1.76l-1.76 1.76l-1.76 -1.76Z" fill="#fff" stroke="#000" stroke-width="0.7"/><circle cx="228.00" cy="113.60" r="0.4" fill="#555"/>
<path d="M239.50 111.84l1.76 1.76l-1.76 1.76l-1.76 -1.76Z" fill="#fff" stroke="#000" stroke-width="0.7"/><circle cx="239.50" cy="113.60" r="0.4" fill="#555"/>
<path d="M250.70 109.88l1.76 1.76l-1.76 1.76l-1.76 -1.76Z" fill="#fff" stroke="#000" stroke-width="0.7"/><circle cx="250.70" cy="111.63" r="0.4" fill="#555"/>
<path d="M261.90 90.22l1.76 1.76l-1.76 1.76l-1.76 -1.76Z" fill="#fff" stroke="#000" stroke-width="0.7"/><circle cx="261.90" cy="91.97" r="0.4" fill="#555"/>
<path d="M273.10 58.76l1.76 1.76l-1.76 1.76l-1.76 -1.76Z" fill="#fff" stroke="#000" stroke-width="0.7"/><circle cx="273.10" cy="60.52" r="0.4" fill="#555"/>
<path d="M284.30 29.27l1.76 1.76l-1.76 1.76l-1.76 -1.76Z" fill="#fff" stroke="#000" stroke-width="0.7"/><circle cx="284.30" cy="31.03" r="0.4" fill="#555"/>
<path d="M295.50 15.51l1.76 1.76l-1.76 1.76l-1.76 -1.76Z" fill="#fff" stroke="#000" stroke-width="0.7"/><circle cx="295.50" cy="17.27" r="0.4" fill="#555"/>
<path d="M306.00 13.54l1.76 1.76l-1.76 1.76l-1.76 -1.76Z" fill="#fff" stroke="#000" stroke-width="0.7"/><circle cx="306.00" cy="15.30" r="0.4" fill="#555"/>
<path d="M202.30 111.84l1.69 2.97h-3.38Z" fill="#fff" stroke="#000" stroke-width="0.7"/>
<path d="M228.00 111.84l1.69 2.97h-3.38Z" fill="#fff" stroke="#000" stroke-width="0.7"/>
<path d="M239.50 102.60l1.69 2.97h-3.38Z" fill="#fff" stroke="#000" stroke-width="0.7"/>
<path d="M250.70 71.54l1.69 2.97h-3.38Z" fill="#fff" stroke="#000" stroke-width="0.7"/>
<path d="M261.90 30.65l1.69 2.97h-3.38Z" fill="#fff" stroke="#000" stroke-width="0.7"/>
<path d="M273.10 22.79l1.69 2.97h-3.38Z" fill="#fff" stroke="#000" stroke-width="0.7"/>
<path d="M284.30 16.49l1.69 2.97h-3.38Z" fill="#fff" stroke="#000" stroke-width="0.7"/>
<path d="M295.50 14.53l1.69 2.97h-3.38Z" fill="#fff" stroke="#000" stroke-width="0.7"/>
<path d="M306.00 13.54l1.69 2.97h-3.38Z" fill="#fff" stroke="#000" stroke-width="0.7"/>
<circle cx="202.30" cy="113.60" r="1.49" fill="#fff" stroke="#000" stroke-width="0.7"/><circle cx="202.30" cy="113.60" r="0.4" fill="#555"/>
<circle cx="228.00" cy="113.11" r="1.49" fill="#fff" stroke="#000" stroke-width="0.7"/><circle cx="228.00" cy="113.11" r="0.4" fill="#555"/>
<circle cx="239.50" cy="98.36" r="1.49" fill="#fff" stroke="#000" stroke-width="0.7"/><circle cx="239.50" cy="98.36" r="0.4" fill="#555"/>
<circle cx="250.70" cy="61.99" r="1.49" fill="#fff" stroke="#000" stroke-width="0.7"/><circle cx="250.70" cy="61.99" r="0.4" fill="#555"/>
<circle cx="261.90" cy="34.17" r="1.49" fill="#fff" stroke="#000" stroke-width="0.7"/><circle cx="261.90" cy="34.17" r="0.4" fill="#555"/>
<circle cx="273.10" cy="22.18" r="1.49" fill="#fff" stroke="#000" stroke-width="0.7"/><circle cx="273.10" cy="22.18" r="0.4" fill="#555"/>
<circle cx="284.30" cy="17.76" r="1.49" fill="#fff" stroke="#000" stroke-width="0.7"/><circle cx="284.30" cy="17.76" r="0.4" fill="#555"/>
<circle cx="295.50" cy="15.79" r="1.49" fill="#fff" stroke="#000" stroke-width="0.7"/><circle cx="295.50" cy="15.79" r="0.4" fill="#555"/>
<circle cx="306.00" cy="15.30" r="1.49" fill="#fff" stroke="#000" stroke-width="0.7"/><circle cx="306.00" cy="15.30" r="0.4" fill="#555"/>
<rect x="200.95" y="112.25" width="2.70" height="2.70" fill="#000"/>
<rect x="226.65" y="105.37" width="2.70" height="2.70" fill="#000"/>
<rect x="238.15" y="56.22" width="2.70" height="2.70" fill="#000"/>
<rect x="249.35" y="20.83" width="2.70" height="2.70" fill="#000"/>
<rect x="260.55" y="14.93" width="2.70" height="2.70" fill="#000"/>
<rect x="271.75" y="13.95" width="2.70" height="2.70" fill="#000"/>
<rect x="282.95" y="13.95" width="2.70" height="2.70" fill="#000"/>
<rect x="294.15" y="13.95" width="2.70" height="2.70" fill="#000"/>
<rect x="304.65" y="13.95" width="2.70" height="2.70" fill="#000"/>
<circle cx="202.30" cy="113.60" r="1.49" fill="#000"/>
<circle cx="228.00" cy="107.70" r="1.49" fill="#000"/>
<circle cx="239.50" cy="62.48" r="1.49" fill="#000"/>
<circle cx="250.70" cy="22.67" r="1.49" fill="#000"/>
<circle cx="261.90" cy="16.77" r="1.49" fill="#000"/>
<circle cx="273.10" cy="15.79" r="1.49" fill="#000"/>
<circle cx="284.30" cy="15.30" r="1.49" fill="#000"/>
<circle cx="295.50" cy="15.30" r="1.49" fill="#000"/>
<circle cx="306.00" cy="15.30" r="1.49" fill="#000"/>
<circle cx="202.30" cy="113.60" r="1.49" fill="#000"/>
<circle cx="228.00" cy="108.68" r="1.49" fill="#000"/>
<circle cx="239.50" cy="65.43" r="1.49" fill="#000"/>
<circle cx="250.70" cy="23.16" r="1.49" fill="#000"/>
<circle cx="261.90" cy="17.27" r="1.49" fill="#000"/>
<circle cx="273.10" cy="16.28" r="1.49" fill="#000"/>
<circle cx="284.30" cy="15.30" r="1.49" fill="#000"/>
<circle cx="295.50" cy="15.30" r="1.49" fill="#000"/>
<circle cx="306.00" cy="15.30" r="1.49" fill="#000"/>
<path d="M202.30 111.84l1.76 1.76l-1.76 1.76l-1.76 -1.76Z" fill="#000"/>
<path d="M228.00 107.91l1.76 1.76l-1.76 1.76l-1.76 -1.76Z" fill="#000"/>
<path d="M239.50 65.64l1.76 1.76l-1.76 1.76l-1.76 -1.76Z" fill="#000"/>
<path d="M250.70 22.39l1.76 1.76l-1.76 1.76l-1.76 -1.76Z" fill="#000"/>
<path d="M261.90 16.00l1.76 1.76l-1.76 1.76l-1.76 -1.76Z" fill="#000"/>
<path d="M273.10 14.53l1.76 1.76l-1.76 1.76l-1.76 -1.76Z" fill="#000"/>
<path d="M284.30 13.54l1.76 1.76l-1.76 1.76l-1.76 -1.76Z" fill="#000"/>
<path d="M295.50 13.54l1.76 1.76l-1.76 1.76l-1.76 -1.76Z" fill="#000"/>
<path d="M306.00 13.54l1.76 1.76l-1.76 1.76l-1.76 -1.76Z" fill="#000"/>
<rect x="200.95" y="112.25" width="2.70" height="2.70" fill="#000"/>
<rect x="226.65" y="110.78" width="2.70" height="2.70" fill="#000"/>
<rect x="238.15" y="90.62" width="2.70" height="2.70" fill="#000"/>
<rect x="249.35" y="37.54" width="2.70" height="2.70" fill="#000"/>
<rect x="260.55" y="18.86" width="2.70" height="2.70" fill="#000"/>
<rect x="271.75" y="16.41" width="2.70" height="2.70" fill="#000"/>
<rect x="282.95" y="14.93" width="2.70" height="2.70" fill="#000"/>
<rect x="294.15" y="13.95" width="2.70" height="2.70" fill="#000"/>
<rect x="304.65" y="13.95" width="2.70" height="2.70" fill="#000"/>
<circle cx="202.30" cy="113.60" r="1.49" fill="#000"/>
<circle cx="228.00" cy="111.63" r="1.49" fill="#000"/>
<circle cx="239.50" cy="86.08" r="1.49" fill="#000"/>
<circle cx="250.70" cy="30.04" r="1.49" fill="#000"/>
<circle cx="261.90" cy="19.23" r="1.49" fill="#000"/>
<circle cx="273.10" cy="17.27" r="1.49" fill="#000"/>
<circle cx="284.30" cy="16.28" r="1.49" fill="#000"/>
<circle cx="295.50" cy="15.30" r="1.49" fill="#000"/>
<circle cx="306.00" cy="15.30" r="1.49" fill="#000"/>
<path d="M202.30 111.84l1.69 2.97h-3.38Z" fill="#000"/>
<path d="M228.00 108.90l1.69 2.97h-3.38Z" fill="#000"/>
<path d="M239.50 72.53l1.69 2.97h-3.38Z" fill="#000"/>
<path d="M250.70 25.34l1.69 2.97h-3.38Z" fill="#000"/>
<path d="M261.90 16.49l1.69 2.97h-3.38Z" fill="#000"/>
<path d="M273.10 15.02l1.69 2.97h-3.38Z" fill="#000"/>
<path d="M284.30 14.04l1.69 2.97h-3.38Z" fill="#000"/>
<path d="M295.50 13.54l1.69 2.97h-3.38Z" fill="#000"/>
<path d="M306.00 13.54l1.69 2.97h-3.38Z" fill="#000"/>
<path d="M202.30 111.84l1.76 1.76l-1.76 1.76l-1.76 -1.76Z" fill="#000"/>
<path d="M228.00 110.86l1.76 1.76l-1.76 1.76l-1.76 -1.76Z" fill="#000"/>
<path d="M239.50 94.15l1.76 1.76l-1.76 1.76l-1.76 -1.76Z" fill="#000"/>
<path d="M250.70 40.09l1.76 1.76l-1.76 1.76l-1.76 -1.76Z" fill="#000"/>
<path d="M261.90 23.67l1.76 1.76l-1.76 1.76l-1.76 -1.76Z" fill="#000"/>
<path d="M273.10 17.48l1.76 1.76l-1.76 1.76l-1.76 -1.76Z" fill="#000"/>
<path d="M284.30 15.02l1.76 1.76l-1.76 1.76l-1.76 -1.76Z" fill="#000"/>
<path d="M295.50 13.54l1.76 1.76l-1.76 1.76l-1.76 -1.76Z" fill="#000"/>
<path d="M306.00 13.54l1.76 1.76l-1.76 1.76l-1.76 -1.76Z" fill="#000"/>
<path d="M202.30 111.84l1.76 1.76l-1.76 1.76l-1.76 -1.76Z" fill="#000"/>
<path d="M228.00 87.27l1.76 1.76l-1.76 1.76l-1.76 -1.76Z" fill="#000"/>
<path d="M239.50 32.22l1.76 1.76l-1.76 1.76l-1.76 -1.76Z" fill="#000"/>
<path d="M250.70 14.72l1.76 1.76l-1.76 1.76l-1.76 -1.76Z" fill="#000"/>
<path d="M261.90 13.54l1.76 1.76l-1.76 1.76l-1.76 -1.76Z" fill="#000"/>
<path d="M273.10 13.54l1.76 1.76l-1.76 1.76l-1.76 -1.76Z" fill="#000"/>
<path d="M284.30 13.54l1.76 1.76l-1.76 1.76l-1.76 -1.76Z" fill="#000"/>
<path d="M295.50 13.54l1.76 1.76l-1.76 1.76l-1.76 -1.76Z" fill="#000"/>
<path d="M306.00 13.54l1.76 1.76l-1.76 1.76l-1.76 -1.76Z" fill="#000"/>
<circle cx="202.3" cy="113.6" r="2.1" fill="#000"/>
<rect x="304.50" y="13.80" width="3.00" height="3.00" fill="#000"/>
<path d="M313.5 19.1h7.2" stroke="#000" stroke-width="0.7"/>
<rect x="315.65" y="17.85" width="2.50" height="2.50" fill="#fff" stroke="#000" stroke-width="0.7"/><circle cx="316.90" cy="19.10" r="0.45" fill="#555"/>
<text x="323.8" y="20.75" font-size="4.65" text-anchor="start" fill="#222" >C2A</text>
<path d="M313.5 26.2h7.2" stroke="#000" stroke-width="0.7"/>
<rect x="315.65" y="24.90" width="2.50" height="2.50" fill="#000"/>
<text x="323.8" y="27.8" font-size="4.65" text-anchor="start" fill="#222" >A11C</text>
<path d="M313.5 33.2h7.2" stroke="#000" stroke-width="0.7"/>
<path d="M316.90 31.58l1.62 1.62l-1.62 1.62l-1.62 -1.62Z" fill="#fff" stroke="#000" stroke-width="0.7"/><circle cx="316.90" cy="33.20" r="0.4" fill="#555"/>
<text x="323.8" y="34.85" font-size="4.65" text-anchor="start" fill="#222" >G12C</text>
<path d="M313.5 40.2h7.2" stroke="#000" stroke-width="0.7"/>
<circle cx="316.90" cy="40.25" r="1.38" fill="#000"/>
<text x="323.8" y="41.9" font-size="4.65" text-anchor="start" fill="#222" >C12C</text>
<path d="M313.5 47.3h7.2" stroke="#000" stroke-width="0.7"/>
<circle cx="316.90" cy="47.30" r="1.38" fill="#000"/>
<text x="323.8" y="48.949999999999996" font-size="4.65" text-anchor="start" fill="#222" >E3A</text>
<path d="M313.5 54.4h7.2" stroke="#000" stroke-width="0.7"/>
<path d="M316.90 52.73l1.62 1.62l-1.62 1.62l-1.62 -1.62Z" fill="#000"/>
<text x="323.8" y="56.0" font-size="4.65" text-anchor="start" fill="#222" >G11C</text>
<path d="M313.5 61.4h7.2" stroke="#000" stroke-width="0.7"/>
<rect x="315.65" y="60.15" width="2.50" height="2.50" fill="#000"/>
<text x="323.8" y="63.05" font-size="4.65" text-anchor="start" fill="#222" >E2C</text>
<path d="M313.5 68.5h7.2" stroke="#000" stroke-width="0.7"/>
<circle cx="316.90" cy="68.45" r="1.38" fill="#000"/>
<text x="323.8" y="70.10000000000001" font-size="4.65" text-anchor="start" fill="#222" >G10A</text>
<path d="M313.5 75.5h7.2" stroke="#000" stroke-width="0.7"/>
<path d="M316.90 73.88l1.56 2.75h-3.12Z" fill="#000"/>
<text x="323.8" y="77.15" font-size="4.65" text-anchor="start" fill="#222" >E1C</text>
<path d="M313.5 82.5h7.2" stroke="#000" stroke-width="0.7"/>
<path d="M316.90 80.92l1.56 2.75h-3.12Z" fill="#fff" stroke="#000" stroke-width="0.7"/>
<text x="323.8" y="84.2" font-size="4.65" text-anchor="start" fill="#222" >F9A</text>
<path d="M313.5 89.6h7.2" stroke="#000" stroke-width="0.7"/>
<path d="M316.90 87.97l1.62 1.62l-1.62 1.62l-1.62 -1.62Z" fill="#000"/>
<text x="323.8" y="91.25" font-size="4.65" text-anchor="start" fill="#222" >G10H</text>
<path d="M313.5 96.7h7.2" stroke="#000" stroke-width="0.7"/>
<circle cx="316.90" cy="96.65" r="1.38" fill="#fff" stroke="#000" stroke-width="0.7"/><circle cx="316.90" cy="96.65" r="0.4" fill="#555"/>
<text x="323.8" y="98.30000000000001" font-size="4.65" text-anchor="start" fill="#222" >H8B</text>
<path d="M313.5 103.7h7.2" stroke="#000" stroke-width="0.7"/>
<path d="M316.90 102.07l1.62 1.62l-1.62 1.62l-1.62 -1.62Z" fill="#000"/>
<text x="323.8" y="105.35" font-size="4.65" text-anchor="start" fill="#222" >H9B</text>
<path d="M339.7 11.0H351.8L340.1 110.5L339.7 108Z" fill="#fff" stroke="#111" stroke-width="0.9"/>
<text x="341.8" y="12.8" font-size="6.2" text-anchor="start" fill="#111" textLength="50.2" lengthAdjust="spacingAndGlyphs" transform="rotate(90 341.8 12.8)" >Antigen sensitivity</text>
<text x="188.5" y="65.75" font-size="7.5" text-anchor="middle" fill="#111" textLength="96.9" lengthAdjust="spacingAndGlyphs" transform="rotate(-90 188.5 65.75)" >Normalized % tetramer+ cells</text>
<text x="210.4" y="129.6" font-size="7.4" text-anchor="start" fill="#111" textLength="101" lengthAdjust="spacingAndGlyphs" >Tetramer concentration (µg/ml)</text>
<path d="M392.7 15.1V113.7H508.5" fill="none" stroke="#111" stroke-width="1"/>
<path d="M392.7 113.7h-2.4M392.7 103.8h-1.2M392.7 98.0h-1.2M392.7 93.9h-1.2M392.7 90.7h-1.2M392.7 88.1h-1.2M392.7 85.9h-1.2M392.7 84.0h-1.2M392.7 82.3h-1.2M392.7 80.8h-2.4M392.7 70.9h-1.2M392.7 65.1h-1.2M392.7 61.0h-1.2M392.7 57.9h-1.2M392.7 55.3h-1.2M392.7 53.1h-1.2M392.7 51.1h-1.2M392.7 49.5h-1.2M392.7 48.0h-2.4M392.7 38.1h-1.2M392.7 32.3h-1.2M392.7 28.2h-1.2M392.7 25.0h-1.2M392.7 22.4h-1.2M392.7 20.2h-1.2M392.7 18.3h-1.2M392.7 16.6h-1.2M392.7 15.1h-2.4M392.9 113.7v2.2M399.8 113.7v1.2M403.9 113.7v1.2M406.7 113.7v1.2M409.0 113.7v1.2M410.8 113.7v1.2M412.3 113.7v1.2M413.7 113.7v1.2M414.8 113.7v1.2M415.9 113.7v2.2M422.8 113.7v1.2M426.9 113.7v1.2M429.7 113.7v1.2M432.0 113.7v1.2M433.8 113.7v1.2M435.3 113.7v1.2M436.7 113.7v1.2M437.8 113.7v1.2M438.9 113.7v2.2M445.8 113.7v1.2M449.9 113.7v1.2M452.7 113.7v1.2M455.0 113.7v1.2M456.8 113.7v1.2M458.3 113.7v1.2M459.7 113.7v1.2M460.8 113.7v1.2M461.9 113.7v2.2M468.8 113.7v1.2M472.9 113.7v1.2M475.7 113.7v1.2M478.0 113.7v1.2M479.8 113.7v1.2M481.3 113.7v1.2M482.7 113.7v1.2M483.8 113.7v1.2M484.9 113.7v2.2M491.8 113.7v1.2M495.9 113.7v1.2M498.7 113.7v1.2M501.0 113.7v1.2M502.8 113.7v1.2M504.3 113.7v1.2M505.7 113.7v1.2M506.8 113.7v1.2M508.2 113.7v2.2" stroke="#111" stroke-width="0.8" fill="none"/>
<text x="388.2" y="16.45" font-size="3.8" text-anchor="end" fill="#111" >10000</text>
<text x="388.2" y="49.35" font-size="3.8" text-anchor="end" fill="#111" >1000</text>
<text x="388.2" y="82.14999999999999" font-size="3.8" text-anchor="end" fill="#111" >100</text>
<text x="388.2" y="115.05" font-size="3.8" text-anchor="end" fill="#111" >10</text>
<text x="415.6" y="119.0" font-size="3.9" text-anchor="middle" fill="#111" >0.01</text>
<text x="438.4" y="119.0" font-size="3.9" text-anchor="middle" fill="#111" >0.1</text>
<text x="462.0" y="119.0" font-size="3.9" text-anchor="middle" fill="#111" >1</text>
<text x="485.0" y="119.0" font-size="3.9" text-anchor="middle" fill="#111" >10</text>
<text x="507.3" y="119.0" font-size="3.9" text-anchor="middle" fill="#111" >100</text>
<polyline points="392.8,87.5 418.2,77.7 429.5,67.2 440.7,55.4 451.9,42.5 463.0,34.0 474.1,29.5 485.2,25.0 496.3,22.5" fill="none" stroke="#000" stroke-width="0.95" stroke-linejoin="round"/>
<polyline points="392.8,87.7 418.2,78.3 429.5,68.0 440.7,56.3 451.9,43.3 463.0,34.5 474.1,30.0 485.2,25.4 496.3,23.0" fill="none" stroke="#000" stroke-width="0.95" stroke-linejoin="round"/>
<polyline points="392.8,87.9 418.2,78.9 429.5,68.8 440.7,57.2 451.9,44.0 463.0,35.0 474.1,30.4 485.2,25.8 496.3,23.5" fill="none" stroke="#000" stroke-width="0.95" stroke-linejoin="round"/>
<polyline points="392.8,88.1 418.2,79.4 429.5,69.6 440.7,58.0 451.9,44.8 463.0,35.6 474.1,30.9 485.2,26.3 496.3,24.0" fill="none" stroke="#000" stroke-width="0.95" stroke-linejoin="round"/>
<polyline points="392.8,88.3 418.2,80.0 429.5,70.4 440.7,59.0 451.9,45.6 463.0,36.2 474.1,31.3 485.2,26.8 496.3,24.5" fill="none" stroke="#000" stroke-width="0.95" stroke-linejoin="round"/>
<polyline points="392.8,88.5 418.2,80.5 429.5,71.2 440.7,60.2 451.9,46.6 463.0,36.9 474.1,31.8 485.2,27.3 496.3,25.0" fill="none" stroke="#000" stroke-width="0.95" stroke-linejoin="round"/>
<polyline points="392.8,88.7 418.2,81.1 429.5,72.0 440.7,61.5 451.9,48.0 463.0,38.0 474.1,32.5 485.2,28.0 496.3,25.6" fill="none" stroke="#000" stroke-width="0.95" stroke-linejoin="round"/>
<polyline points="392.8,88.9 418.2,81.7 429.5,72.8 440.7,63.0 451.9,50.0 463.0,39.3 474.1,33.9 485.2,30.2 496.3,26.3" fill="none" stroke="#000" stroke-width="0.95" stroke-linejoin="round"/>
<polyline points="392.8,88.5 418.2,81.9 429.5,73.6 440.7,64.0 451.9,52.5 463.0,42.5 474.1,35.3 485.2,31.2 496.3,29.0" fill="none" stroke="#000" stroke-width="0.95" stroke-linejoin="round"/>
<polyline points="392.8,88.8 418.2,83.8 429.5,75.3 440.7,64.8 451.9,54.3 463.0,46.2 474.1,41.3 485.2,36.3 496.3,32.4" fill="none" stroke="#000" stroke-width="0.95" stroke-linejoin="round"/>
<polyline points="392.8,89.0 418.2,87.4 429.5,80.1 440.7,72.5 451.9,61.6 463.0,51.0 474.1,42.7 485.2,40.5 496.3,37.8" fill="none" stroke="#000" stroke-width="0.95" stroke-linejoin="round"/>
<polyline points="392.8,89.3 418.2,89.0 429.5,86.6 440.7,83.8 451.9,77.7 463.0,69.2 474.1,57.9 485.2,49.3 496.3,41.7" fill="none" stroke="#000" stroke-width="0.95" stroke-linejoin="round"/>
<polyline points="392.8,90.0 418.2,89.8 429.5,89.4 440.7,88.2 451.9,84.4 463.0,79.3 474.1,71.4 485.2,63.1 496.3,54.6" fill="none" stroke="#000" stroke-width="0.95" stroke-linejoin="round"/>
<path d="M392.80 87.57l1.38 2.42h-2.75Z" fill="#fff" stroke="#000" stroke-width="0.7"/>
<path d="M418.20 85.97l1.38 2.42h-2.75Z" fill="#fff" stroke="#000" stroke-width="0.7"/>
<path d="M429.50 78.67l1.38 2.42h-2.75Z" fill="#fff" stroke="#000" stroke-width="0.7"/>
<path d="M440.70 71.07l1.38 2.42h-2.75Z" fill="#fff" stroke="#000" stroke-width="0.7"/>
<path d="M451.90 60.17l1.38 2.42h-2.75Z" fill="#fff" stroke="#000" stroke-width="0.7"/>
<path d="M463.00 49.57l1.38 2.42h-2.75Z" fill="#fff" stroke="#000" stroke-width="0.7"/>
<path d="M474.10 41.27l1.38 2.42h-2.75Z" fill="#fff" stroke="#000" stroke-width="0.7"/>
<path d="M485.20 39.07l1.38 2.42h-2.75Z" fill="#fff" stroke="#000" stroke-width="0.7"/>
<path d="M496.30 36.37l1.38 2.42h-2.75Z" fill="#fff" stroke="#000" stroke-width="0.7"/>
<rect x="391.70" y="88.90" width="2.20" height="2.20" fill="#fff" stroke="#000" stroke-width="0.7"/><circle cx="392.80" cy="90.00" r="0.45" fill="#555"/>
<rect x="417.10" y="88.70" width="2.20" height="2.20" fill="#fff" stroke="#000" stroke-width="0.7"/><circle cx="418.20" cy="89.80" r="0.45" fill="#555"/>
<rect x="428.40" y="88.30" width="2.20" height="2.20" fill="#fff" stroke="#000" stroke-width="0.7"/><circle cx="429.50" cy="89.40" r="0.45" fill="#555"/>
<rect x="439.60" y="87.10" width="2.20" height="2.20" fill="#fff" stroke="#000" stroke-width="0.7"/><circle cx="440.70" cy="88.20" r="0.45" fill="#555"/>
<rect x="450.80" y="83.30" width="2.20" height="2.20" fill="#fff" stroke="#000" stroke-width="0.7"/><circle cx="451.90" cy="84.40" r="0.45" fill="#555"/>
<rect x="461.90" y="78.20" width="2.20" height="2.20" fill="#fff" stroke="#000" stroke-width="0.7"/><circle cx="463.00" cy="79.30" r="0.45" fill="#555"/>
<rect x="473.00" y="70.30" width="2.20" height="2.20" fill="#fff" stroke="#000" stroke-width="0.7"/><circle cx="474.10" cy="71.40" r="0.45" fill="#555"/>
<rect x="484.10" y="62.00" width="2.20" height="2.20" fill="#fff" stroke="#000" stroke-width="0.7"/><circle cx="485.20" cy="63.10" r="0.45" fill="#555"/>
<rect x="495.20" y="53.50" width="2.20" height="2.20" fill="#fff" stroke="#000" stroke-width="0.7"/><circle cx="496.30" cy="54.60" r="0.45" fill="#555"/>
<rect x="391.70" y="86.40" width="2.20" height="2.20" fill="#000"/>
<rect x="417.10" y="76.60" width="2.20" height="2.20" fill="#000"/>
<rect x="428.40" y="66.10" width="2.20" height="2.20" fill="#000"/>
<rect x="439.60" y="54.30" width="2.20" height="2.20" fill="#000"/>
<rect x="450.80" y="41.40" width="2.20" height="2.20" fill="#000"/>
<rect x="461.90" y="32.90" width="2.20" height="2.20" fill="#000"/>
<rect x="473.00" y="28.40" width="2.20" height="2.20" fill="#000"/>
<rect x="484.10" y="23.90" width="2.20" height="2.20" fill="#000"/>
<rect x="495.20" y="21.40" width="2.20" height="2.20" fill="#000"/>
<circle cx="392.80" cy="87.70" r="1.21" fill="#000"/>
<circle cx="418.20" cy="78.30" r="1.21" fill="#000"/>
<circle cx="429.50" cy="68.00" r="1.21" fill="#000"/>
<circle cx="440.70" cy="56.30" r="1.21" fill="#000"/>
<circle cx="451.90" cy="43.30" r="1.21" fill="#000"/>
<circle cx="463.00" cy="34.50" r="1.21" fill="#000"/>
<circle cx="474.10" cy="30.00" r="1.21" fill="#000"/>
<circle cx="485.20" cy="25.40" r="1.21" fill="#000"/>
<circle cx="496.30" cy="23.00" r="1.21" fill="#000"/>
<path d="M392.80 86.47l1.43 1.43l-1.43 1.43l-1.43 -1.43Z" fill="#000"/>
<path d="M418.20 77.47l1.43 1.43l-1.43 1.43l-1.43 -1.43Z" fill="#000"/>
<path d="M429.50 67.37l1.43 1.43l-1.43 1.43l-1.43 -1.43Z" fill="#000"/>
<path d="M440.70 55.77l1.43 1.43l-1.43 1.43l-1.43 -1.43Z" fill="#000"/>
<path d="M451.90 42.57l1.43 1.43l-1.43 1.43l-1.43 -1.43Z" fill="#000"/>
<path d="M463.00 33.57l1.43 1.43l-1.43 1.43l-1.43 -1.43Z" fill="#000"/>
<path d="M474.10 28.97l1.43 1.43l-1.43 1.43l-1.43 -1.43Z" fill="#000"/>
<path d="M485.20 24.37l1.43 1.43l-1.43 1.43l-1.43 -1.43Z" fill="#000"/>
<path d="M496.30 22.07l1.43 1.43l-1.43 1.43l-1.43 -1.43Z" fill="#000"/>
<circle cx="392.80" cy="88.10" r="1.21" fill="#000"/>
<circle cx="418.20" cy="79.40" r="1.21" fill="#000"/>
<circle cx="429.50" cy="69.60" r="1.21" fill="#000"/>
<circle cx="440.70" cy="58.00" r="1.21" fill="#000"/>
<circle cx="451.90" cy="44.80" r="1.21" fill="#000"/>
<circle cx="463.00" cy="35.60" r="1.21" fill="#000"/>
<circle cx="474.10" cy="30.90" r="1.21" fill="#000"/>
<circle cx="485.20" cy="26.30" r="1.21" fill="#000"/>
<circle cx="496.30" cy="24.00" r="1.21" fill="#000"/>
<rect x="391.70" y="87.20" width="2.20" height="2.20" fill="#000"/>
<rect x="417.10" y="78.90" width="2.20" height="2.20" fill="#000"/>
<rect x="428.40" y="69.30" width="2.20" height="2.20" fill="#000"/>
<rect x="439.60" y="57.90" width="2.20" height="2.20" fill="#000"/>
<rect x="450.80" y="44.50" width="2.20" height="2.20" fill="#000"/>
<rect x="461.90" y="35.10" width="2.20" height="2.20" fill="#000"/>
<rect x="473.00" y="30.20" width="2.20" height="2.20" fill="#000"/>
<rect x="484.10" y="25.70" width="2.20" height="2.20" fill="#000"/>
<rect x="495.20" y="23.40" width="2.20" height="2.20" fill="#000"/>
<circle cx="392.80" cy="88.50" r="1.21" fill="#000"/>
<circle cx="418.20" cy="80.50" r="1.21" fill="#000"/>
<circle cx="429.50" cy="71.20" r="1.21" fill="#000"/>
<circle cx="440.70" cy="60.20" r="1.21" fill="#000"/>
<circle cx="451.90" cy="46.60" r="1.21" fill="#000"/>
<circle cx="463.00" cy="36.90" r="1.21" fill="#000"/>
<circle cx="474.10" cy="31.80" r="1.21" fill="#000"/>
<circle cx="485.20" cy="27.30" r="1.21" fill="#000"/>
<circle cx="496.30" cy="25.00" r="1.21" fill="#000"/>
<path d="M392.80 87.27l1.38 2.42h-2.75Z" fill="#000"/>
<path d="M418.20 79.67l1.38 2.42h-2.75Z" fill="#000"/>
<path d="M429.50 70.57l1.38 2.42h-2.75Z" fill="#000"/>
<path d="M440.70 60.07l1.38 2.42h-2.75Z" fill="#000"/>
<path d="M451.90 46.57l1.38 2.42h-2.75Z" fill="#000"/>
<path d="M463.00 36.57l1.38 2.42h-2.75Z" fill="#000"/>
<path d="M474.10 31.07l1.38 2.42h-2.75Z" fill="#000"/>
<path d="M485.20 26.57l1.38 2.42h-2.75Z" fill="#000"/>
<path d="M496.30 24.17l1.38 2.42h-2.75Z" fill="#000"/>
<path d="M392.80 87.47l1.43 1.43l-1.43 1.43l-1.43 -1.43Z" fill="#000"/>
<path d="M418.20 80.27l1.43 1.43l-1.43 1.43l-1.43 -1.43Z" fill="#000"/>
<path d="M429.50 71.37l1.43 1.43l-1.43 1.43l-1.43 -1.43Z" fill="#000"/>
<path d="M440.70 61.57l1.43 1.43l-1.43 1.43l-1.43 -1.43Z" fill="#000"/>
<path d="M451.90 48.57l1.43 1.43l-1.43 1.43l-1.43 -1.43Z" fill="#000"/>
<path d="M463.00 37.87l1.43 1.43l-1.43 1.43l-1.43 -1.43Z" fill="#000"/>
<path d="M474.10 32.47l1.43 1.43l-1.43 1.43l-1.43 -1.43Z" fill="#000"/>
<path d="M485.20 28.77l1.43 1.43l-1.43 1.43l-1.43 -1.43Z" fill="#000"/>
<path d="M496.30 24.87l1.43 1.43l-1.43 1.43l-1.43 -1.43Z" fill="#000"/>
<circle cx="392.80" cy="88.50" r="1.21" fill="#000"/>
<circle cx="418.20" cy="81.90" r="1.21" fill="#000"/>
<circle cx="429.50" cy="73.60" r="1.21" fill="#000"/>
<circle cx="440.70" cy="64.00" r="1.21" fill="#000"/>
<circle cx="451.90" cy="52.50" r="1.21" fill="#000"/>
<circle cx="463.00" cy="42.50" r="1.21" fill="#000"/>
<circle cx="474.10" cy="35.30" r="1.21" fill="#000"/>
<circle cx="485.20" cy="31.20" r="1.21" fill="#000"/>
<circle cx="496.30" cy="29.00" r="1.21" fill="#000"/>
<circle cx="392.80" cy="88.80" r="1.21" fill="#000"/>
<circle cx="418.20" cy="83.80" r="1.21" fill="#000"/>
<circle cx="429.50" cy="75.30" r="1.21" fill="#000"/>
<circle cx="440.70" cy="64.80" r="1.21" fill="#000"/>
<circle cx="451.90" cy="54.30" r="1.21" fill="#000"/>
<circle cx="463.00" cy="46.20" r="1.21" fill="#000"/>
<circle cx="474.10" cy="41.30" r="1.21" fill="#000"/>
<circle cx="485.20" cy="36.30" r="1.21" fill="#000"/>
<circle cx="496.30" cy="32.40" r="1.21" fill="#000"/>
<path d="M392.80 87.87l1.43 1.43l-1.43 1.43l-1.43 -1.43Z" fill="#000"/>
<path d="M418.20 87.57l1.43 1.43l-1.43 1.43l-1.43 -1.43Z" fill="#000"/>
<path d="M429.50 85.17l1.43 1.43l-1.43 1.43l-1.43 -1.43Z" fill="#000"/>
<path d="M440.70 82.37l1.43 1.43l-1.43 1.43l-1.43 -1.43Z" fill="#000"/>
<path d="M451.90 76.27l1.43 1.43l-1.43 1.43l-1.43 -1.43Z" fill="#000"/>
<path d="M463.00 67.77l1.43 1.43l-1.43 1.43l-1.43 -1.43Z" fill="#000"/>
<path d="M474.10 56.47l1.43 1.43l-1.43 1.43l-1.43 -1.43Z" fill="#000"/>
<path d="M485.20 47.87l1.43 1.43l-1.43 1.43l-1.43 -1.43Z" fill="#000"/>
<path d="M496.30 40.27l1.43 1.43l-1.43 1.43l-1.43 -1.43Z" fill="#000"/>
<text x="374.0" y="64.9" font-size="7.5" text-anchor="middle" fill="#111" textLength="99.8" lengthAdjust="spacingAndGlyphs" transform="rotate(-90 374.0 64.9)" >Median Fluorescense Intensity</text>
<text x="401.9" y="128.9" font-size="7.4" text-anchor="start" fill="#111" textLength="101.2" lengthAdjust="spacingAndGlyphs" >Tetramer concentration (µg/ml)</text>
<path d="M213.7 148.7V256.3H320.6" fill="none" stroke="#444" stroke-width="1.2"/>
<path d="M213.9 148.9h-2.4M213.9 170.4h-2.4M213.9 191.9h-2.4M213.9 213.4h-2.4M213.9 234.9h-2.4M213.9 256.4h-2.4M214.0 256.4v2.2M240.6 256.4v2.2M267.2 256.4v2.2M293.8 256.4v2.2M320.4 256.4v2.2" stroke="#222" stroke-width="0.7" fill="none"/>
<text x="210.3" y="150.5" font-size="4.8" text-anchor="end" fill="#222">10<tspan dy="-1.7" font-size="3.5">-4</tspan></text>
<text x="210.3" y="172.0" font-size="4.8" text-anchor="end" fill="#222">10<tspan dy="-1.7" font-size="3.5">-3</tspan></text>
<text x="210.3" y="193.5" font-size="4.8" text-anchor="end" fill="#222">10<tspan dy="-1.7" font-size="3.5">-2</tspan></text>
<text x="210.3" y="215.0" font-size="4.8" text-anchor="end" fill="#222">10<tspan dy="-1.7" font-size="3.5">-1</tspan></text>
<text x="210.3" y="236.5" font-size="4.8" text-anchor="end" fill="#222">10<tspan dy="-1.7" font-size="3.5">0</tspan></text>
<text x="210.3" y="258.0" font-size="4.8" text-anchor="end" fill="#222">10<tspan dy="-1.7" font-size="3.5">1</tspan></text>
<text x="214.6" y="263.0" font-size="4.8" text-anchor="middle" fill="#222">10<tspan dy="-1.7" font-size="3.5">-6</tspan></text>
<text x="241.2" y="263.0" font-size="4.8" text-anchor="middle" fill="#222">10<tspan dy="-1.7" font-size="3.5">-7</tspan></text>
<text x="267.8" y="263.0" font-size="4.8" text-anchor="middle" fill="#222">10<tspan dy="-1.7" font-size="3.5">-8</tspan></text>
<text x="294.40000000000003" y="263.0" font-size="4.8" text-anchor="middle" fill="#222">10<tspan dy="-1.7" font-size="3.5">-9</tspan></text>
<text x="322.59999999999997" y="263.0" font-size="4.8" text-anchor="middle" fill="#222">10<tspan dy="-1.7" font-size="3.5">-10</tspan></text>
<circle cx="295.9" cy="178.3" r="1.6" fill="#fff" stroke="#111" stroke-width="0.9"/>
<circle cx="299.5" cy="181.6" r="1.6" fill="#fff" stroke="#111" stroke-width="0.9"/>
<circle cx="290.1" cy="191.8" r="1.6" fill="#fff" stroke="#111" stroke-width="0.9"/>
<circle cx="284" cy="197.1" r="1.6" fill="#fff" stroke="#111" stroke-width="0.9"/>
<circle cx="290.1" cy="197.4" r="1.6" fill="#fff" stroke="#111" stroke-width="0.9"/>
<circle cx="280.4" cy="201.3" r="1.6" fill="#fff" stroke="#111" stroke-width="0.9"/>
<circle cx="294" cy="201.5" r="1.6" fill="#fff" stroke="#111" stroke-width="0.9"/>
<circle cx="307" cy="203.2" r="1.6" fill="#fff" stroke="#111" stroke-width="0.9"/>
<circle cx="254.9" cy="214.2" r="1.6" fill="#fff" stroke="#111" stroke-width="0.9"/>
<circle cx="232.2" cy="240.5" r="1.6" fill="#fff" stroke="#111" stroke-width="0.9"/>
<circle cx="252.7" cy="244.9" r="1.6" fill="#fff" stroke="#111" stroke-width="0.9"/>
<circle cx="295.9" cy="157.2" r="1.8" fill="#000"/>
<circle cx="284" cy="168.6" r="1.8" fill="#000"/>
<circle cx="299.5" cy="167.7" r="1.8" fill="#000"/>
<circle cx="290.1" cy="174.7" r="1.8" fill="#000"/>
<circle cx="280.4" cy="180.5" r="1.8" fill="#000"/>
<circle cx="289.6" cy="178.8" r="1.8" fill="#000"/>
<circle cx="307" cy="180.5" r="1.8" fill="#000"/>
<circle cx="294.3" cy="194" r="1.8" fill="#000"/>
<circle cx="254.9" cy="204.3" r="1.8" fill="#000"/>
<circle cx="252.7" cy="223" r="1.8" fill="#000"/>
<circle cx="232.2" cy="233.8" r="1.8" fill="#000"/>
<circle cx="220.5" cy="152.5" r="1.85" fill="#000"/>
<text x="226.2" y="154.8" font-size="6.6" text-anchor="start" fill="#111" textLength="26.8" lengthAdjust="spacingAndGlyphs" >Standard</text>
<text x="218.0" y="161.9" font-size="6.5" fill="#111" textLength="45.2" lengthAdjust="spacingAndGlyphs"><tspan font-style="italic">r</tspan>=0.71&#160; <tspan font-style="italic">P</tspan>=0.01</text>
<circle cx="220.7" cy="172.10000000000002" r="1.6" fill="#fff" stroke="#111" stroke-width="0.9"/>
<text x="225.2" y="173.60000000000002" font-size="6.6" text-anchor="start" fill="#111" textLength="25.4" lengthAdjust="spacingAndGlyphs" >CD8 null</text>
<text x="218.0" y="182.0" font-size="6.5" fill="#111" textLength="45.2" lengthAdjust="spacingAndGlyphs"><tspan font-style="italic">r</tspan>=0.62&#160; <tspan font-style="italic">P</tspan>=0.04</text>
<text x="210.5" y="271.1" font-size="7.4" fill="#111" textLength="116.5" lengthAdjust="spacingAndGlyphs">EC<tspan font-size="4.6">50</tspan> antigen sensitivity (M peptide)</text>
<text x="188.0" y="200.5" font-size="7.4" fill="#111" text-anchor="middle" textLength="108" lengthAdjust="spacingAndGlyphs" transform="rotate(-90 188.0 200.5)">EC<tspan font-size="4.6">50</tspan> TCR avidity with % tet+ cells</text>
<text x="196.9" y="203.2" font-size="7.3" text-anchor="middle" fill="#111" textLength="52.5" lengthAdjust="spacingAndGlyphs" transform="rotate(-90 196.9 203.2)" >(µg/ml tetramer)</text>
<path d="M400.6 149.2V255.5H508" fill="none" stroke="#444" stroke-width="1.2"/>
<path d="M400.7 149.3h-2.4M400.7 175.7h-2.4M400.7 202.0h-2.4M400.7 228.4h-2.4M400.7 254.7h-2.4M400.9 255.6v2.2M427.6 255.6v2.2M454.3 255.6v2.2M481.0 255.6v2.2M507.7 255.6v2.2" stroke="#222" stroke-width="0.7" fill="none"/>
<text x="397.1" y="151.0" font-size="4.8" text-anchor="end" fill="#222">10<tspan dy="-1.7" font-size="3.5">-2</tspan></text>
<text x="397.1" y="177.35" font-size="4.8" text-anchor="end" fill="#222">10<tspan dy="-1.7" font-size="3.5">-1</tspan></text>
<text x="397.1" y="203.7" font-size="4.8" text-anchor="end" fill="#222">10<tspan dy="-1.7" font-size="3.5">0</tspan></text>
<text x="397.1" y="230.05" font-size="4.8" text-anchor="end" fill="#222">10<tspan dy="-1.7" font-size="3.5">1</tspan></text>
<text x="397.1" y="256.4" font-size="4.8" text-anchor="end" fill="#222">10<tspan dy="-1.7" font-size="3.5">2</tspan></text>
<text x="401.5" y="262.0" font-size="4.8" text-anchor="middle" fill="#222">10<tspan dy="-1.7" font-size="3.5">-6</tspan></text>
<text x="428.2" y="262.0" font-size="4.8" text-anchor="middle" fill="#222">10<tspan dy="-1.7" font-size="3.5">-7</tspan></text>
<text x="454.9" y="262.0" font-size="4.8" text-anchor="middle" fill="#222">10<tspan dy="-1.7" font-size="3.5">-8</tspan></text>
<text x="481.6" y="262.0" font-size="4.8" text-anchor="middle" fill="#222">10<tspan dy="-1.7" font-size="3.5">-9</tspan></text>
<text x="509.9" y="262.0" font-size="4.8" text-anchor="middle" fill="#222">10<tspan dy="-1.7" font-size="3.5">-10</tspan></text>
<circle cx="483.4" cy="180.8" r="1.6" fill="#fff" stroke="#111" stroke-width="0.9"/>
<circle cx="486.7" cy="192.7" r="1.6" fill="#fff" stroke="#111" stroke-width="0.9"/>
<circle cx="471.5" cy="199.3" r="1.6" fill="#fff" stroke="#111" stroke-width="0.9"/>
<circle cx="477.3" cy="201.5" r="1.6" fill="#fff" stroke="#111" stroke-width="0.9"/>
<circle cx="477.3" cy="205.2" r="1.6" fill="#fff" stroke="#111" stroke-width="0.9"/>
<circle cx="481.7" cy="206.5" r="1.6" fill="#fff" stroke="#111" stroke-width="0.9"/>
<circle cx="468.2" cy="207.9" r="1.6" fill="#fff" stroke="#111" stroke-width="0.9"/>
<circle cx="494.2" cy="210.1" r="1.6" fill="#fff" stroke="#111" stroke-width="0.9"/>
<circle cx="442.1" cy="220.8" r="1.6" fill="#fff" stroke="#111" stroke-width="0.9"/>
<circle cx="419.6" cy="232.4" r="1.6" fill="#fff" stroke="#111" stroke-width="0.9"/>
<circle cx="439.9" cy="240.2" r="1.6" fill="#fff" stroke="#111" stroke-width="0.9"/>
<circle cx="483.4" cy="175.2" r="1.8" fill="#000"/>
<circle cx="468.2" cy="185.7" r="1.8" fill="#000"/>
<circle cx="477.3" cy="184.6" r="1.8" fill="#000"/>
<circle cx="471.5" cy="191.6" r="1.8" fill="#000"/>
<circle cx="477.3" cy="194.9" r="1.8" fill="#000"/>
<circle cx="486.7" cy="189.1" r="1.8" fill="#000"/>
<circle cx="494.2" cy="187.1" r="1.8" fill="#000"/>
<circle cx="481.7" cy="200.2" r="1.8" fill="#000"/>
<circle cx="442.1" cy="214" r="1.8" fill="#000"/>
<circle cx="419.6" cy="223.6" r="1.8" fill="#000"/>
<circle cx="439.9" cy="222.7" r="1.8" fill="#000"/>
<circle cx="406.5" cy="152.6" r="1.85" fill="#000"/>
<text x="412.20000000000005" y="154.9" font-size="6.6" text-anchor="start" fill="#111" textLength="26.8" lengthAdjust="spacingAndGlyphs" >Standard</text>
<text x="404.0" y="162.0" font-size="6.5" fill="#111" textLength="45.2" lengthAdjust="spacingAndGlyphs"><tspan font-style="italic">r</tspan>=0.64&#160; <tspan font-style="italic">P</tspan>=0.03</text>
<circle cx="406.70000000000005" cy="172.20000000000002" r="1.6" fill="#fff" stroke="#111" stroke-width="0.9"/>
<text x="411.20000000000005" y="173.70000000000002" font-size="6.6" text-anchor="start" fill="#111" textLength="25.4" lengthAdjust="spacingAndGlyphs" >CD8 null</text>
<text x="404.0" y="182.1" font-size="6.5" fill="#111" textLength="45.2" lengthAdjust="spacingAndGlyphs"><tspan font-style="italic">r</tspan>=0.64&#160; <tspan font-style="italic">P</tspan>=0.03</text>
<text x="398.9" y="270.8" font-size="7.4" fill="#111" textLength="116.4" lengthAdjust="spacingAndGlyphs">EC<tspan font-size="4.6">50</tspan> antigen sensitivity (M peptide)</text>
<text x="375.0" y="207.7" font-size="7.3" fill="#111" text-anchor="middle" textLength="84.4" lengthAdjust="spacingAndGlyphs" transform="rotate(-90 375.0 207.7)">EC<tspan font-size="4.6">50</tspan> TCR avidity with MFI</text>
<text x="384.1" y="206.45" font-size="7.3" text-anchor="middle" fill="#111" textLength="52.7" lengthAdjust="spacingAndGlyphs" transform="rotate(-90 384.1 206.45)" >(µg/ml tetramer)</text>
</svg>
</body></html>
